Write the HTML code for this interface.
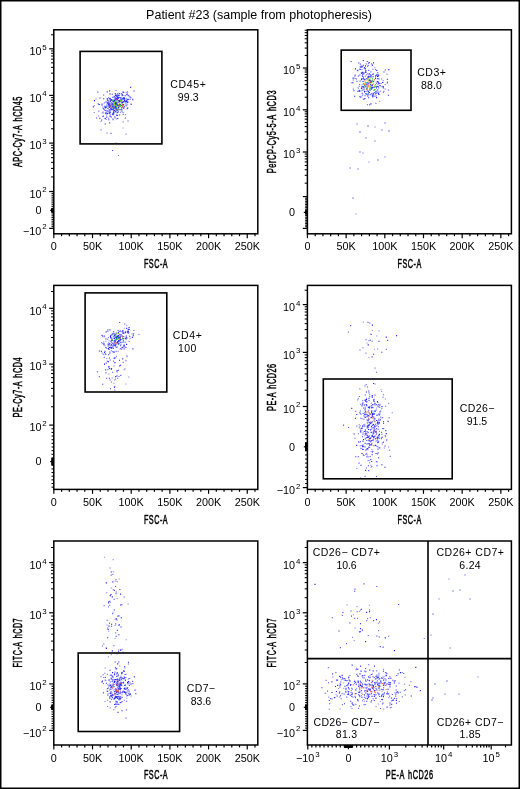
<!DOCTYPE html>
<html><head><meta charset="utf-8"><title>Patient #23</title>
<style>html,body{margin:0;padding:0;background:#fff;width:520px;height:789px;overflow:hidden}svg{display:block;-webkit-font-smoothing:antialiased;will-change:transform}</style>
</head><body>
<svg width="520" height="789" viewBox="0 0 520 789" font-family='"Liberation Sans", sans-serif'><rect x="0" y="0" width="520" height="789" fill="#fff"/><rect x="0.75" y="0.75" width="518.5" height="787.5" fill="none" stroke="#000" stroke-width="1.5"/><text x="259" y="19.4" font-size="12.5" text-anchor="middle" >Patient #23 (sample from photopheresis)</text><path fill="#1a1aff" fill-opacity="0.6" d="M116.46 102.95h1.1v1.1h-1.1zM110.22 99.35h1.1v1.1h-1.1zM109.94 97.79h1.1v1.1h-1.1zM116.25 108.48h1.1v1.1h-1.1zM107.04 107.99h1.1v1.1h-1.1zM116.22 118.28h1.1v1.1h-1.1zM122.47 104.04h1.1v1.1h-1.1zM111.96 102.48h1.1v1.1h-1.1zM120.49 101.03h1.1v1.1h-1.1zM121.23 95.27h1.1v1.1h-1.1zM113.21 99.43h1.1v1.1h-1.1zM102.5 111.52h1.1v1.1h-1.1zM114.32 98.51h1.1v1.1h-1.1zM116.28 99.46h1.1v1.1h-1.1zM116.41 106.39h1.1v1.1h-1.1zM120.53 97.27h1.1v1.1h-1.1zM102.2 106.42h1.1v1.1h-1.1zM112.08 99.42h1.1v1.1h-1.1zM119.9 97.23h1.1v1.1h-1.1zM110.44 99.71h1.1v1.1h-1.1zM115.99 114.58h1.1v1.1h-1.1zM112.65 100.92h1.1v1.1h-1.1zM111.59 104.07h1.1v1.1h-1.1zM116.51 103.91h1.1v1.1h-1.1zM113.82 97.08h1.1v1.1h-1.1zM109.07 106.68h1.1v1.1h-1.1zM111.18 106.85h1.1v1.1h-1.1zM112.67 104.29h1.1v1.1h-1.1zM107.94 97.15h1.1v1.1h-1.1zM116.61 95.39h1.1v1.1h-1.1zM127.05 98.68h1.1v1.1h-1.1zM107.72 108.09h1.1v1.1h-1.1zM101.68 112.49h1.1v1.1h-1.1zM116.02 94.54h1.1v1.1h-1.1zM110.24 103.93h1.1v1.1h-1.1zM130.63 103.95h1.1v1.1h-1.1zM114.41 101.53h1.1v1.1h-1.1zM93.69 111.89h1.1v1.1h-1.1zM108.24 100.98h1.1v1.1h-1.1zM109.87 104.88h1.1v1.1h-1.1zM117.55 108.04h1.1v1.1h-1.1zM116.72 98.73h1.1v1.1h-1.1zM109.15 111.98h1.1v1.1h-1.1zM124.11 98.98h1.1v1.1h-1.1zM116.4 110.13h1.1v1.1h-1.1zM98.16 104.25h1.1v1.1h-1.1zM108.91 102.66h1.1v1.1h-1.1zM115.2 111.13h1.1v1.1h-1.1zM103.73 102.28h1.1v1.1h-1.1zM127.43 101.31h1.1v1.1h-1.1zM114.9 102.29h1.1v1.1h-1.1zM117.79 100.69h1.1v1.1h-1.1zM114.64 93.1h1.1v1.1h-1.1zM107.72 110.4h1.1v1.1h-1.1zM124.02 97.51h1.1v1.1h-1.1zM126.8 100.97h1.1v1.1h-1.1zM116.17 103.42h1.1v1.1h-1.1zM117.9 101.75h1.1v1.1h-1.1zM119.17 114.27h1.1v1.1h-1.1zM106.59 110.88h1.1v1.1h-1.1zM125.44 133.6h1.1v1.1h-1.1zM112.19 106.27h1.1v1.1h-1.1zM106.69 110.18h1.1v1.1h-1.1zM116.91 101.83h1.1v1.1h-1.1zM97.97 115.45h1.1v1.1h-1.1zM105.61 109.74h1.1v1.1h-1.1zM105.64 118.89h1.1v1.1h-1.1zM93.65 105.04h1.1v1.1h-1.1zM114.66 117.35h1.1v1.1h-1.1zM111.79 113.39h1.1v1.1h-1.1zM113.32 113.3h1.1v1.1h-1.1zM100.55 129.32h1.1v1.1h-1.1zM117.95 154.95h1.1v1.1h-1.1zM115.45 142.45h1.1v1.1h-1.1zM95.45 98.45h1.1v1.1h-1.1zM382.85 91.78h1.1v1.1h-1.1zM367.37 77.34h1.1v1.1h-1.1zM369.29 80.3h1.1v1.1h-1.1zM374.44 95.77h1.1v1.1h-1.1zM361.43 69.13h1.1v1.1h-1.1zM384.62 84.02h1.1v1.1h-1.1zM381.06 78.46h1.1v1.1h-1.1zM380.01 90.73h1.1v1.1h-1.1zM371.53 92.67h1.1v1.1h-1.1zM378.9 82.72h1.1v1.1h-1.1zM374.81 93.59h1.1v1.1h-1.1zM364.62 86.04h1.1v1.1h-1.1zM372.11 73.81h1.1v1.1h-1.1zM365.43 93.27h1.1v1.1h-1.1zM365.21 86.44h1.1v1.1h-1.1zM377.8 92.73h1.1v1.1h-1.1zM371.05 92.94h1.1v1.1h-1.1zM383.37 90.83h1.1v1.1h-1.1zM374.97 90.94h1.1v1.1h-1.1zM374.35 67.25h1.1v1.1h-1.1zM372.14 80.25h1.1v1.1h-1.1zM376.64 91.87h1.1v1.1h-1.1zM364.48 95.07h1.1v1.1h-1.1zM352.81 88.55h1.1v1.1h-1.1zM362.2 72.54h1.1v1.1h-1.1zM370.38 85.73h1.1v1.1h-1.1zM362.15 66.35h1.1v1.1h-1.1zM375.69 95.33h1.1v1.1h-1.1zM367.46 73.12h1.1v1.1h-1.1zM364.72 75.59h1.1v1.1h-1.1zM378.25 75.02h1.1v1.1h-1.1zM360.82 73h1.1v1.1h-1.1zM375.97 85.73h1.1v1.1h-1.1zM368.63 79.69h1.1v1.1h-1.1zM380.48 82.93h1.1v1.1h-1.1zM367.43 82.08h1.1v1.1h-1.1zM377.98 74.85h1.1v1.1h-1.1zM362.74 89.41h1.1v1.1h-1.1zM370.65 93.53h1.1v1.1h-1.1zM361.51 90.06h1.1v1.1h-1.1zM370.17 80.39h1.1v1.1h-1.1zM363.07 72.4h1.1v1.1h-1.1zM368.22 74.49h1.1v1.1h-1.1zM359.66 66h1.1v1.1h-1.1zM364.96 71.08h1.1v1.1h-1.1zM360.38 66.29h1.1v1.1h-1.1zM359.73 65.68h1.1v1.1h-1.1zM371.09 63.34h1.1v1.1h-1.1zM367.71 64.8h1.1v1.1h-1.1zM374.45 126.45h1.1v1.1h-1.1zM368.45 161.45h1.1v1.1h-1.1zM355.45 213.45h1.1v1.1h-1.1zM138.37 333.95h1.1v1.1h-1.1zM124.59 338.04h1.1v1.1h-1.1zM116.65 336.01h1.1v1.1h-1.1zM127.96 328.78h1.1v1.1h-1.1zM118.28 339.8h1.1v1.1h-1.1zM118.28 336.48h1.1v1.1h-1.1zM131.35 333.27h1.1v1.1h-1.1zM112.64 337.59h1.1v1.1h-1.1zM117.6 350.73h1.1v1.1h-1.1zM122.72 330.15h1.1v1.1h-1.1zM108.7 344.69h1.1v1.1h-1.1zM115.84 338.01h1.1v1.1h-1.1zM115.31 339.54h1.1v1.1h-1.1zM101.6 352.47h1.1v1.1h-1.1zM112.88 345.46h1.1v1.1h-1.1zM110.88 350.25h1.1v1.1h-1.1zM118.79 330.97h1.1v1.1h-1.1zM113.79 351.56h1.1v1.1h-1.1zM132.68 334.36h1.1v1.1h-1.1zM122.04 346.78h1.1v1.1h-1.1zM118.95 339.6h1.1v1.1h-1.1zM119.39 337.68h1.1v1.1h-1.1zM115.75 336.62h1.1v1.1h-1.1zM123.61 344.47h1.1v1.1h-1.1zM114.38 345.09h1.1v1.1h-1.1zM123.36 336.14h1.1v1.1h-1.1zM107.19 338.61h1.1v1.1h-1.1zM113.84 351.73h1.1v1.1h-1.1zM112.82 347.79h1.1v1.1h-1.1zM107.85 336.89h1.1v1.1h-1.1zM111.91 345.43h1.1v1.1h-1.1zM119.83 335.72h1.1v1.1h-1.1zM118.39 341.04h1.1v1.1h-1.1zM108.26 342.15h1.1v1.1h-1.1zM122.3 332.73h1.1v1.1h-1.1zM123.1 333.01h1.1v1.1h-1.1zM125.78 335.2h1.1v1.1h-1.1zM125.65 335.88h1.1v1.1h-1.1zM107.76 345.7h1.1v1.1h-1.1zM107.38 369.04h1.1v1.1h-1.1zM122.62 361.85h1.1v1.1h-1.1zM115.1 378.44h1.1v1.1h-1.1zM101.16 342.05h1.1v1.1h-1.1zM109.2 368.07h1.1v1.1h-1.1zM112.12 371.85h1.1v1.1h-1.1zM113.46 365.47h1.1v1.1h-1.1zM128.24 376.38h1.1v1.1h-1.1zM106.17 357.94h1.1v1.1h-1.1zM119.47 348.41h1.1v1.1h-1.1zM116.84 371.43h1.1v1.1h-1.1zM111.66 377.51h1.1v1.1h-1.1zM103.8 343.36h1.1v1.1h-1.1zM117.08 369.99h1.1v1.1h-1.1zM113.49 382.71h1.1v1.1h-1.1zM108.28 373.45h1.1v1.1h-1.1zM103.76 335.29h1.1v1.1h-1.1zM126.55 356.1h1.1v1.1h-1.1zM124.35 368.37h1.1v1.1h-1.1zM372.49 427.11h1.1v1.1h-1.1zM359.84 403.63h1.1v1.1h-1.1zM368.1 409.84h1.1v1.1h-1.1zM377.01 453.55h1.1v1.1h-1.1zM359.89 429.61h1.1v1.1h-1.1zM377.59 436.06h1.1v1.1h-1.1zM368.7 440.61h1.1v1.1h-1.1zM384.93 436.14h1.1v1.1h-1.1zM373.31 416.6h1.1v1.1h-1.1zM373.58 435.98h1.1v1.1h-1.1zM355.21 410.78h1.1v1.1h-1.1zM364.42 416.33h1.1v1.1h-1.1zM369.26 422.48h1.1v1.1h-1.1zM384.6 435.07h1.1v1.1h-1.1zM372.94 399.08h1.1v1.1h-1.1zM367.24 449.16h1.1v1.1h-1.1zM379.31 406.72h1.1v1.1h-1.1zM368.84 435.25h1.1v1.1h-1.1zM363.04 407.59h1.1v1.1h-1.1zM363.38 415.34h1.1v1.1h-1.1zM363.03 448.95h1.1v1.1h-1.1zM371.18 411.3h1.1v1.1h-1.1zM369.16 394.26h1.1v1.1h-1.1zM376.32 414.9h1.1v1.1h-1.1zM366.28 405.35h1.1v1.1h-1.1zM371.15 428.65h1.1v1.1h-1.1zM356.23 413.99h1.1v1.1h-1.1zM372.5 407.07h1.1v1.1h-1.1zM366.07 452.63h1.1v1.1h-1.1zM363.52 454.92h1.1v1.1h-1.1zM379.36 410.82h1.1v1.1h-1.1zM370.33 464.74h1.1v1.1h-1.1zM368.27 447.24h1.1v1.1h-1.1zM378.61 447h1.1v1.1h-1.1zM359.84 412.87h1.1v1.1h-1.1zM361.66 445.24h1.1v1.1h-1.1zM359.64 445.2h1.1v1.1h-1.1zM359.53 425.35h1.1v1.1h-1.1zM377.19 446.03h1.1v1.1h-1.1zM391.67 412.21h1.1v1.1h-1.1zM377.04 442.19h1.1v1.1h-1.1zM366 456.13h1.1v1.1h-1.1zM363.91 404.56h1.1v1.1h-1.1zM377.71 423.83h1.1v1.1h-1.1zM380.18 410.58h1.1v1.1h-1.1zM361.46 418.12h1.1v1.1h-1.1zM369.61 422.36h1.1v1.1h-1.1zM359.31 388.29h1.1v1.1h-1.1zM373.6 430.37h1.1v1.1h-1.1zM368.65 422h1.1v1.1h-1.1zM368.51 406.12h1.1v1.1h-1.1zM365.15 431.51h1.1v1.1h-1.1zM364.62 433.26h1.1v1.1h-1.1zM370.96 443.86h1.1v1.1h-1.1zM357.88 433.24h1.1v1.1h-1.1zM365.06 432.92h1.1v1.1h-1.1zM366.01 397.65h1.1v1.1h-1.1zM373.32 445.1h1.1v1.1h-1.1zM370.01 444.27h1.1v1.1h-1.1zM370.58 466.71h1.1v1.1h-1.1zM370.55 450.97h1.1v1.1h-1.1zM379.84 419.09h1.1v1.1h-1.1zM371.26 442.87h1.1v1.1h-1.1zM386.2 440.26h1.1v1.1h-1.1zM384.83 398.4h1.1v1.1h-1.1zM373.65 429.15h1.1v1.1h-1.1zM388.07 446.49h1.1v1.1h-1.1zM378.74 435.31h1.1v1.1h-1.1zM357.04 399.52h1.1v1.1h-1.1zM367.83 419.57h1.1v1.1h-1.1zM370.99 431.86h1.1v1.1h-1.1zM378.87 437.87h1.1v1.1h-1.1zM374.96 410.72h1.1v1.1h-1.1zM363.38 424.12h1.1v1.1h-1.1zM371.32 406.41h1.1v1.1h-1.1zM379.17 404.89h1.1v1.1h-1.1zM367.14 426.02h1.1v1.1h-1.1zM381.93 428h1.1v1.1h-1.1zM382.53 396.54h1.1v1.1h-1.1zM377.96 426.09h1.1v1.1h-1.1zM360.45 413.71h1.1v1.1h-1.1zM368.04 415.52h1.1v1.1h-1.1zM361.72 427.7h1.1v1.1h-1.1zM373.23 400.41h1.1v1.1h-1.1zM371.27 465.95h1.1v1.1h-1.1zM376.99 348.48h1.1v1.1h-1.1zM365.36 352.57h1.1v1.1h-1.1zM362.8 321.45h1.1v1.1h-1.1zM374.42 367.59h1.1v1.1h-1.1zM347.85 331.57h1.1v1.1h-1.1zM385.83 348.81h1.1v1.1h-1.1zM359.41 349.31h1.1v1.1h-1.1zM368.44 340.12h1.1v1.1h-1.1zM111.66 686.55h1.1v1.1h-1.1zM115.99 673.42h1.1v1.1h-1.1zM126.21 687.47h1.1v1.1h-1.1zM116.32 691.9h1.1v1.1h-1.1zM122.8 690.7h1.1v1.1h-1.1zM112.1 676.37h1.1v1.1h-1.1zM120.31 684.98h1.1v1.1h-1.1zM121.27 694.25h1.1v1.1h-1.1zM120.54 675.49h1.1v1.1h-1.1zM117.72 686.2h1.1v1.1h-1.1zM125.85 694.15h1.1v1.1h-1.1zM115.71 696.99h1.1v1.1h-1.1zM104.54 667.48h1.1v1.1h-1.1zM120.18 676.67h1.1v1.1h-1.1zM106.77 699.7h1.1v1.1h-1.1zM112.5 685.93h1.1v1.1h-1.1zM124.17 688.4h1.1v1.1h-1.1zM113.76 683.91h1.1v1.1h-1.1zM113.79 691.07h1.1v1.1h-1.1zM116.41 684.73h1.1v1.1h-1.1zM121.24 679.3h1.1v1.1h-1.1zM124.16 688.76h1.1v1.1h-1.1zM107.08 705.88h1.1v1.1h-1.1zM112.7 698.16h1.1v1.1h-1.1zM120.38 692h1.1v1.1h-1.1zM111.34 692.36h1.1v1.1h-1.1zM110.52 684.85h1.1v1.1h-1.1zM129.08 693.71h1.1v1.1h-1.1zM104.49 700.92h1.1v1.1h-1.1zM117.7 673.82h1.1v1.1h-1.1zM116.89 701.57h1.1v1.1h-1.1zM109.93 692.22h1.1v1.1h-1.1zM120.63 684.65h1.1v1.1h-1.1zM104.62 679.56h1.1v1.1h-1.1zM116.24 701.09h1.1v1.1h-1.1zM110.7 686.88h1.1v1.1h-1.1zM117.7 688.35h1.1v1.1h-1.1zM124.04 676.8h1.1v1.1h-1.1zM117.63 693.99h1.1v1.1h-1.1zM119.99 690.4h1.1v1.1h-1.1zM109.95 686.86h1.1v1.1h-1.1zM121.68 677.5h1.1v1.1h-1.1zM115.38 683.27h1.1v1.1h-1.1zM117.45 679.8h1.1v1.1h-1.1zM119.21 665.51h1.1v1.1h-1.1zM103.14 676.93h1.1v1.1h-1.1zM105.23 679.89h1.1v1.1h-1.1zM128.42 677.92h1.1v1.1h-1.1zM115.66 668.65h1.1v1.1h-1.1zM110.56 674.3h1.1v1.1h-1.1zM130.64 695.51h1.1v1.1h-1.1zM123.76 699.71h1.1v1.1h-1.1zM114.38 671.53h1.1v1.1h-1.1zM107.43 693.37h1.1v1.1h-1.1zM113.59 698.88h1.1v1.1h-1.1zM119.56 684.42h1.1v1.1h-1.1zM126.36 692.51h1.1v1.1h-1.1zM106.55 624.38h1.1v1.1h-1.1zM116.5 653.35h1.1v1.1h-1.1zM114.58 624.99h1.1v1.1h-1.1zM109.13 604.78h1.1v1.1h-1.1zM112.35 573.79h1.1v1.1h-1.1zM122.54 651.68h1.1v1.1h-1.1zM112.66 588.99h1.1v1.1h-1.1zM118.02 624.66h1.1v1.1h-1.1zM107.9 606.32h1.1v1.1h-1.1zM127.58 603.41h1.1v1.1h-1.1zM110.82 654.22h1.1v1.1h-1.1zM110.69 587.4h1.1v1.1h-1.1zM109.7 601.59h1.1v1.1h-1.1zM106.17 592.19h1.1v1.1h-1.1zM115.06 632.3h1.1v1.1h-1.1zM351.35 702.74h1.1v1.1h-1.1zM341.99 678.44h1.1v1.1h-1.1zM379.17 689.54h1.1v1.1h-1.1zM347.79 692.23h1.1v1.1h-1.1zM383.46 683.64h1.1v1.1h-1.1zM389.84 707.07h1.1v1.1h-1.1zM362.16 677.26h1.1v1.1h-1.1zM368.53 688.37h1.1v1.1h-1.1zM369.3 693.55h1.1v1.1h-1.1zM372.27 676.27h1.1v1.1h-1.1zM374.62 678.52h1.1v1.1h-1.1zM376.78 692.17h1.1v1.1h-1.1zM364.05 696.83h1.1v1.1h-1.1zM360.14 665.99h1.1v1.1h-1.1zM351.48 707.98h1.1v1.1h-1.1zM348.71 688.62h1.1v1.1h-1.1zM327.8 667.07h1.1v1.1h-1.1zM356.1 687.77h1.1v1.1h-1.1zM389.12 695.6h1.1v1.1h-1.1zM380.4 681.48h1.1v1.1h-1.1zM368.18 664.1h1.1v1.1h-1.1zM345.6 679.99h1.1v1.1h-1.1zM360.95 695.17h1.1v1.1h-1.1zM355.35 703.79h1.1v1.1h-1.1zM392.73 698.45h1.1v1.1h-1.1zM351.94 692.41h1.1v1.1h-1.1zM351.74 688.62h1.1v1.1h-1.1zM386.92 691.62h1.1v1.1h-1.1zM376.21 670.3h1.1v1.1h-1.1zM387.87 681.77h1.1v1.1h-1.1zM403.77 690.12h1.1v1.1h-1.1zM385.87 684.36h1.1v1.1h-1.1zM368.62 689.52h1.1v1.1h-1.1zM354.12 682.89h1.1v1.1h-1.1zM357.34 668.67h1.1v1.1h-1.1zM364.92 703.94h1.1v1.1h-1.1zM390.54 677.79h1.1v1.1h-1.1zM403.98 683.72h1.1v1.1h-1.1zM370.24 684.8h1.1v1.1h-1.1zM398.74 700.88h1.1v1.1h-1.1zM346.98 693.96h1.1v1.1h-1.1zM361.26 692.64h1.1v1.1h-1.1zM364.96 689.98h1.1v1.1h-1.1zM379.02 686.36h1.1v1.1h-1.1zM337.26 724h1.1v1.1h-1.1zM325.6 679.79h1.1v1.1h-1.1zM360.53 681.98h1.1v1.1h-1.1zM390.93 700.34h1.1v1.1h-1.1zM363.09 698.98h1.1v1.1h-1.1zM348.01 682.85h1.1v1.1h-1.1zM383.14 708.5h1.1v1.1h-1.1zM349.42 674.95h1.1v1.1h-1.1zM372.36 680.21h1.1v1.1h-1.1zM373.93 676.93h1.1v1.1h-1.1zM404.68 694.31h1.1v1.1h-1.1zM332.37 676.49h1.1v1.1h-1.1zM355.97 667.66h1.1v1.1h-1.1zM377.22 675.68h1.1v1.1h-1.1zM381.8 694.26h1.1v1.1h-1.1zM369.68 688.82h1.1v1.1h-1.1zM379.33 685.98h1.1v1.1h-1.1zM341.88 704.07h1.1v1.1h-1.1zM365.03 678.72h1.1v1.1h-1.1zM389.63 684.06h1.1v1.1h-1.1zM397.26 691.03h1.1v1.1h-1.1zM372.87 685.74h1.1v1.1h-1.1zM368.67 696.18h1.1v1.1h-1.1zM371.91 673.39h1.1v1.1h-1.1zM363.83 700.67h1.1v1.1h-1.1zM374.72 692.22h1.1v1.1h-1.1zM355.54 669.04h1.1v1.1h-1.1zM352.39 696.71h1.1v1.1h-1.1zM340.72 679.21h1.1v1.1h-1.1zM387.35 688.44h1.1v1.1h-1.1zM374.34 689.68h1.1v1.1h-1.1zM372.97 676.41h1.1v1.1h-1.1zM391.03 706.7h1.1v1.1h-1.1zM397.9 692.32h1.1v1.1h-1.1zM343.14 687.77h1.1v1.1h-1.1zM378.27 694.35h1.1v1.1h-1.1zM373.44 686.89h1.1v1.1h-1.1zM377.79 687.53h1.1v1.1h-1.1zM398.39 682.59h1.1v1.1h-1.1zM365.35 692.67h1.1v1.1h-1.1zM423.69 638.01h1.1v1.1h-1.1zM346.55 604.47h1.1v1.1h-1.1zM358.84 610.71h1.1v1.1h-1.1zM354.38 627.45h1.1v1.1h-1.1zM377.83 622.68h1.1v1.1h-1.1zM378.02 630.08h1.1v1.1h-1.1zM356.66 611.09h1.1v1.1h-1.1zM359.96 609.48h1.1v1.1h-1.1zM366.15 620.11h1.1v1.1h-1.1zM356.48 606.24h1.1v1.1h-1.1zM448.45 578.45h1.1v1.1h-1.1zM477.45 676.45h1.1v1.1h-1.1z"/><path fill="#1a1aff" fill-opacity="0.9" d="M118.54 96.85h1.1v1.1h-1.1zM125.83 98.47h1.1v1.1h-1.1zM103.14 98.2h1.1v1.1h-1.1zM107.42 102.25h1.1v1.1h-1.1zM118.35 109.16h1.1v1.1h-1.1zM98.83 104h1.1v1.1h-1.1zM110.8 99.31h1.1v1.1h-1.1zM105.62 113.23h1.1v1.1h-1.1zM116.97 99.14h1.1v1.1h-1.1zM115.98 103.82h1.1v1.1h-1.1zM121.12 107.51h1.1v1.1h-1.1zM122.74 104.23h1.1v1.1h-1.1zM125.25 100.74h1.1v1.1h-1.1zM114.16 110.02h1.1v1.1h-1.1zM107.41 99.85h1.1v1.1h-1.1zM114.32 105.96h1.1v1.1h-1.1zM117.6 104.5h1.1v1.1h-1.1zM121.37 107.09h1.1v1.1h-1.1zM116.7 111.69h1.1v1.1h-1.1zM109.07 90.32h1.1v1.1h-1.1zM102.47 115.93h1.1v1.1h-1.1zM101.55 103.53h1.1v1.1h-1.1zM122.38 91.53h1.1v1.1h-1.1zM117.37 97.37h1.1v1.1h-1.1zM105.69 106.8h1.1v1.1h-1.1zM125.19 101.11h1.1v1.1h-1.1zM109.62 105.63h1.1v1.1h-1.1zM106.8 99.3h1.1v1.1h-1.1zM118.81 104.09h1.1v1.1h-1.1zM126.3 100.11h1.1v1.1h-1.1zM114.34 107h1.1v1.1h-1.1zM121.21 109.09h1.1v1.1h-1.1zM108.43 102.45h1.1v1.1h-1.1zM104.63 109.89h1.1v1.1h-1.1zM122.17 104.46h1.1v1.1h-1.1zM109.34 106.7h1.1v1.1h-1.1zM122.33 97.85h1.1v1.1h-1.1zM104.94 107.09h1.1v1.1h-1.1zM118.27 106.69h1.1v1.1h-1.1zM109.65 109.25h1.1v1.1h-1.1zM119.3 101.04h1.1v1.1h-1.1zM111.84 100.47h1.1v1.1h-1.1zM109.46 93.37h1.1v1.1h-1.1zM118.94 99.82h1.1v1.1h-1.1zM106.7 91.36h1.1v1.1h-1.1zM106.3 116.55h1.1v1.1h-1.1zM125.78 100.98h1.1v1.1h-1.1zM124.36 100.46h1.1v1.1h-1.1zM112.01 103.25h1.1v1.1h-1.1zM113.7 95.81h1.1v1.1h-1.1zM122.64 113.66h1.1v1.1h-1.1zM118.68 105.72h1.1v1.1h-1.1zM130.12 86.87h1.1v1.1h-1.1zM106.98 113.04h1.1v1.1h-1.1zM116.74 114.99h1.1v1.1h-1.1zM109.86 100.9h1.1v1.1h-1.1zM110.46 98.96h1.1v1.1h-1.1zM118.53 94.84h1.1v1.1h-1.1zM114.36 106.25h1.1v1.1h-1.1zM129.55 96.58h1.1v1.1h-1.1zM122.43 98.35h1.1v1.1h-1.1zM132.25 98.74h1.1v1.1h-1.1zM124.86 117.51h1.1v1.1h-1.1zM105.42 106.09h1.1v1.1h-1.1zM124.01 106.17h1.1v1.1h-1.1zM103.17 94.48h1.1v1.1h-1.1zM92.76 106.28h1.1v1.1h-1.1zM114.26 116.13h1.1v1.1h-1.1zM115.37 106.14h1.1v1.1h-1.1zM117.72 109.03h1.1v1.1h-1.1zM114.98 94.78h1.1v1.1h-1.1zM115.14 107.93h1.1v1.1h-1.1zM108.92 112.73h1.1v1.1h-1.1zM375.03 77.97h1.1v1.1h-1.1zM366.17 88.21h1.1v1.1h-1.1zM376.03 82.7h1.1v1.1h-1.1zM362.2 71.72h1.1v1.1h-1.1zM361.5 85.98h1.1v1.1h-1.1zM370.56 80.74h1.1v1.1h-1.1zM369.96 81.87h1.1v1.1h-1.1zM377.22 72.26h1.1v1.1h-1.1zM378.37 91.38h1.1v1.1h-1.1zM364.66 78.64h1.1v1.1h-1.1zM361.19 87.27h1.1v1.1h-1.1zM359.7 96.71h1.1v1.1h-1.1zM376.43 73.97h1.1v1.1h-1.1zM376.09 92.75h1.1v1.1h-1.1zM378.46 93.98h1.1v1.1h-1.1zM375.37 85.98h1.1v1.1h-1.1zM368.92 91.89h1.1v1.1h-1.1zM368.87 79.72h1.1v1.1h-1.1zM377.31 85.7h1.1v1.1h-1.1zM373.75 86.76h1.1v1.1h-1.1zM366.45 90.71h1.1v1.1h-1.1zM363.26 86.75h1.1v1.1h-1.1zM382.78 87.38h1.1v1.1h-1.1zM366.58 85.6h1.1v1.1h-1.1zM372.24 96.46h1.1v1.1h-1.1zM364 91.47h1.1v1.1h-1.1zM382.51 86.25h1.1v1.1h-1.1zM359.1 90.63h1.1v1.1h-1.1zM375.93 87.36h1.1v1.1h-1.1zM366.65 87.16h1.1v1.1h-1.1zM361.07 79.12h1.1v1.1h-1.1zM357.83 75.42h1.1v1.1h-1.1zM375.07 75.3h1.1v1.1h-1.1zM357.44 90.84h1.1v1.1h-1.1zM351.41 82.16h1.1v1.1h-1.1zM367.75 76.36h1.1v1.1h-1.1zM364.64 71.97h1.1v1.1h-1.1zM369.08 104.25h1.1v1.1h-1.1zM368.09 97.18h1.1v1.1h-1.1zM361.32 72.54h1.1v1.1h-1.1zM363.97 90.82h1.1v1.1h-1.1zM387.85 94.63h1.1v1.1h-1.1zM368.18 62.59h1.1v1.1h-1.1zM372.98 62.37h1.1v1.1h-1.1zM368.71 61.93h1.1v1.1h-1.1zM350.55 60.97h1.1v1.1h-1.1zM359.29 74.5h1.1v1.1h-1.1zM365.3 70.04h1.1v1.1h-1.1zM363.38 73.15h1.1v1.1h-1.1zM358.18 62.45h1.1v1.1h-1.1zM364.14 67.12h1.1v1.1h-1.1zM362.01 71.78h1.1v1.1h-1.1zM365.45 137.45h1.1v1.1h-1.1zM384.45 122.45h1.1v1.1h-1.1zM352.45 197.45h1.1v1.1h-1.1zM349.45 167.45h1.1v1.1h-1.1zM108.95 346.95h1.1v1.1h-1.1zM98.86 350.49h1.1v1.1h-1.1zM114.25 344.66h1.1v1.1h-1.1zM109.41 329.33h1.1v1.1h-1.1zM117.8 331.83h1.1v1.1h-1.1zM109.31 351.38h1.1v1.1h-1.1zM122.68 338.02h1.1v1.1h-1.1zM116.46 346.55h1.1v1.1h-1.1zM122.13 337.45h1.1v1.1h-1.1zM132.77 335.19h1.1v1.1h-1.1zM111.29 347.19h1.1v1.1h-1.1zM117.98 335.12h1.1v1.1h-1.1zM103.3 344.27h1.1v1.1h-1.1zM105.61 331.28h1.1v1.1h-1.1zM109.28 342.94h1.1v1.1h-1.1zM126.84 331.65h1.1v1.1h-1.1zM125.17 337.78h1.1v1.1h-1.1zM110.21 334.97h1.1v1.1h-1.1zM109.65 346.74h1.1v1.1h-1.1zM118.39 340.32h1.1v1.1h-1.1zM116.98 335.79h1.1v1.1h-1.1zM119.39 337.2h1.1v1.1h-1.1zM115.95 337.61h1.1v1.1h-1.1zM113.89 337.97h1.1v1.1h-1.1zM118.78 334.17h1.1v1.1h-1.1zM116.56 342.05h1.1v1.1h-1.1zM116.97 341.59h1.1v1.1h-1.1zM114.81 345.48h1.1v1.1h-1.1zM110.04 336.07h1.1v1.1h-1.1zM126.12 327.81h1.1v1.1h-1.1zM111.97 339.77h1.1v1.1h-1.1zM124.68 332.21h1.1v1.1h-1.1zM124.82 331.82h1.1v1.1h-1.1zM116.73 341.97h1.1v1.1h-1.1zM118.08 343.65h1.1v1.1h-1.1zM100.8 350.86h1.1v1.1h-1.1zM110.29 337.15h1.1v1.1h-1.1zM132.37 348.37h1.1v1.1h-1.1zM98.8 376.17h1.1v1.1h-1.1zM103.79 356.71h1.1v1.1h-1.1zM115.53 350.73h1.1v1.1h-1.1zM122.18 358.28h1.1v1.1h-1.1zM105.41 372.14h1.1v1.1h-1.1zM108.87 377.71h1.1v1.1h-1.1zM108.12 366.36h1.1v1.1h-1.1zM116.15 370.47h1.1v1.1h-1.1zM106.79 360.73h1.1v1.1h-1.1zM105.12 369.34h1.1v1.1h-1.1zM113.6 357.8h1.1v1.1h-1.1zM108.85 357.52h1.1v1.1h-1.1zM361.97 425.43h1.1v1.1h-1.1zM371.13 460.88h1.1v1.1h-1.1zM367.89 406.93h1.1v1.1h-1.1zM362.76 454.47h1.1v1.1h-1.1zM361.95 436.15h1.1v1.1h-1.1zM360.04 430.75h1.1v1.1h-1.1zM389.72 455.68h1.1v1.1h-1.1zM362.98 438.97h1.1v1.1h-1.1zM368.37 436.05h1.1v1.1h-1.1zM372.94 424h1.1v1.1h-1.1zM375.65 403.96h1.1v1.1h-1.1zM387.54 420.83h1.1v1.1h-1.1zM365.16 399.49h1.1v1.1h-1.1zM361.38 427.59h1.1v1.1h-1.1zM364.69 416.99h1.1v1.1h-1.1zM371.22 410.35h1.1v1.1h-1.1zM378.11 457.2h1.1v1.1h-1.1zM368.2 418.36h1.1v1.1h-1.1zM367.44 436.8h1.1v1.1h-1.1zM367.5 420.17h1.1v1.1h-1.1zM367.34 415.35h1.1v1.1h-1.1zM367.06 435.23h1.1v1.1h-1.1zM376.68 436.93h1.1v1.1h-1.1zM368.82 407.31h1.1v1.1h-1.1zM364.43 385.51h1.1v1.1h-1.1zM371.76 421.23h1.1v1.1h-1.1zM367.53 427.22h1.1v1.1h-1.1zM366.33 448.61h1.1v1.1h-1.1zM377.62 428.66h1.1v1.1h-1.1zM368.65 442.95h1.1v1.1h-1.1zM375.04 438.15h1.1v1.1h-1.1zM374.35 418.34h1.1v1.1h-1.1zM367.49 411.43h1.1v1.1h-1.1zM376.86 400.98h1.1v1.1h-1.1zM367.15 448h1.1v1.1h-1.1zM362.51 440.54h1.1v1.1h-1.1zM366.59 419.39h1.1v1.1h-1.1zM364.29 413.85h1.1v1.1h-1.1zM364.82 410.64h1.1v1.1h-1.1zM370.25 459.05h1.1v1.1h-1.1zM362.3 445.91h1.1v1.1h-1.1zM373.04 436.63h1.1v1.1h-1.1zM368.18 390.38h1.1v1.1h-1.1zM351.2 407.85h1.1v1.1h-1.1zM385.22 430.08h1.1v1.1h-1.1zM379.33 412.38h1.1v1.1h-1.1zM371.79 413.28h1.1v1.1h-1.1zM375.61 409.4h1.1v1.1h-1.1zM371.17 405.17h1.1v1.1h-1.1zM384.49 445.38h1.1v1.1h-1.1zM377.46 448.57h1.1v1.1h-1.1zM364.25 425.56h1.1v1.1h-1.1zM366.28 416.16h1.1v1.1h-1.1zM370.76 444.38h1.1v1.1h-1.1zM373.27 432.3h1.1v1.1h-1.1zM377.03 422.05h1.1v1.1h-1.1zM367.46 424.79h1.1v1.1h-1.1zM370.94 426.12h1.1v1.1h-1.1zM367.84 465.27h1.1v1.1h-1.1zM356.13 444.8h1.1v1.1h-1.1zM379.23 447.38h1.1v1.1h-1.1zM365.88 391.43h1.1v1.1h-1.1zM372.99 382.94h1.1v1.1h-1.1zM368.13 424.38h1.1v1.1h-1.1zM371.38 440.02h1.1v1.1h-1.1zM370.13 441.19h1.1v1.1h-1.1zM367.36 443.24h1.1v1.1h-1.1zM368.17 470.06h1.1v1.1h-1.1zM376.44 461.2h1.1v1.1h-1.1zM370.1 422.91h1.1v1.1h-1.1zM369.08 423.76h1.1v1.1h-1.1zM376.73 436.63h1.1v1.1h-1.1zM361.08 427.9h1.1v1.1h-1.1zM369.26 438.52h1.1v1.1h-1.1zM362.13 448.86h1.1v1.1h-1.1zM381.27 351.76h1.1v1.1h-1.1zM396 335.07h1.1v1.1h-1.1zM110.31 695.08h1.1v1.1h-1.1zM116.29 682.38h1.1v1.1h-1.1zM120.81 678.74h1.1v1.1h-1.1zM120.1 688.03h1.1v1.1h-1.1zM114.68 696.13h1.1v1.1h-1.1zM115.66 695.95h1.1v1.1h-1.1zM118.41 697.61h1.1v1.1h-1.1zM115.16 679.11h1.1v1.1h-1.1zM134.51 689.62h1.1v1.1h-1.1zM114.56 689.26h1.1v1.1h-1.1zM109.62 701.32h1.1v1.1h-1.1zM108.37 685.5h1.1v1.1h-1.1zM125.13 692.12h1.1v1.1h-1.1zM110.68 678.51h1.1v1.1h-1.1zM125.38 717.38h1.1v1.1h-1.1zM127.54 682.35h1.1v1.1h-1.1zM118.76 692.5h1.1v1.1h-1.1zM114.08 673.36h1.1v1.1h-1.1zM114.15 681.08h1.1v1.1h-1.1zM114.23 693.47h1.1v1.1h-1.1zM127.92 661.74h1.1v1.1h-1.1zM112.06 684.75h1.1v1.1h-1.1zM113.95 674.23h1.1v1.1h-1.1zM120.67 682.33h1.1v1.1h-1.1zM116.82 681.53h1.1v1.1h-1.1zM111.14 696.25h1.1v1.1h-1.1zM118.62 682.5h1.1v1.1h-1.1zM117.44 711.83h1.1v1.1h-1.1zM122.88 681.72h1.1v1.1h-1.1zM133.76 676.28h1.1v1.1h-1.1zM116.62 696.47h1.1v1.1h-1.1zM108.53 679.3h1.1v1.1h-1.1zM120.07 696.19h1.1v1.1h-1.1zM119.8 698.32h1.1v1.1h-1.1zM119.12 678.61h1.1v1.1h-1.1zM118.49 695.82h1.1v1.1h-1.1zM119.75 702.03h1.1v1.1h-1.1zM120.69 677.27h1.1v1.1h-1.1zM124.61 673.97h1.1v1.1h-1.1zM121.22 672.35h1.1v1.1h-1.1zM123.54 670.99h1.1v1.1h-1.1zM118.31 661.52h1.1v1.1h-1.1zM114.6 661.44h1.1v1.1h-1.1zM124.82 684.59h1.1v1.1h-1.1zM113.79 693.77h1.1v1.1h-1.1zM101.99 680.4h1.1v1.1h-1.1zM110.4 692.74h1.1v1.1h-1.1zM129.39 682.39h1.1v1.1h-1.1zM116.27 691h1.1v1.1h-1.1zM114.78 697.37h1.1v1.1h-1.1zM111.26 675.19h1.1v1.1h-1.1zM114.92 703.38h1.1v1.1h-1.1zM115.94 691.65h1.1v1.1h-1.1zM119.79 688.33h1.1v1.1h-1.1zM129.51 693.57h1.1v1.1h-1.1zM123.13 682.42h1.1v1.1h-1.1zM120.57 683.01h1.1v1.1h-1.1zM120.01 593.6h1.1v1.1h-1.1zM120.03 604.41h1.1v1.1h-1.1zM105.9 647.86h1.1v1.1h-1.1zM115.57 635.63h1.1v1.1h-1.1zM115.88 618.3h1.1v1.1h-1.1zM111.76 596.3h1.1v1.1h-1.1zM120.22 649.99h1.1v1.1h-1.1zM107.09 637.25h1.1v1.1h-1.1zM118.05 651.16h1.1v1.1h-1.1zM118.85 624.35h1.1v1.1h-1.1zM111.03 625.72h1.1v1.1h-1.1zM112.28 581.31h1.1v1.1h-1.1zM113.77 589.85h1.1v1.1h-1.1zM109.73 595.06h1.1v1.1h-1.1zM113.54 598.75h1.1v1.1h-1.1zM108.99 622.77h1.1v1.1h-1.1zM115.49 579.21h1.1v1.1h-1.1zM117.39 615.55h1.1v1.1h-1.1zM115.45 618.26h1.1v1.1h-1.1zM119.31 589h1.1v1.1h-1.1zM344.29 678.11h1.1v1.1h-1.1zM358.96 705.4h1.1v1.1h-1.1zM389.76 681.95h1.1v1.1h-1.1zM369.53 689.81h1.1v1.1h-1.1zM348.65 679.54h1.1v1.1h-1.1zM364.44 683.57h1.1v1.1h-1.1zM359.45 673.37h1.1v1.1h-1.1zM368.05 676.29h1.1v1.1h-1.1zM349.53 680.56h1.1v1.1h-1.1zM373.8 696.01h1.1v1.1h-1.1zM372.62 670.31h1.1v1.1h-1.1zM357.52 675.82h1.1v1.1h-1.1zM378.27 683.43h1.1v1.1h-1.1zM373.76 699.94h1.1v1.1h-1.1zM370.79 674h1.1v1.1h-1.1zM387.13 693.32h1.1v1.1h-1.1zM365.33 671.17h1.1v1.1h-1.1zM370.49 701.48h1.1v1.1h-1.1zM386.56 706.59h1.1v1.1h-1.1zM375.06 685.95h1.1v1.1h-1.1zM362.1 683.55h1.1v1.1h-1.1zM382.96 670.67h1.1v1.1h-1.1zM344.95 679.68h1.1v1.1h-1.1zM383.08 679.58h1.1v1.1h-1.1zM419.83 690.1h1.1v1.1h-1.1zM382.57 702.44h1.1v1.1h-1.1zM377.05 677.4h1.1v1.1h-1.1zM405.04 689.13h1.1v1.1h-1.1zM363.61 704.18h1.1v1.1h-1.1zM331.38 681.31h1.1v1.1h-1.1zM369.33 684.09h1.1v1.1h-1.1zM381.81 699.07h1.1v1.1h-1.1zM369.43 677.07h1.1v1.1h-1.1zM374.56 683.28h1.1v1.1h-1.1zM343.57 693.45h1.1v1.1h-1.1zM397.61 673.14h1.1v1.1h-1.1zM351.86 702.44h1.1v1.1h-1.1zM396.26 674.93h1.1v1.1h-1.1zM336.59 695.52h1.1v1.1h-1.1zM388.12 677.89h1.1v1.1h-1.1zM367.77 696.9h1.1v1.1h-1.1zM371.07 681.9h1.1v1.1h-1.1zM395.63 689.43h1.1v1.1h-1.1zM356.31 673.74h1.1v1.1h-1.1zM329.11 703.18h1.1v1.1h-1.1zM382.62 689.15h1.1v1.1h-1.1zM335.92 690.92h1.1v1.1h-1.1zM341.78 677.26h1.1v1.1h-1.1zM342.66 678.19h1.1v1.1h-1.1zM358.37 691.81h1.1v1.1h-1.1zM356.69 668.75h1.1v1.1h-1.1zM369.18 669.59h1.1v1.1h-1.1zM351.29 695.85h1.1v1.1h-1.1zM346.34 685.1h1.1v1.1h-1.1zM378.47 682.44h1.1v1.1h-1.1zM393.59 680.7h1.1v1.1h-1.1zM340.05 676.53h1.1v1.1h-1.1zM367.86 694.67h1.1v1.1h-1.1zM348.27 676.6h1.1v1.1h-1.1zM358.49 683.52h1.1v1.1h-1.1zM333.94 697.1h1.1v1.1h-1.1zM371.45 695.84h1.1v1.1h-1.1zM382.93 696.05h1.1v1.1h-1.1zM366.27 689.64h1.1v1.1h-1.1zM361.72 685.81h1.1v1.1h-1.1zM359.25 691.37h1.1v1.1h-1.1zM389.7 683.45h1.1v1.1h-1.1zM359.89 680.7h1.1v1.1h-1.1zM348.17 682.61h1.1v1.1h-1.1zM366.49 690.59h1.1v1.1h-1.1zM355.23 689.31h1.1v1.1h-1.1zM380.59 682.51h1.1v1.1h-1.1zM391.12 703.85h1.1v1.1h-1.1zM373.96 665.53h1.1v1.1h-1.1zM345.18 690.63h1.1v1.1h-1.1zM350.21 700.67h1.1v1.1h-1.1zM348.02 693.6h1.1v1.1h-1.1zM328.74 699.94h1.1v1.1h-1.1zM351.61 664.59h1.1v1.1h-1.1zM371.75 680.95h1.1v1.1h-1.1zM382.38 693.44h1.1v1.1h-1.1zM360.64 685.3h1.1v1.1h-1.1zM343.96 703.16h1.1v1.1h-1.1zM366.22 700.63h1.1v1.1h-1.1zM367.68 688.47h1.1v1.1h-1.1zM383.25 694.43h1.1v1.1h-1.1zM350.5 610.38h1.1v1.1h-1.1zM354.12 590.75h1.1v1.1h-1.1zM368.95 611.05h1.1v1.1h-1.1zM342.38 611.98h1.1v1.1h-1.1zM379.72 646.07h1.1v1.1h-1.1zM398.15 603.97h1.1v1.1h-1.1zM382.57 646.53h1.1v1.1h-1.1zM361.76 629.57h1.1v1.1h-1.1zM349.35 622.45h1.1v1.1h-1.1zM360 631.21h1.1v1.1h-1.1zM358.92 631.31h1.1v1.1h-1.1zM359.95 628.11h1.1v1.1h-1.1zM459.45 589.45h1.1v1.1h-1.1zM452.45 590.45h1.1v1.1h-1.1zM432.45 613.45h1.1v1.1h-1.1zM434.45 683.45h1.1v1.1h-1.1zM432.45 697.45h1.1v1.1h-1.1z"/><path fill="#ff8000" fill-opacity="0.85" d="M114.53 105.18h1.1v1.1h-1.1zM117.55 104.8h1.1v1.1h-1.1zM115.13 98.57h1.1v1.1h-1.1zM113.36 101.2h1.1v1.1h-1.1zM121.65 104.15h1.1v1.1h-1.1zM119.1 104.62h1.1v1.1h-1.1zM120.49 100.68h1.1v1.1h-1.1zM112.3 106.62h1.1v1.1h-1.1zM120.91 100.17h1.1v1.1h-1.1zM370.82 82.09h1.1v1.1h-1.1zM369.08 88.94h1.1v1.1h-1.1zM369.67 82.09h1.1v1.1h-1.1zM367.6 85.99h1.1v1.1h-1.1zM369.12 86.46h1.1v1.1h-1.1zM370.44 79.95h1.1v1.1h-1.1zM364.85 82.11h1.1v1.1h-1.1zM368.54 81.36h1.1v1.1h-1.1zM116.97 336.63h1.1v1.1h-1.1zM121.69 335.55h1.1v1.1h-1.1zM122 336h1.1v1.1h-1.1z"/><path fill="#1a1aff" fill-opacity="0.7" d="M113.27 111.16h1.1v1.1h-1.1zM112.11 104.51h1.1v1.1h-1.1zM117.19 96.42h1.1v1.1h-1.1zM114.8 106.65h1.1v1.1h-1.1zM115.14 97.52h1.1v1.1h-1.1zM117.24 93.04h1.1v1.1h-1.1zM109.6 113.56h1.1v1.1h-1.1zM117.22 104.64h1.1v1.1h-1.1zM116.9 94.42h1.1v1.1h-1.1zM125.96 94.06h1.1v1.1h-1.1zM130.45 97.17h1.1v1.1h-1.1zM108.05 103.46h1.1v1.1h-1.1zM126.52 92.33h1.1v1.1h-1.1zM115.77 98.05h1.1v1.1h-1.1zM113.45 108.51h1.1v1.1h-1.1zM118.92 93.06h1.1v1.1h-1.1zM108.65 97.72h1.1v1.1h-1.1zM118.88 92.91h1.1v1.1h-1.1zM115.22 96.82h1.1v1.1h-1.1zM117.8 97.49h1.1v1.1h-1.1zM108.53 110.94h1.1v1.1h-1.1zM126.54 108.18h1.1v1.1h-1.1zM116.09 103.73h1.1v1.1h-1.1zM110.9 99.75h1.1v1.1h-1.1zM128.03 98.82h1.1v1.1h-1.1zM106.27 104.62h1.1v1.1h-1.1zM104.12 106.13h1.1v1.1h-1.1zM121.59 99.3h1.1v1.1h-1.1zM108.69 109.38h1.1v1.1h-1.1zM115.47 90.01h1.1v1.1h-1.1zM120.24 104.93h1.1v1.1h-1.1zM121.92 93.92h1.1v1.1h-1.1zM122.48 111.96h1.1v1.1h-1.1zM129.6 98.65h1.1v1.1h-1.1zM115.82 107.19h1.1v1.1h-1.1zM113.23 111.3h1.1v1.1h-1.1zM124.53 101.3h1.1v1.1h-1.1zM101.05 119.57h1.1v1.1h-1.1zM107.18 101.61h1.1v1.1h-1.1zM128.5 95.53h1.1v1.1h-1.1zM113.2 100.98h1.1v1.1h-1.1zM116.02 102.1h1.1v1.1h-1.1zM127.15 101.97h1.1v1.1h-1.1zM112.56 113.73h1.1v1.1h-1.1zM123.2 104.46h1.1v1.1h-1.1zM114.69 100.22h1.1v1.1h-1.1zM116.83 105.03h1.1v1.1h-1.1zM116.04 106.88h1.1v1.1h-1.1zM120 109.25h1.1v1.1h-1.1zM108.69 104.3h1.1v1.1h-1.1zM112.24 108.99h1.1v1.1h-1.1zM109.14 105.05h1.1v1.1h-1.1zM115.07 111.2h1.1v1.1h-1.1zM104.65 117.86h1.1v1.1h-1.1zM117.82 111.28h1.1v1.1h-1.1zM101.43 104.68h1.1v1.1h-1.1zM106.77 102.89h1.1v1.1h-1.1zM97.28 91.55h1.1v1.1h-1.1zM118.2 97.44h1.1v1.1h-1.1zM108.12 117.64h1.1v1.1h-1.1zM114.79 102.46h1.1v1.1h-1.1zM109.65 99.93h1.1v1.1h-1.1zM110.45 132.83h1.1v1.1h-1.1zM98.34 110.59h1.1v1.1h-1.1zM109.97 111.44h1.1v1.1h-1.1zM112.39 118.26h1.1v1.1h-1.1zM106.45 132.45h1.1v1.1h-1.1zM371.75 84.77h1.1v1.1h-1.1zM377.96 81.83h1.1v1.1h-1.1zM370.36 71.31h1.1v1.1h-1.1zM364.4 90.92h1.1v1.1h-1.1zM359.05 83.89h1.1v1.1h-1.1zM369.21 89.03h1.1v1.1h-1.1zM369.95 79.72h1.1v1.1h-1.1zM386.48 73.73h1.1v1.1h-1.1zM362.18 94.56h1.1v1.1h-1.1zM361.69 92.8h1.1v1.1h-1.1zM376.64 81.06h1.1v1.1h-1.1zM367.73 76.51h1.1v1.1h-1.1zM369.58 89.85h1.1v1.1h-1.1zM384.61 88.52h1.1v1.1h-1.1zM372.23 94.24h1.1v1.1h-1.1zM367.76 93.07h1.1v1.1h-1.1zM367.81 83.05h1.1v1.1h-1.1zM358.71 85.68h1.1v1.1h-1.1zM381.38 86.26h1.1v1.1h-1.1zM361.53 78.1h1.1v1.1h-1.1zM382.62 80.23h1.1v1.1h-1.1zM361.13 88.24h1.1v1.1h-1.1zM378.13 87.31h1.1v1.1h-1.1zM361.15 96.41h1.1v1.1h-1.1zM353.4 77.55h1.1v1.1h-1.1zM364.09 88.49h1.1v1.1h-1.1zM362.61 88.45h1.1v1.1h-1.1zM371.71 95.51h1.1v1.1h-1.1zM365.32 85.5h1.1v1.1h-1.1zM375.04 76.32h1.1v1.1h-1.1zM373.24 95.58h1.1v1.1h-1.1zM367.14 83.21h1.1v1.1h-1.1zM375.14 69.03h1.1v1.1h-1.1zM352.41 82.09h1.1v1.1h-1.1zM354.39 75.76h1.1v1.1h-1.1zM377.39 75.2h1.1v1.1h-1.1zM363.73 79.19h1.1v1.1h-1.1zM370.5 87.83h1.1v1.1h-1.1zM368.99 88.7h1.1v1.1h-1.1zM387.01 81.62h1.1v1.1h-1.1zM366.72 78.4h1.1v1.1h-1.1zM356.88 69.8h1.1v1.1h-1.1zM361.17 65.56h1.1v1.1h-1.1zM372.34 68.73h1.1v1.1h-1.1zM357.03 69.68h1.1v1.1h-1.1zM360.87 72.21h1.1v1.1h-1.1zM367.1 65.79h1.1v1.1h-1.1zM384.45 156.45h1.1v1.1h-1.1zM362.45 152.45h1.1v1.1h-1.1zM120.1 345.11h1.1v1.1h-1.1zM116.04 336.85h1.1v1.1h-1.1zM128.57 340.96h1.1v1.1h-1.1zM122.26 341.73h1.1v1.1h-1.1zM116.7 341.22h1.1v1.1h-1.1zM119.78 330.36h1.1v1.1h-1.1zM111.1 334.27h1.1v1.1h-1.1zM126.3 337.45h1.1v1.1h-1.1zM117.46 342.58h1.1v1.1h-1.1zM120.15 347.95h1.1v1.1h-1.1zM122.26 332.31h1.1v1.1h-1.1zM111.49 338.86h1.1v1.1h-1.1zM111.42 346.7h1.1v1.1h-1.1zM119.61 337.77h1.1v1.1h-1.1zM120.33 341.4h1.1v1.1h-1.1zM111.59 338.71h1.1v1.1h-1.1zM113.51 341.74h1.1v1.1h-1.1zM107.34 329.13h1.1v1.1h-1.1zM105.33 353.63h1.1v1.1h-1.1zM114.58 341.91h1.1v1.1h-1.1zM118.15 339.99h1.1v1.1h-1.1zM107.51 343.54h1.1v1.1h-1.1zM111.01 347.56h1.1v1.1h-1.1zM103.19 341.44h1.1v1.1h-1.1zM119.85 335.51h1.1v1.1h-1.1zM127.52 332.7h1.1v1.1h-1.1zM122.89 340.42h1.1v1.1h-1.1zM102 335.2h1.1v1.1h-1.1zM115.79 332.53h1.1v1.1h-1.1zM111.64 333.4h1.1v1.1h-1.1zM112.51 333.49h1.1v1.1h-1.1zM129.53 337.77h1.1v1.1h-1.1zM111.38 334.47h1.1v1.1h-1.1zM107.52 344.49h1.1v1.1h-1.1zM133.41 330.01h1.1v1.1h-1.1zM104.48 345.25h1.1v1.1h-1.1zM108.75 366.15h1.1v1.1h-1.1zM114.24 389.45h1.1v1.1h-1.1zM110.89 343.94h1.1v1.1h-1.1zM112.95 360.56h1.1v1.1h-1.1zM118.47 376h1.1v1.1h-1.1zM110.81 368.7h1.1v1.1h-1.1zM106.13 377.85h1.1v1.1h-1.1zM122.71 339.49h1.1v1.1h-1.1zM115.9 355.63h1.1v1.1h-1.1zM114.16 362.49h1.1v1.1h-1.1zM117.15 377.67h1.1v1.1h-1.1zM111.04 367.98h1.1v1.1h-1.1zM101.33 334.85h1.1v1.1h-1.1zM114.22 379.4h1.1v1.1h-1.1zM106.37 347.88h1.1v1.1h-1.1zM117.65 340.84h1.1v1.1h-1.1zM110.9 381.49h1.1v1.1h-1.1zM365.13 433.97h1.1v1.1h-1.1zM366.37 434.65h1.1v1.1h-1.1zM371.65 435.1h1.1v1.1h-1.1zM357.8 398.22h1.1v1.1h-1.1zM380.96 431.85h1.1v1.1h-1.1zM373.98 413.37h1.1v1.1h-1.1zM371.6 395.72h1.1v1.1h-1.1zM377.81 441.83h1.1v1.1h-1.1zM364.36 409.43h1.1v1.1h-1.1zM366.05 414.23h1.1v1.1h-1.1zM369.47 405.71h1.1v1.1h-1.1zM371.13 407.44h1.1v1.1h-1.1zM386.21 439.18h1.1v1.1h-1.1zM381.35 433.67h1.1v1.1h-1.1zM376.07 427.88h1.1v1.1h-1.1zM382.11 417.12h1.1v1.1h-1.1zM385.17 405.66h1.1v1.1h-1.1zM362.34 402.24h1.1v1.1h-1.1zM362.47 433.67h1.1v1.1h-1.1zM373.35 437.75h1.1v1.1h-1.1zM368.48 392.29h1.1v1.1h-1.1zM370.41 437.12h1.1v1.1h-1.1zM365.44 400.58h1.1v1.1h-1.1zM366.6 427.29h1.1v1.1h-1.1zM377.93 422.28h1.1v1.1h-1.1zM364.94 430.69h1.1v1.1h-1.1zM378.89 430.64h1.1v1.1h-1.1zM369.1 462.22h1.1v1.1h-1.1zM369.17 437.88h1.1v1.1h-1.1zM382.89 441.52h1.1v1.1h-1.1zM388.1 402.73h1.1v1.1h-1.1zM375.41 429.36h1.1v1.1h-1.1zM371.06 412.42h1.1v1.1h-1.1zM367.51 426.36h1.1v1.1h-1.1zM363.36 418.7h1.1v1.1h-1.1zM361.58 444.97h1.1v1.1h-1.1zM372.74 432.59h1.1v1.1h-1.1zM374.81 431.33h1.1v1.1h-1.1zM374.52 383.5h1.1v1.1h-1.1zM389.06 449.64h1.1v1.1h-1.1zM380.84 438.08h1.1v1.1h-1.1zM378.09 440.65h1.1v1.1h-1.1zM382.93 394.22h1.1v1.1h-1.1zM378.57 414.7h1.1v1.1h-1.1zM372.72 439.52h1.1v1.1h-1.1zM364.58 475.81h1.1v1.1h-1.1zM355.25 456.04h1.1v1.1h-1.1zM378.23 419.53h1.1v1.1h-1.1zM373.59 400.96h1.1v1.1h-1.1zM364.79 411.72h1.1v1.1h-1.1zM356.28 425.62h1.1v1.1h-1.1zM366.05 404.55h1.1v1.1h-1.1zM377.45 437.43h1.1v1.1h-1.1zM373.9 425.92h1.1v1.1h-1.1zM378.07 413.39h1.1v1.1h-1.1zM358.68 426.74h1.1v1.1h-1.1zM374.55 394.54h1.1v1.1h-1.1zM367.33 436.48h1.1v1.1h-1.1zM354.39 437.77h1.1v1.1h-1.1zM383 422.79h1.1v1.1h-1.1zM366.18 401.73h1.1v1.1h-1.1zM358.75 396h1.1v1.1h-1.1zM374.15 420.73h1.1v1.1h-1.1zM362.32 403.02h1.1v1.1h-1.1zM364.36 435.27h1.1v1.1h-1.1zM377.39 405.18h1.1v1.1h-1.1zM375.86 445.41h1.1v1.1h-1.1zM364.81 438.3h1.1v1.1h-1.1zM369.25 444.18h1.1v1.1h-1.1zM381.7 443.47h1.1v1.1h-1.1zM377.08 420.72h1.1v1.1h-1.1zM372.64 424.59h1.1v1.1h-1.1zM348.01 426.9h1.1v1.1h-1.1zM377.79 403.88h1.1v1.1h-1.1zM373.71 404.17h1.1v1.1h-1.1zM362.12 400.16h1.1v1.1h-1.1zM383.72 447.38h1.1v1.1h-1.1zM359.09 412.23h1.1v1.1h-1.1zM372.12 436.11h1.1v1.1h-1.1zM375.03 426.13h1.1v1.1h-1.1zM365.61 383.94h1.1v1.1h-1.1zM365.88 467.47h1.1v1.1h-1.1zM362.43 347.21h1.1v1.1h-1.1zM367.44 321.8h1.1v1.1h-1.1zM375.91 371.64h1.1v1.1h-1.1zM123.97 691.14h1.1v1.1h-1.1zM115.18 667.76h1.1v1.1h-1.1zM123.39 670.33h1.1v1.1h-1.1zM109.94 681.42h1.1v1.1h-1.1zM120.08 683.74h1.1v1.1h-1.1zM117.34 690.45h1.1v1.1h-1.1zM123.91 687.98h1.1v1.1h-1.1zM114.91 666.92h1.1v1.1h-1.1zM115.28 693.06h1.1v1.1h-1.1zM128.58 694.69h1.1v1.1h-1.1zM116.74 687.14h1.1v1.1h-1.1zM128.61 691.31h1.1v1.1h-1.1zM118.56 699.28h1.1v1.1h-1.1zM116.32 694.13h1.1v1.1h-1.1zM106.81 688.18h1.1v1.1h-1.1zM119.05 688.8h1.1v1.1h-1.1zM110.73 677.58h1.1v1.1h-1.1zM124.33 667.38h1.1v1.1h-1.1zM119.26 689.01h1.1v1.1h-1.1zM110.97 698.86h1.1v1.1h-1.1zM118.77 684.5h1.1v1.1h-1.1zM116.87 693.83h1.1v1.1h-1.1zM117.74 685.38h1.1v1.1h-1.1zM125.06 693.28h1.1v1.1h-1.1zM113.98 680.55h1.1v1.1h-1.1zM126.9 687.93h1.1v1.1h-1.1zM117.07 696.07h1.1v1.1h-1.1zM127.83 663.43h1.1v1.1h-1.1zM107.38 684.19h1.1v1.1h-1.1zM121.7 671.67h1.1v1.1h-1.1zM112.56 683.35h1.1v1.1h-1.1zM126.21 695.49h1.1v1.1h-1.1zM112.42 679.42h1.1v1.1h-1.1zM125.35 676.99h1.1v1.1h-1.1zM118.86 685.6h1.1v1.1h-1.1zM119.54 698.18h1.1v1.1h-1.1zM117.63 696.11h1.1v1.1h-1.1zM115.35 688.35h1.1v1.1h-1.1zM115.75 702.26h1.1v1.1h-1.1zM123.94 684.78h1.1v1.1h-1.1zM118.17 683.84h1.1v1.1h-1.1zM118.3 703.82h1.1v1.1h-1.1zM111.96 694.05h1.1v1.1h-1.1zM124.42 687.18h1.1v1.1h-1.1zM119.66 693.09h1.1v1.1h-1.1zM117.52 691.08h1.1v1.1h-1.1zM132.01 680.85h1.1v1.1h-1.1zM124.11 677.68h1.1v1.1h-1.1zM123.5 688.09h1.1v1.1h-1.1zM102.81 682.9h1.1v1.1h-1.1zM109.92 692.9h1.1v1.1h-1.1zM107.93 687.52h1.1v1.1h-1.1zM117.75 680.98h1.1v1.1h-1.1zM113.2 709.23h1.1v1.1h-1.1zM104.35 672.68h1.1v1.1h-1.1zM121.59 696.84h1.1v1.1h-1.1zM117 682.88h1.1v1.1h-1.1zM114.26 691.09h1.1v1.1h-1.1zM119.35 698.27h1.1v1.1h-1.1zM111.66 678.63h1.1v1.1h-1.1zM100.39 676.2h1.1v1.1h-1.1zM121.94 682.25h1.1v1.1h-1.1zM112.44 676.77h1.1v1.1h-1.1zM127.62 689.23h1.1v1.1h-1.1zM127.11 686.91h1.1v1.1h-1.1zM116.65 685.07h1.1v1.1h-1.1zM116.98 680.79h1.1v1.1h-1.1zM118.51 615.32h1.1v1.1h-1.1zM103.24 643.5h1.1v1.1h-1.1zM117.96 649.45h1.1v1.1h-1.1zM109.42 567.41h1.1v1.1h-1.1zM113.74 609.31h1.1v1.1h-1.1zM110.67 574.6h1.1v1.1h-1.1zM115.44 593.1h1.1v1.1h-1.1zM116.54 581.26h1.1v1.1h-1.1zM101.88 645.48h1.1v1.1h-1.1zM112.11 613.06h1.1v1.1h-1.1zM107.17 627.61h1.1v1.1h-1.1zM378.42 684.83h1.1v1.1h-1.1zM361.93 700.21h1.1v1.1h-1.1zM388.85 683.8h1.1v1.1h-1.1zM354.9 697.05h1.1v1.1h-1.1zM358.96 687.32h1.1v1.1h-1.1zM347.94 677.41h1.1v1.1h-1.1zM339.2 696.42h1.1v1.1h-1.1zM368.54 679.86h1.1v1.1h-1.1zM379.17 678.09h1.1v1.1h-1.1zM366.58 686.7h1.1v1.1h-1.1zM375.65 681.67h1.1v1.1h-1.1zM394.47 692.14h1.1v1.1h-1.1zM347.82 684.24h1.1v1.1h-1.1zM359.11 689.27h1.1v1.1h-1.1zM372.86 689.16h1.1v1.1h-1.1zM374.41 690.22h1.1v1.1h-1.1zM381.94 703.4h1.1v1.1h-1.1zM395.15 695.53h1.1v1.1h-1.1zM357.94 700.43h1.1v1.1h-1.1zM354.48 695.83h1.1v1.1h-1.1zM408.81 684.76h1.1v1.1h-1.1zM379.37 682.74h1.1v1.1h-1.1zM376.96 684.39h1.1v1.1h-1.1zM399.69 691.68h1.1v1.1h-1.1zM398.86 669.3h1.1v1.1h-1.1zM347.12 684.33h1.1v1.1h-1.1zM351.11 687.67h1.1v1.1h-1.1zM365.55 680.8h1.1v1.1h-1.1zM339.32 686.72h1.1v1.1h-1.1zM365 680.24h1.1v1.1h-1.1zM375.25 675.72h1.1v1.1h-1.1zM338.76 692.69h1.1v1.1h-1.1zM375.38 678.34h1.1v1.1h-1.1zM401.59 671.91h1.1v1.1h-1.1zM359.99 665.5h1.1v1.1h-1.1zM377.59 676.78h1.1v1.1h-1.1zM388.75 681.9h1.1v1.1h-1.1zM360.5 682.35h1.1v1.1h-1.1zM340.04 695.09h1.1v1.1h-1.1zM326.98 690.55h1.1v1.1h-1.1zM340.69 698.13h1.1v1.1h-1.1zM358.75 685.26h1.1v1.1h-1.1zM321.41 687.05h1.1v1.1h-1.1zM368.49 683.21h1.1v1.1h-1.1zM385.73 672.59h1.1v1.1h-1.1zM392.61 699.6h1.1v1.1h-1.1zM350.46 691.93h1.1v1.1h-1.1zM339.46 682.68h1.1v1.1h-1.1zM376.37 677.12h1.1v1.1h-1.1zM382.16 677.96h1.1v1.1h-1.1zM373.05 687.56h1.1v1.1h-1.1zM357.75 681.24h1.1v1.1h-1.1zM378.19 676.56h1.1v1.1h-1.1zM359.29 696.17h1.1v1.1h-1.1zM335.36 672.08h1.1v1.1h-1.1zM350.91 690.26h1.1v1.1h-1.1zM376.37 674.39h1.1v1.1h-1.1zM371.25 691.03h1.1v1.1h-1.1zM384.35 683.18h1.1v1.1h-1.1zM377.64 692.84h1.1v1.1h-1.1zM344.36 685.82h1.1v1.1h-1.1zM346.22 696.58h1.1v1.1h-1.1zM382.41 676.55h1.1v1.1h-1.1zM363.52 677.28h1.1v1.1h-1.1zM346.5 680.06h1.1v1.1h-1.1zM376.65 682.16h1.1v1.1h-1.1zM371.26 686.51h1.1v1.1h-1.1zM364.15 674.8h1.1v1.1h-1.1zM378.37 672.71h1.1v1.1h-1.1zM366.43 695.61h1.1v1.1h-1.1zM363.36 687.2h1.1v1.1h-1.1zM357.99 707.79h1.1v1.1h-1.1zM401.74 696.37h1.1v1.1h-1.1zM357.16 698.95h1.1v1.1h-1.1zM348.14 687.63h1.1v1.1h-1.1zM378.66 693.54h1.1v1.1h-1.1zM339.43 685.08h1.1v1.1h-1.1zM350.35 706.25h1.1v1.1h-1.1zM375.52 687.8h1.1v1.1h-1.1zM410.37 681.21h1.1v1.1h-1.1zM364.75 684h1.1v1.1h-1.1zM389.64 677.48h1.1v1.1h-1.1zM384.91 671.92h1.1v1.1h-1.1zM353.95 681.27h1.1v1.1h-1.1zM351.13 693.97h1.1v1.1h-1.1zM328.78 708.65h1.1v1.1h-1.1zM381.04 698.94h1.1v1.1h-1.1zM378.41 678.57h1.1v1.1h-1.1zM331.6 698.41h1.1v1.1h-1.1zM376.83 680.3h1.1v1.1h-1.1zM378.71 636.36h1.1v1.1h-1.1zM345.97 643.09h1.1v1.1h-1.1zM367.7 634.96h1.1v1.1h-1.1zM369.78 617.24h1.1v1.1h-1.1zM379.07 621.37h1.1v1.1h-1.1zM369.03 609.42h1.1v1.1h-1.1zM331.75 617.04h1.1v1.1h-1.1zM388.07 635.77h1.1v1.1h-1.1zM354.18 617.81h1.1v1.1h-1.1zM360.88 608.83h1.1v1.1h-1.1zM341.74 614.82h1.1v1.1h-1.1zM438.45 598.45h1.1v1.1h-1.1zM430.45 634.45h1.1v1.1h-1.1z"/><path fill="#1a1aff" fill-opacity="0.8" d="M109.51 112.01h1.1v1.1h-1.1zM113.25 110.54h1.1v1.1h-1.1zM103.56 108.8h1.1v1.1h-1.1zM107.58 104.49h1.1v1.1h-1.1zM112.68 109.61h1.1v1.1h-1.1zM117.29 97.83h1.1v1.1h-1.1zM108.14 103.53h1.1v1.1h-1.1zM110.89 108.92h1.1v1.1h-1.1zM120.98 101.72h1.1v1.1h-1.1zM115.6 103.87h1.1v1.1h-1.1zM113.34 100.7h1.1v1.1h-1.1zM121.02 104.71h1.1v1.1h-1.1zM121.13 98.49h1.1v1.1h-1.1zM104.63 117.96h1.1v1.1h-1.1zM117.89 94.76h1.1v1.1h-1.1zM115.9 102.12h1.1v1.1h-1.1zM115.62 98.71h1.1v1.1h-1.1zM112.07 108.67h1.1v1.1h-1.1zM107.51 106.05h1.1v1.1h-1.1zM123.21 97.83h1.1v1.1h-1.1zM110.8 102.18h1.1v1.1h-1.1zM111.75 93.7h1.1v1.1h-1.1zM116.95 97.03h1.1v1.1h-1.1zM118.49 104.93h1.1v1.1h-1.1zM112.89 103.56h1.1v1.1h-1.1zM115.39 105.43h1.1v1.1h-1.1zM106.78 98.1h1.1v1.1h-1.1zM123.1 107.25h1.1v1.1h-1.1zM123.22 101.09h1.1v1.1h-1.1zM122.9 98.45h1.1v1.1h-1.1zM126.84 93.75h1.1v1.1h-1.1zM104.95 107.09h1.1v1.1h-1.1zM109.52 102.66h1.1v1.1h-1.1zM110.97 107.74h1.1v1.1h-1.1zM116.35 107.81h1.1v1.1h-1.1zM111.61 104.51h1.1v1.1h-1.1zM102.67 107.81h1.1v1.1h-1.1zM112.74 112.61h1.1v1.1h-1.1zM116.78 112.11h1.1v1.1h-1.1zM120.32 99.09h1.1v1.1h-1.1zM117.96 94.94h1.1v1.1h-1.1zM107.55 112.4h1.1v1.1h-1.1zM126.67 102.03h1.1v1.1h-1.1zM122.87 97.36h1.1v1.1h-1.1zM121.13 93.29h1.1v1.1h-1.1zM117.22 95.64h1.1v1.1h-1.1zM112.39 100.16h1.1v1.1h-1.1zM127.67 94.83h1.1v1.1h-1.1zM114.86 98.6h1.1v1.1h-1.1zM114.8 103.82h1.1v1.1h-1.1zM119.68 106.16h1.1v1.1h-1.1zM130.56 103.56h1.1v1.1h-1.1zM110.11 107.92h1.1v1.1h-1.1zM127.12 98.89h1.1v1.1h-1.1zM123.17 91.8h1.1v1.1h-1.1zM115.01 93.13h1.1v1.1h-1.1zM120.59 93.25h1.1v1.1h-1.1zM102.82 115.47h1.1v1.1h-1.1zM121.39 110.58h1.1v1.1h-1.1zM104.48 107.15h1.1v1.1h-1.1zM111.7 105.89h1.1v1.1h-1.1zM108.26 119.23h1.1v1.1h-1.1zM109.3 109.64h1.1v1.1h-1.1zM119.71 103.93h1.1v1.1h-1.1zM112.55 119.26h1.1v1.1h-1.1zM105.35 101.38h1.1v1.1h-1.1zM105.46 111.78h1.1v1.1h-1.1zM125.73 105.24h1.1v1.1h-1.1zM97.65 103.23h1.1v1.1h-1.1zM117.13 109.69h1.1v1.1h-1.1zM109.12 122.3h1.1v1.1h-1.1zM96.07 117.41h1.1v1.1h-1.1zM111.95 149.95h1.1v1.1h-1.1zM127.45 120.45h1.1v1.1h-1.1zM360.89 87.98h1.1v1.1h-1.1zM367.64 76.39h1.1v1.1h-1.1zM386.8 78.79h1.1v1.1h-1.1zM359.56 80.62h1.1v1.1h-1.1zM374.97 92.41h1.1v1.1h-1.1zM369.72 94.18h1.1v1.1h-1.1zM365.54 83.23h1.1v1.1h-1.1zM376.2 74.88h1.1v1.1h-1.1zM366.02 78.22h1.1v1.1h-1.1zM364.15 84.31h1.1v1.1h-1.1zM366.76 84.22h1.1v1.1h-1.1zM378.39 78.42h1.1v1.1h-1.1zM366.25 74.24h1.1v1.1h-1.1zM372.5 76.07h1.1v1.1h-1.1zM352.5 77.56h1.1v1.1h-1.1zM362.78 98.65h1.1v1.1h-1.1zM357.7 87.43h1.1v1.1h-1.1zM377.12 81.04h1.1v1.1h-1.1zM366.89 104.22h1.1v1.1h-1.1zM370.07 84.08h1.1v1.1h-1.1zM372.39 80.69h1.1v1.1h-1.1zM369.91 76.2h1.1v1.1h-1.1zM369.82 74.39h1.1v1.1h-1.1zM367.3 95.59h1.1v1.1h-1.1zM355.89 78.52h1.1v1.1h-1.1zM356.34 80.73h1.1v1.1h-1.1zM369 73.32h1.1v1.1h-1.1zM354.58 74.56h1.1v1.1h-1.1zM387.75 89.47h1.1v1.1h-1.1zM378.04 93.3h1.1v1.1h-1.1zM366.41 93.81h1.1v1.1h-1.1zM376.09 90.63h1.1v1.1h-1.1zM352.72 79.48h1.1v1.1h-1.1zM373.06 81.02h1.1v1.1h-1.1zM363.85 98.5h1.1v1.1h-1.1zM362.3 73.97h1.1v1.1h-1.1zM370.7 75.23h1.1v1.1h-1.1zM371.11 88.81h1.1v1.1h-1.1zM384.75 69.48h1.1v1.1h-1.1zM386.77 82.47h1.1v1.1h-1.1zM358.48 89.71h1.1v1.1h-1.1zM375.33 102.74h1.1v1.1h-1.1zM365.39 93.09h1.1v1.1h-1.1zM367.86 91.33h1.1v1.1h-1.1zM360.43 66.79h1.1v1.1h-1.1zM372.12 95.33h1.1v1.1h-1.1zM368.5 76.03h1.1v1.1h-1.1zM365.78 83.69h1.1v1.1h-1.1zM369.15 82.5h1.1v1.1h-1.1zM359.42 95.88h1.1v1.1h-1.1zM382.79 86.03h1.1v1.1h-1.1zM369.48 76.4h1.1v1.1h-1.1zM363.73 67.72h1.1v1.1h-1.1zM357.35 70.24h1.1v1.1h-1.1zM371.78 64.53h1.1v1.1h-1.1zM361.04 78.62h1.1v1.1h-1.1zM366.79 60.94h1.1v1.1h-1.1zM365.56 71.74h1.1v1.1h-1.1zM365.75 63.43h1.1v1.1h-1.1zM359.74 63.61h1.1v1.1h-1.1zM359.23 68.53h1.1v1.1h-1.1zM368.22 69.8h1.1v1.1h-1.1zM359.91 68.98h1.1v1.1h-1.1zM356.45 123.45h1.1v1.1h-1.1zM374.45 140.45h1.1v1.1h-1.1zM359.45 151.45h1.1v1.1h-1.1zM357.45 168.45h1.1v1.1h-1.1zM381.45 129.45h1.1v1.1h-1.1zM110.93 344.59h1.1v1.1h-1.1zM117.41 335.44h1.1v1.1h-1.1zM109.77 335.85h1.1v1.1h-1.1zM109.82 346.7h1.1v1.1h-1.1zM127.82 330.91h1.1v1.1h-1.1zM124.22 323.49h1.1v1.1h-1.1zM113.29 343.6h1.1v1.1h-1.1zM117.5 329.98h1.1v1.1h-1.1zM114.02 334.89h1.1v1.1h-1.1zM123.2 332.28h1.1v1.1h-1.1zM114 337.64h1.1v1.1h-1.1zM120.39 343.65h1.1v1.1h-1.1zM116.26 335.4h1.1v1.1h-1.1zM115.41 333.77h1.1v1.1h-1.1zM114.9 336.94h1.1v1.1h-1.1zM117.16 336.33h1.1v1.1h-1.1zM118.18 336.7h1.1v1.1h-1.1zM122 330.14h1.1v1.1h-1.1zM112.47 332.64h1.1v1.1h-1.1zM113.77 333.2h1.1v1.1h-1.1zM114.69 334.1h1.1v1.1h-1.1zM111.31 342.26h1.1v1.1h-1.1zM111.07 347.21h1.1v1.1h-1.1zM112.21 343.01h1.1v1.1h-1.1zM125.41 346.9h1.1v1.1h-1.1zM110.13 337.03h1.1v1.1h-1.1zM127.58 329.36h1.1v1.1h-1.1zM102.38 336.26h1.1v1.1h-1.1zM114.74 340.84h1.1v1.1h-1.1zM120.3 341.94h1.1v1.1h-1.1zM113.43 340.51h1.1v1.1h-1.1zM128.11 332.03h1.1v1.1h-1.1zM114.28 336.43h1.1v1.1h-1.1zM102.5 343.1h1.1v1.1h-1.1zM109.36 352.77h1.1v1.1h-1.1zM110.41 344.68h1.1v1.1h-1.1zM117.37 332.97h1.1v1.1h-1.1zM121.58 347.03h1.1v1.1h-1.1zM121.4 335.28h1.1v1.1h-1.1zM120.6 331.26h1.1v1.1h-1.1zM114.06 340.37h1.1v1.1h-1.1zM119.89 339.65h1.1v1.1h-1.1zM119.39 336.43h1.1v1.1h-1.1zM122.15 330.83h1.1v1.1h-1.1zM112.81 335.74h1.1v1.1h-1.1zM104.55 350.68h1.1v1.1h-1.1zM133.15 333.24h1.1v1.1h-1.1zM115.51 344.15h1.1v1.1h-1.1zM112.52 344.61h1.1v1.1h-1.1zM125.21 331.25h1.1v1.1h-1.1zM116.27 338.88h1.1v1.1h-1.1zM117.97 337.78h1.1v1.1h-1.1zM114.13 357.27h1.1v1.1h-1.1zM107.23 330.54h1.1v1.1h-1.1zM109.67 359.5h1.1v1.1h-1.1zM109.95 388.27h1.1v1.1h-1.1zM118.01 369.76h1.1v1.1h-1.1zM102.13 383.66h1.1v1.1h-1.1zM105.63 362.54h1.1v1.1h-1.1zM121.16 348.63h1.1v1.1h-1.1zM120.29 374.81h1.1v1.1h-1.1zM125.44 360.15h1.1v1.1h-1.1zM116.41 375.34h1.1v1.1h-1.1zM102.75 353.65h1.1v1.1h-1.1zM96.85 371.13h1.1v1.1h-1.1zM119.11 322.02h1.1v1.1h-1.1zM114.54 362.01h1.1v1.1h-1.1zM109.57 379.47h1.1v1.1h-1.1zM119.07 365.33h1.1v1.1h-1.1zM123.65 348.31h1.1v1.1h-1.1zM113.31 351.62h1.1v1.1h-1.1zM108.81 367.98h1.1v1.1h-1.1zM110.94 368.28h1.1v1.1h-1.1zM364.55 399.49h1.1v1.1h-1.1zM370.5 431.85h1.1v1.1h-1.1zM368.46 397.8h1.1v1.1h-1.1zM358.26 441.76h1.1v1.1h-1.1zM359.84 410.38h1.1v1.1h-1.1zM375.89 476.02h1.1v1.1h-1.1zM365.31 449.59h1.1v1.1h-1.1zM364.4 400h1.1v1.1h-1.1zM377.03 438.31h1.1v1.1h-1.1zM359.89 441.22h1.1v1.1h-1.1zM369.56 440.18h1.1v1.1h-1.1zM377.7 406.24h1.1v1.1h-1.1zM365.05 400.58h1.1v1.1h-1.1zM362.57 445.94h1.1v1.1h-1.1zM364.38 446.29h1.1v1.1h-1.1zM362.56 444.51h1.1v1.1h-1.1zM367.64 431.86h1.1v1.1h-1.1zM358.47 462.59h1.1v1.1h-1.1zM379.34 403.66h1.1v1.1h-1.1zM369.87 429.48h1.1v1.1h-1.1zM372.57 439.32h1.1v1.1h-1.1zM357.75 456.17h1.1v1.1h-1.1zM371.79 396.95h1.1v1.1h-1.1zM361.7 404.21h1.1v1.1h-1.1zM364.71 408.32h1.1v1.1h-1.1zM342.99 424.54h1.1v1.1h-1.1zM372.28 435.92h1.1v1.1h-1.1zM368.57 421.63h1.1v1.1h-1.1zM370.99 422.07h1.1v1.1h-1.1zM373.92 427.42h1.1v1.1h-1.1zM376.65 423.09h1.1v1.1h-1.1zM372.25 450.84h1.1v1.1h-1.1zM364.6 406.63h1.1v1.1h-1.1zM368.35 439.82h1.1v1.1h-1.1zM374.45 435.61h1.1v1.1h-1.1zM373.4 430.6h1.1v1.1h-1.1zM369.17 396.24h1.1v1.1h-1.1zM360.44 447.86h1.1v1.1h-1.1zM373.39 412.72h1.1v1.1h-1.1zM379.09 413.99h1.1v1.1h-1.1zM374.86 423.67h1.1v1.1h-1.1zM381.31 408.17h1.1v1.1h-1.1zM362.46 425.56h1.1v1.1h-1.1zM367.02 414.26h1.1v1.1h-1.1zM360.04 477.38h1.1v1.1h-1.1zM382.59 441.97h1.1v1.1h-1.1zM368.69 412.57h1.1v1.1h-1.1zM368.25 425.19h1.1v1.1h-1.1zM368.41 446.57h1.1v1.1h-1.1zM377.25 401.94h1.1v1.1h-1.1zM371.71 424.78h1.1v1.1h-1.1zM368.81 443.19h1.1v1.1h-1.1zM371.7 415.08h1.1v1.1h-1.1zM366.25 440.01h1.1v1.1h-1.1zM360.29 417.65h1.1v1.1h-1.1zM368.76 424.63h1.1v1.1h-1.1zM376.27 425.27h1.1v1.1h-1.1zM369.57 455.95h1.1v1.1h-1.1zM370.48 422.24h1.1v1.1h-1.1zM361.41 405.28h1.1v1.1h-1.1zM369.71 413.96h1.1v1.1h-1.1zM362.61 412.97h1.1v1.1h-1.1zM366.91 422.44h1.1v1.1h-1.1zM373.72 436.21h1.1v1.1h-1.1zM369.04 444.7h1.1v1.1h-1.1zM366.01 404.16h1.1v1.1h-1.1zM366.62 431.25h1.1v1.1h-1.1zM360.3 431.61h1.1v1.1h-1.1zM366.7 425.54h1.1v1.1h-1.1zM366.89 386.5h1.1v1.1h-1.1zM372.16 416.05h1.1v1.1h-1.1zM370.57 417.27h1.1v1.1h-1.1zM364.7 394.4h1.1v1.1h-1.1zM375.74 431.68h1.1v1.1h-1.1zM368.21 414.89h1.1v1.1h-1.1zM368.51 399.78h1.1v1.1h-1.1zM388.56 417.18h1.1v1.1h-1.1zM383.13 428.12h1.1v1.1h-1.1zM377.48 437.08h1.1v1.1h-1.1zM378.38 418.44h1.1v1.1h-1.1zM373.16 413.83h1.1v1.1h-1.1zM367.42 456.28h1.1v1.1h-1.1zM375.24 431.21h1.1v1.1h-1.1zM376.45 465.08h1.1v1.1h-1.1zM377.97 434.71h1.1v1.1h-1.1zM373.5 419.39h1.1v1.1h-1.1zM371.61 340.64h1.1v1.1h-1.1zM365.47 339.17h1.1v1.1h-1.1zM378.41 340.78h1.1v1.1h-1.1zM387.05 339.86h1.1v1.1h-1.1zM369.84 339.77h1.1v1.1h-1.1zM369.21 322.52h1.1v1.1h-1.1zM350.13 325.05h1.1v1.1h-1.1zM371.56 356.37h1.1v1.1h-1.1zM115.23 690.76h1.1v1.1h-1.1zM107.24 694.77h1.1v1.1h-1.1zM107.07 690.84h1.1v1.1h-1.1zM122.31 690.74h1.1v1.1h-1.1zM128.08 693.24h1.1v1.1h-1.1zM123 678.06h1.1v1.1h-1.1zM112.69 684.53h1.1v1.1h-1.1zM120.27 684.12h1.1v1.1h-1.1zM124.12 666.09h1.1v1.1h-1.1zM113.58 686.23h1.1v1.1h-1.1zM119.88 683.91h1.1v1.1h-1.1zM121.2 673.03h1.1v1.1h-1.1zM115.4 705.99h1.1v1.1h-1.1zM111 686.06h1.1v1.1h-1.1zM122.1 677.73h1.1v1.1h-1.1zM121.52 672.41h1.1v1.1h-1.1zM123.41 678.18h1.1v1.1h-1.1zM125.27 688.41h1.1v1.1h-1.1zM129.86 693.57h1.1v1.1h-1.1zM119.75 689.01h1.1v1.1h-1.1zM116.8 683.38h1.1v1.1h-1.1zM125.7 688.62h1.1v1.1h-1.1zM123.24 678.22h1.1v1.1h-1.1zM102.61 674.22h1.1v1.1h-1.1zM121.51 701.08h1.1v1.1h-1.1zM123.85 691.8h1.1v1.1h-1.1zM118.43 688.91h1.1v1.1h-1.1zM122.52 691.34h1.1v1.1h-1.1zM111.53 694.78h1.1v1.1h-1.1zM110.4 688.79h1.1v1.1h-1.1zM116.58 684.51h1.1v1.1h-1.1zM127.02 682h1.1v1.1h-1.1zM104.77 676.81h1.1v1.1h-1.1zM116.42 681.46h1.1v1.1h-1.1zM127.13 694.79h1.1v1.1h-1.1zM102.87 692.33h1.1v1.1h-1.1zM111.55 680.75h1.1v1.1h-1.1zM109.13 696.52h1.1v1.1h-1.1zM114.57 707.15h1.1v1.1h-1.1zM123.98 687.93h1.1v1.1h-1.1zM113.69 679.06h1.1v1.1h-1.1zM109.52 685.19h1.1v1.1h-1.1zM128.78 684.84h1.1v1.1h-1.1zM112.72 694.66h1.1v1.1h-1.1zM132.31 682.89h1.1v1.1h-1.1zM121.56 692.15h1.1v1.1h-1.1zM115.31 700.67h1.1v1.1h-1.1zM125.79 709.46h1.1v1.1h-1.1zM115.38 697.01h1.1v1.1h-1.1zM111.95 696.87h1.1v1.1h-1.1zM117.86 692.32h1.1v1.1h-1.1zM118.31 698.64h1.1v1.1h-1.1zM106.49 690.38h1.1v1.1h-1.1zM125.4 691.56h1.1v1.1h-1.1zM114.42 692.79h1.1v1.1h-1.1zM119.49 677.34h1.1v1.1h-1.1zM127.2 690.43h1.1v1.1h-1.1zM116.27 703.83h1.1v1.1h-1.1zM113.97 697.74h1.1v1.1h-1.1zM110.51 690.92h1.1v1.1h-1.1zM105.9 682.64h1.1v1.1h-1.1zM115.56 696.62h1.1v1.1h-1.1zM114.32 681.15h1.1v1.1h-1.1zM127.26 683.2h1.1v1.1h-1.1zM116.19 690.84h1.1v1.1h-1.1zM126.09 700.7h1.1v1.1h-1.1zM116.18 667.98h1.1v1.1h-1.1zM124.56 688.72h1.1v1.1h-1.1zM116.41 619.46h1.1v1.1h-1.1zM106.6 619.77h1.1v1.1h-1.1zM108.04 602.49h1.1v1.1h-1.1zM119.82 649.13h1.1v1.1h-1.1zM109.13 600.76h1.1v1.1h-1.1zM116.8 629.86h1.1v1.1h-1.1zM123.55 596.38h1.1v1.1h-1.1zM115 585.88h1.1v1.1h-1.1zM108.11 601.36h1.1v1.1h-1.1zM115.68 591.48h1.1v1.1h-1.1zM103.62 605.21h1.1v1.1h-1.1zM115.19 623.32h1.1v1.1h-1.1zM121.45 648.71h1.1v1.1h-1.1zM113.35 645.27h1.1v1.1h-1.1zM415.25 686.08h1.1v1.1h-1.1zM352.21 704.1h1.1v1.1h-1.1zM389.35 704.43h1.1v1.1h-1.1zM365.04 667.94h1.1v1.1h-1.1zM351.43 693.64h1.1v1.1h-1.1zM386.31 673.23h1.1v1.1h-1.1zM378.38 674.47h1.1v1.1h-1.1zM365.4 687.13h1.1v1.1h-1.1zM381.06 694.64h1.1v1.1h-1.1zM347.83 686.96h1.1v1.1h-1.1zM353.27 704.54h1.1v1.1h-1.1zM345.37 687.84h1.1v1.1h-1.1zM380.3 680.34h1.1v1.1h-1.1zM387.62 689.27h1.1v1.1h-1.1zM327.97 682.19h1.1v1.1h-1.1zM392.31 679.63h1.1v1.1h-1.1zM374 689.91h1.1v1.1h-1.1zM395.69 685.48h1.1v1.1h-1.1zM374.31 695.27h1.1v1.1h-1.1zM340.25 681.48h1.1v1.1h-1.1zM379.15 696.01h1.1v1.1h-1.1zM376.13 689.33h1.1v1.1h-1.1zM341.55 693.24h1.1v1.1h-1.1zM403.25 672.94h1.1v1.1h-1.1zM380.79 688.77h1.1v1.1h-1.1zM375.43 694.27h1.1v1.1h-1.1zM372.78 685.03h1.1v1.1h-1.1zM370.94 693.12h1.1v1.1h-1.1zM380.04 707.9h1.1v1.1h-1.1zM395.98 702.57h1.1v1.1h-1.1zM365.77 687.73h1.1v1.1h-1.1zM391.77 693.91h1.1v1.1h-1.1zM390.86 697.54h1.1v1.1h-1.1zM367.11 690.85h1.1v1.1h-1.1zM382.92 684.8h1.1v1.1h-1.1zM373.5 694h1.1v1.1h-1.1zM361.58 685.65h1.1v1.1h-1.1zM416.47 686.81h1.1v1.1h-1.1zM361.39 696.8h1.1v1.1h-1.1zM388.16 693.37h1.1v1.1h-1.1zM371.86 687.82h1.1v1.1h-1.1zM389.29 676.15h1.1v1.1h-1.1zM383.67 682.02h1.1v1.1h-1.1zM324.71 692.66h1.1v1.1h-1.1zM330.11 698.04h1.1v1.1h-1.1zM386.02 693.18h1.1v1.1h-1.1zM345.42 689h1.1v1.1h-1.1zM361.66 675.35h1.1v1.1h-1.1zM395.32 693.62h1.1v1.1h-1.1zM376.16 675.65h1.1v1.1h-1.1zM368.98 680.12h1.1v1.1h-1.1zM355.06 681.97h1.1v1.1h-1.1zM345.37 691.74h1.1v1.1h-1.1zM384.39 678.26h1.1v1.1h-1.1zM375.32 697.99h1.1v1.1h-1.1zM382.21 689.01h1.1v1.1h-1.1zM364.34 670.6h1.1v1.1h-1.1zM380.08 680.75h1.1v1.1h-1.1zM378.66 687.54h1.1v1.1h-1.1zM396.01 698.24h1.1v1.1h-1.1zM335.89 679.61h1.1v1.1h-1.1zM393.98 697.83h1.1v1.1h-1.1zM363.84 694.17h1.1v1.1h-1.1zM366.97 679.32h1.1v1.1h-1.1zM367.63 693.78h1.1v1.1h-1.1zM350.07 684.61h1.1v1.1h-1.1zM336.97 679.53h1.1v1.1h-1.1zM348.11 691.11h1.1v1.1h-1.1zM373.77 693.98h1.1v1.1h-1.1zM389.42 686.32h1.1v1.1h-1.1zM379.13 685.25h1.1v1.1h-1.1zM358.03 685.81h1.1v1.1h-1.1zM355.11 693.09h1.1v1.1h-1.1zM383.1 687.27h1.1v1.1h-1.1zM340.14 684.19h1.1v1.1h-1.1zM369.79 688.65h1.1v1.1h-1.1zM394.49 680.05h1.1v1.1h-1.1zM368.15 696h1.1v1.1h-1.1zM372.6 698.25h1.1v1.1h-1.1zM375.42 697.6h1.1v1.1h-1.1zM371.01 700.21h1.1v1.1h-1.1zM376.23 586.01h1.1v1.1h-1.1zM376.28 635.46h1.1v1.1h-1.1zM354.38 588.56h1.1v1.1h-1.1zM363.39 583.37h1.1v1.1h-1.1zM373.04 620.05h1.1v1.1h-1.1zM367.06 618.27h1.1v1.1h-1.1zM350.93 615.56h1.1v1.1h-1.1zM356.96 617.66h1.1v1.1h-1.1zM359.96 623.08h1.1v1.1h-1.1zM464.45 574.45h1.1v1.1h-1.1zM469.45 598.45h1.1v1.1h-1.1zM449.45 647.45h1.1v1.1h-1.1zM444.45 693.45h1.1v1.1h-1.1zM458.45 693.45h1.1v1.1h-1.1z"/><path fill="#00d000" fill-opacity="0.85" d="M116.87 109.92h1.1v1.1h-1.1zM113 107.88h1.1v1.1h-1.1zM116.98 109.32h1.1v1.1h-1.1zM121.79 102.07h1.1v1.1h-1.1zM117.34 108.48h1.1v1.1h-1.1zM114.53 103.76h1.1v1.1h-1.1zM115.37 103.25h1.1v1.1h-1.1zM119.13 108.82h1.1v1.1h-1.1zM116.76 109.88h1.1v1.1h-1.1zM115.87 105.82h1.1v1.1h-1.1zM122.57 106.05h1.1v1.1h-1.1zM116.84 103.67h1.1v1.1h-1.1zM113.85 103.09h1.1v1.1h-1.1zM368.62 78.7h1.1v1.1h-1.1zM373.11 83.43h1.1v1.1h-1.1zM372.86 86.84h1.1v1.1h-1.1zM369.25 79.51h1.1v1.1h-1.1zM364.08 83.73h1.1v1.1h-1.1zM369.45 88.19h1.1v1.1h-1.1zM116.21 338.95h1.1v1.1h-1.1zM115.85 336.13h1.1v1.1h-1.1zM118.47 338.09h1.1v1.1h-1.1zM120.92 338.93h1.1v1.1h-1.1zM116.75 338.05h1.1v1.1h-1.1z"/><path fill="#ff2000" fill-opacity="0.85" d="M119.88 100.74h1.1v1.1h-1.1zM110.79 103.49h1.1v1.1h-1.1zM110.15 105.67h1.1v1.1h-1.1zM115.01 108.58h1.1v1.1h-1.1zM110.53 105.25h1.1v1.1h-1.1zM116.54 98.59h1.1v1.1h-1.1zM115.45 101.78h1.1v1.1h-1.1zM114.73 106.7h1.1v1.1h-1.1zM122.67 101.39h1.1v1.1h-1.1zM116.3 109.09h1.1v1.1h-1.1zM122.09 104.15h1.1v1.1h-1.1zM121.85 106.13h1.1v1.1h-1.1zM120.34 100.9h1.1v1.1h-1.1zM118.27 100.01h1.1v1.1h-1.1zM115.86 103.72h1.1v1.1h-1.1zM115.4 103.95h1.1v1.1h-1.1zM370.35 81.84h1.1v1.1h-1.1zM368.46 84.67h1.1v1.1h-1.1zM367.81 84.42h1.1v1.1h-1.1zM370.85 80.98h1.1v1.1h-1.1zM366.26 88.93h1.1v1.1h-1.1zM368.75 80.01h1.1v1.1h-1.1zM371.69 84.05h1.1v1.1h-1.1zM373.83 79.16h1.1v1.1h-1.1zM364.35 80.44h1.1v1.1h-1.1zM366.46 88.84h1.1v1.1h-1.1zM364.07 84.14h1.1v1.1h-1.1zM114.3 342.66h1.1v1.1h-1.1zM116.29 342.54h1.1v1.1h-1.1zM110.93 340.34h1.1v1.1h-1.1zM119.48 337.28h1.1v1.1h-1.1z"/><path fill="#00c060" fill-opacity="0.85" d="M118.95 101.29h1.1v1.1h-1.1zM116.11 106.66h1.1v1.1h-1.1zM115.67 100.55h1.1v1.1h-1.1zM111.72 105.39h1.1v1.1h-1.1zM115.08 99.98h1.1v1.1h-1.1zM113.21 104.66h1.1v1.1h-1.1zM121.28 102.79h1.1v1.1h-1.1zM121.75 102.19h1.1v1.1h-1.1zM115.33 99.98h1.1v1.1h-1.1zM112.53 106.44h1.1v1.1h-1.1zM116.36 109.57h1.1v1.1h-1.1zM116.79 109.72h1.1v1.1h-1.1zM111.66 108.16h1.1v1.1h-1.1zM116.41 104.32h1.1v1.1h-1.1zM115.98 102.84h1.1v1.1h-1.1zM111.06 104.25h1.1v1.1h-1.1zM115.03 107.96h1.1v1.1h-1.1zM110.99 103.49h1.1v1.1h-1.1zM116.06 103.68h1.1v1.1h-1.1zM375 83.88h1.1v1.1h-1.1zM365.76 81.93h1.1v1.1h-1.1zM375.51 86.65h1.1v1.1h-1.1zM370.91 88.81h1.1v1.1h-1.1zM363.29 82.98h1.1v1.1h-1.1zM364.21 84.88h1.1v1.1h-1.1zM367.89 91.15h1.1v1.1h-1.1zM371.84 78.17h1.1v1.1h-1.1zM374.08 89.38h1.1v1.1h-1.1zM117.62 343.93h1.1v1.1h-1.1zM113.74 334.21h1.1v1.1h-1.1zM117.04 337.07h1.1v1.1h-1.1zM114.56 339.34h1.1v1.1h-1.1z"/><path fill="#ffd000" fill-opacity="0.85" d="M121.32 101.42h1.1v1.1h-1.1zM118.27 106.36h1.1v1.1h-1.1zM117.08 102.16h1.1v1.1h-1.1zM116.21 106.18h1.1v1.1h-1.1zM120.86 106.21h1.1v1.1h-1.1zM116.72 102.13h1.1v1.1h-1.1zM117.82 108.58h1.1v1.1h-1.1zM117.02 108.2h1.1v1.1h-1.1zM118.2 103.83h1.1v1.1h-1.1zM114.56 102.05h1.1v1.1h-1.1zM113.72 104.07h1.1v1.1h-1.1zM118.5 103.78h1.1v1.1h-1.1zM368.72 88.69h1.1v1.1h-1.1zM363.26 83.53h1.1v1.1h-1.1zM374.2 85.84h1.1v1.1h-1.1zM368.39 77.99h1.1v1.1h-1.1zM366.82 84.65h1.1v1.1h-1.1zM363.51 82.91h1.1v1.1h-1.1zM367.85 86.59h1.1v1.1h-1.1zM375.39 82.27h1.1v1.1h-1.1zM366.14 79.44h1.1v1.1h-1.1zM363.83 83.3h1.1v1.1h-1.1zM118.62 338.82h1.1v1.1h-1.1zM116.64 332.86h1.1v1.1h-1.1zM119.04 343.74h1.1v1.1h-1.1zM112.11 339.43h1.1v1.1h-1.1z"/><path fill="#1a1aff" fill-opacity="0.5" d="M105.74 114.74h1.1v1.1h-1.1zM113.11 108.31h1.1v1.1h-1.1zM122.64 101.11h1.1v1.1h-1.1zM107.87 104.37h1.1v1.1h-1.1zM117.87 99.87h1.1v1.1h-1.1zM124.47 100.27h1.1v1.1h-1.1zM107.19 102.49h1.1v1.1h-1.1zM127.11 91.07h1.1v1.1h-1.1zM115.07 110.58h1.1v1.1h-1.1zM114.07 107.94h1.1v1.1h-1.1zM132.16 99.52h1.1v1.1h-1.1zM104.23 105.4h1.1v1.1h-1.1zM125.25 102.72h1.1v1.1h-1.1zM114.35 104.96h1.1v1.1h-1.1zM125.8 103.73h1.1v1.1h-1.1zM112.9 106.38h1.1v1.1h-1.1zM124.69 104.5h1.1v1.1h-1.1zM119.91 111.87h1.1v1.1h-1.1zM122.57 101.53h1.1v1.1h-1.1zM110.43 107.79h1.1v1.1h-1.1zM105.86 101.49h1.1v1.1h-1.1zM115.28 95.09h1.1v1.1h-1.1zM124.77 114.04h1.1v1.1h-1.1zM118.79 114.48h1.1v1.1h-1.1zM127.03 104.26h1.1v1.1h-1.1zM116.92 103.66h1.1v1.1h-1.1zM110.47 109.75h1.1v1.1h-1.1zM114.25 107.39h1.1v1.1h-1.1zM125.41 91.76h1.1v1.1h-1.1zM117.95 105.42h1.1v1.1h-1.1zM117.97 97.4h1.1v1.1h-1.1zM113.88 110.1h1.1v1.1h-1.1zM117.42 101.64h1.1v1.1h-1.1zM116.31 108.78h1.1v1.1h-1.1zM103.18 112.43h1.1v1.1h-1.1zM100.49 120.88h1.1v1.1h-1.1zM122.58 121.34h1.1v1.1h-1.1zM115.27 106.05h1.1v1.1h-1.1zM126.16 100.54h1.1v1.1h-1.1zM122.45 127.45h1.1v1.1h-1.1zM372.9 72.97h1.1v1.1h-1.1zM367.06 81.77h1.1v1.1h-1.1zM354.79 77.97h1.1v1.1h-1.1zM374.43 89.11h1.1v1.1h-1.1zM362.61 75.82h1.1v1.1h-1.1zM377.39 83.8h1.1v1.1h-1.1zM368.24 94.14h1.1v1.1h-1.1zM362.7 83.56h1.1v1.1h-1.1zM372.72 74.05h1.1v1.1h-1.1zM361.45 84.22h1.1v1.1h-1.1zM367.23 94.47h1.1v1.1h-1.1zM371.11 76.56h1.1v1.1h-1.1zM372.19 94.72h1.1v1.1h-1.1zM369.89 84.3h1.1v1.1h-1.1zM378.02 92.91h1.1v1.1h-1.1zM379.17 100.99h1.1v1.1h-1.1zM362.35 86.41h1.1v1.1h-1.1zM371.95 64.65h1.1v1.1h-1.1zM377.7 73.85h1.1v1.1h-1.1zM370.45 74.09h1.1v1.1h-1.1zM361.56 66.04h1.1v1.1h-1.1zM122.76 346.53h1.1v1.1h-1.1zM104.2 336.3h1.1v1.1h-1.1zM123.73 327.7h1.1v1.1h-1.1zM126.22 337.19h1.1v1.1h-1.1zM114.9 343.36h1.1v1.1h-1.1zM125 341.54h1.1v1.1h-1.1zM123.63 341.75h1.1v1.1h-1.1zM115.66 346.82h1.1v1.1h-1.1zM108.55 340.17h1.1v1.1h-1.1zM122.93 335.92h1.1v1.1h-1.1zM110.49 340.52h1.1v1.1h-1.1zM126.17 324.84h1.1v1.1h-1.1zM118.6 340.76h1.1v1.1h-1.1zM111 339.86h1.1v1.1h-1.1zM121.99 338.48h1.1v1.1h-1.1zM110.97 337.93h1.1v1.1h-1.1zM105.37 340.74h1.1v1.1h-1.1zM123.2 346.09h1.1v1.1h-1.1zM125.55 339.25h1.1v1.1h-1.1zM112.75 347.61h1.1v1.1h-1.1zM114.51 385.67h1.1v1.1h-1.1zM115.13 357.3h1.1v1.1h-1.1zM110.11 341.08h1.1v1.1h-1.1zM110.29 347.63h1.1v1.1h-1.1zM125.13 383.45h1.1v1.1h-1.1zM126.44 354.98h1.1v1.1h-1.1zM123.61 369.27h1.1v1.1h-1.1zM369.12 446.9h1.1v1.1h-1.1zM370.92 440.03h1.1v1.1h-1.1zM372.33 433.6h1.1v1.1h-1.1zM362.18 446.36h1.1v1.1h-1.1zM365.27 404.24h1.1v1.1h-1.1zM356.15 468.01h1.1v1.1h-1.1zM366.1 443.4h1.1v1.1h-1.1zM356.14 413.92h1.1v1.1h-1.1zM379.44 419.98h1.1v1.1h-1.1zM378.44 422.36h1.1v1.1h-1.1zM363.62 404.35h1.1v1.1h-1.1zM381.07 390.92h1.1v1.1h-1.1zM375.3 440.68h1.1v1.1h-1.1zM366.57 400.97h1.1v1.1h-1.1zM375.3 404.95h1.1v1.1h-1.1zM380.1 416.44h1.1v1.1h-1.1zM371.74 452.11h1.1v1.1h-1.1zM380.46 417.32h1.1v1.1h-1.1zM370.72 402.82h1.1v1.1h-1.1zM369.45 413.63h1.1v1.1h-1.1zM365.4 412.72h1.1v1.1h-1.1zM367.45 459.94h1.1v1.1h-1.1zM373.5 417.54h1.1v1.1h-1.1zM376.09 407.51h1.1v1.1h-1.1zM372.66 431.34h1.1v1.1h-1.1zM358.03 440.94h1.1v1.1h-1.1zM376 432.96h1.1v1.1h-1.1zM367.02 454.52h1.1v1.1h-1.1zM373.28 410.67h1.1v1.1h-1.1zM368.55 460.11h1.1v1.1h-1.1zM370.06 429.36h1.1v1.1h-1.1zM375.75 434.08h1.1v1.1h-1.1zM371.95 395.09h1.1v1.1h-1.1zM376.95 441.83h1.1v1.1h-1.1zM373.76 429.57h1.1v1.1h-1.1zM359.56 427.91h1.1v1.1h-1.1zM371.34 448.99h1.1v1.1h-1.1zM370.25 421.13h1.1v1.1h-1.1zM380.48 389.18h1.1v1.1h-1.1zM361.67 403.48h1.1v1.1h-1.1zM363.82 412.32h1.1v1.1h-1.1zM362.55 432.29h1.1v1.1h-1.1zM375.78 461.12h1.1v1.1h-1.1zM378.43 421.39h1.1v1.1h-1.1zM373.86 398.81h1.1v1.1h-1.1zM373.3 400.04h1.1v1.1h-1.1zM364.31 423.75h1.1v1.1h-1.1zM358.67 423.88h1.1v1.1h-1.1zM361.26 429.7h1.1v1.1h-1.1zM371.51 427.23h1.1v1.1h-1.1zM378.74 406.46h1.1v1.1h-1.1zM372.07 434.73h1.1v1.1h-1.1zM368.36 357h1.1v1.1h-1.1zM373.84 348.69h1.1v1.1h-1.1zM378.46 330.36h1.1v1.1h-1.1zM366.46 342.42h1.1v1.1h-1.1zM371.88 330.02h1.1v1.1h-1.1zM376.24 335.48h1.1v1.1h-1.1zM123.13 670.04h1.1v1.1h-1.1zM117.86 703.72h1.1v1.1h-1.1zM110.05 683.96h1.1v1.1h-1.1zM130.76 683.31h1.1v1.1h-1.1zM111.99 680.48h1.1v1.1h-1.1zM117.09 678.27h1.1v1.1h-1.1zM107.05 687.94h1.1v1.1h-1.1zM123.61 676.29h1.1v1.1h-1.1zM120.4 697.63h1.1v1.1h-1.1zM121.32 684.99h1.1v1.1h-1.1zM120.19 681.56h1.1v1.1h-1.1zM129.26 677.9h1.1v1.1h-1.1zM110.29 694.41h1.1v1.1h-1.1zM109.4 688.58h1.1v1.1h-1.1zM108.61 680.14h1.1v1.1h-1.1zM110.39 687.28h1.1v1.1h-1.1zM114.68 688.13h1.1v1.1h-1.1zM106.8 673.85h1.1v1.1h-1.1zM125.67 673.64h1.1v1.1h-1.1zM112.75 681.52h1.1v1.1h-1.1zM109.18 696.13h1.1v1.1h-1.1zM109.78 674.83h1.1v1.1h-1.1zM126.32 697.71h1.1v1.1h-1.1zM112.15 675.53h1.1v1.1h-1.1zM110.23 695.38h1.1v1.1h-1.1zM116.36 701.24h1.1v1.1h-1.1zM116.06 696.8h1.1v1.1h-1.1zM116.95 703.54h1.1v1.1h-1.1zM116.59 672.47h1.1v1.1h-1.1zM109.6 707.36h1.1v1.1h-1.1zM109.43 692.81h1.1v1.1h-1.1zM119.81 681.4h1.1v1.1h-1.1zM111.17 694.82h1.1v1.1h-1.1zM127.69 678.73h1.1v1.1h-1.1zM110.49 695.46h1.1v1.1h-1.1zM130.24 683.91h1.1v1.1h-1.1zM112.62 689.39h1.1v1.1h-1.1zM109.16 689.65h1.1v1.1h-1.1zM109.11 683.51h1.1v1.1h-1.1zM119.98 691.58h1.1v1.1h-1.1zM128.36 689.63h1.1v1.1h-1.1zM120.7 702h1.1v1.1h-1.1zM112.63 559.03h1.1v1.1h-1.1zM104.02 556.66h1.1v1.1h-1.1zM112.57 611.73h1.1v1.1h-1.1zM107.88 656.31h1.1v1.1h-1.1zM112.75 571.15h1.1v1.1h-1.1zM108.14 630.72h1.1v1.1h-1.1zM114.49 619.21h1.1v1.1h-1.1zM108.95 652.43h1.1v1.1h-1.1zM114.55 637.94h1.1v1.1h-1.1zM105.49 647.15h1.1v1.1h-1.1zM125.59 639.24h1.1v1.1h-1.1zM118.74 578.41h1.1v1.1h-1.1zM114.66 580.74h1.1v1.1h-1.1zM116.64 597.89h1.1v1.1h-1.1zM381.52 690.67h1.1v1.1h-1.1zM339.64 708.5h1.1v1.1h-1.1zM335.52 693.87h1.1v1.1h-1.1zM368.53 688.69h1.1v1.1h-1.1zM364.1 694.73h1.1v1.1h-1.1zM404.4 676.79h1.1v1.1h-1.1zM338.02 687.88h1.1v1.1h-1.1zM383.01 668.78h1.1v1.1h-1.1zM396.45 692.13h1.1v1.1h-1.1zM359.01 687.4h1.1v1.1h-1.1zM343.18 682.46h1.1v1.1h-1.1zM378.12 684.91h1.1v1.1h-1.1zM383.66 676.25h1.1v1.1h-1.1zM386.51 682.92h1.1v1.1h-1.1zM357.04 675.01h1.1v1.1h-1.1zM369.44 675.12h1.1v1.1h-1.1zM389.23 684.52h1.1v1.1h-1.1zM328.2 696.59h1.1v1.1h-1.1zM379.77 700.93h1.1v1.1h-1.1zM339.66 684.01h1.1v1.1h-1.1zM369.15 694.24h1.1v1.1h-1.1zM349.77 684.89h1.1v1.1h-1.1zM365.19 692.17h1.1v1.1h-1.1zM385.44 674.44h1.1v1.1h-1.1zM358.79 692h1.1v1.1h-1.1zM347.34 690.85h1.1v1.1h-1.1zM367.27 683.73h1.1v1.1h-1.1zM334.41 696.91h1.1v1.1h-1.1zM351.66 693.19h1.1v1.1h-1.1zM375.5 706.07h1.1v1.1h-1.1zM374.29 684.17h1.1v1.1h-1.1zM365.48 685h1.1v1.1h-1.1zM343.8 679.65h1.1v1.1h-1.1zM377.71 703.52h1.1v1.1h-1.1zM388.18 697.08h1.1v1.1h-1.1zM368.83 604.72h1.1v1.1h-1.1zM352.81 614.21h1.1v1.1h-1.1zM353.64 640.04h1.1v1.1h-1.1zM351.98 636.81h1.1v1.1h-1.1z"/><path fill="#1a1aff" fill-opacity="1" d="M123.88 100.06h1.1v1.1h-1.1zM112.36 114.1h1.1v1.1h-1.1zM112.39 113.59h1.1v1.1h-1.1zM113.87 99.63h1.1v1.1h-1.1zM116.37 97.86h1.1v1.1h-1.1zM124.61 95.15h1.1v1.1h-1.1zM123.81 97.49h1.1v1.1h-1.1zM110.63 116.42h1.1v1.1h-1.1zM120.09 97.46h1.1v1.1h-1.1zM109.21 98.31h1.1v1.1h-1.1zM123.25 107.76h1.1v1.1h-1.1zM112.31 96.73h1.1v1.1h-1.1zM118.99 100.93h1.1v1.1h-1.1zM121.9 101.79h1.1v1.1h-1.1zM124.14 98.23h1.1v1.1h-1.1zM114.99 102.29h1.1v1.1h-1.1zM119.63 103.8h1.1v1.1h-1.1zM112.51 106.45h1.1v1.1h-1.1zM122.27 94.92h1.1v1.1h-1.1zM113.26 112.06h1.1v1.1h-1.1zM116.08 95.58h1.1v1.1h-1.1zM115.49 102.89h1.1v1.1h-1.1zM117.96 107.24h1.1v1.1h-1.1zM115.02 103.58h1.1v1.1h-1.1zM114.03 100.52h1.1v1.1h-1.1zM117.22 117.95h1.1v1.1h-1.1zM105.3 112.67h1.1v1.1h-1.1zM127.12 107.56h1.1v1.1h-1.1zM116.44 114.77h1.1v1.1h-1.1zM109.49 115.65h1.1v1.1h-1.1zM108.7 104.36h1.1v1.1h-1.1zM116.24 103.99h1.1v1.1h-1.1zM109.59 115.41h1.1v1.1h-1.1zM93.88 100.12h1.1v1.1h-1.1zM108.81 106.73h1.1v1.1h-1.1zM104.65 123.49h1.1v1.1h-1.1zM112.4 105.94h1.1v1.1h-1.1zM99.22 117.77h1.1v1.1h-1.1zM99.45 97.45h1.1v1.1h-1.1zM133.45 90.45h1.1v1.1h-1.1zM370.6 87.51h1.1v1.1h-1.1zM362.5 81.02h1.1v1.1h-1.1zM377.36 86.04h1.1v1.1h-1.1zM353.45 90.23h1.1v1.1h-1.1zM368.04 90.67h1.1v1.1h-1.1zM378.39 83.12h1.1v1.1h-1.1zM382.2 81.93h1.1v1.1h-1.1zM377.15 81.25h1.1v1.1h-1.1zM362.6 86.11h1.1v1.1h-1.1zM377.16 89.5h1.1v1.1h-1.1zM372.92 93.32h1.1v1.1h-1.1zM371.5 85.05h1.1v1.1h-1.1zM354.14 95.72h1.1v1.1h-1.1zM359.16 90.33h1.1v1.1h-1.1zM373.72 92.2h1.1v1.1h-1.1zM376.06 97.1h1.1v1.1h-1.1zM370.34 103.37h1.1v1.1h-1.1zM362.9 77.55h1.1v1.1h-1.1zM376.98 75.81h1.1v1.1h-1.1zM383.46 71.48h1.1v1.1h-1.1zM371.49 86.8h1.1v1.1h-1.1zM372.07 87.36h1.1v1.1h-1.1zM388.27 69.11h1.1v1.1h-1.1zM377.26 78.07h1.1v1.1h-1.1zM379.51 85.09h1.1v1.1h-1.1zM364.37 97.97h1.1v1.1h-1.1zM363.59 78.99h1.1v1.1h-1.1zM377.37 75.8h1.1v1.1h-1.1zM362.7 64.67h1.1v1.1h-1.1zM364.96 65.33h1.1v1.1h-1.1zM364.85 68.35h1.1v1.1h-1.1zM376.2 69.89h1.1v1.1h-1.1zM354.87 68.33h1.1v1.1h-1.1zM362.71 59.92h1.1v1.1h-1.1zM361.88 75.57h1.1v1.1h-1.1zM367.45 125.45h1.1v1.1h-1.1zM359.45 131.45h1.1v1.1h-1.1zM377.45 159.45h1.1v1.1h-1.1zM388.45 130.45h1.1v1.1h-1.1zM120.4 333.92h1.1v1.1h-1.1zM105.4 346.97h1.1v1.1h-1.1zM127.3 330.82h1.1v1.1h-1.1zM114.45 335.32h1.1v1.1h-1.1zM114.25 340.15h1.1v1.1h-1.1zM108.44 343.78h1.1v1.1h-1.1zM128.52 328.8h1.1v1.1h-1.1zM128.54 326.96h1.1v1.1h-1.1zM105.41 338.5h1.1v1.1h-1.1zM108.08 347.83h1.1v1.1h-1.1zM118.33 342.8h1.1v1.1h-1.1zM129.19 335.71h1.1v1.1h-1.1zM119.76 338.9h1.1v1.1h-1.1zM111.58 339.96h1.1v1.1h-1.1zM114.59 344.57h1.1v1.1h-1.1zM131.85 336.83h1.1v1.1h-1.1zM125.72 337.49h1.1v1.1h-1.1zM108.42 348.85h1.1v1.1h-1.1zM126.06 343.84h1.1v1.1h-1.1zM123.55 344.87h1.1v1.1h-1.1zM113.12 331.22h1.1v1.1h-1.1zM124.32 346.15h1.1v1.1h-1.1zM115.2 376.04h1.1v1.1h-1.1zM104.66 353.47h1.1v1.1h-1.1zM112.29 351.23h1.1v1.1h-1.1zM118.96 359.69h1.1v1.1h-1.1zM107.95 361.27h1.1v1.1h-1.1zM120.03 364.73h1.1v1.1h-1.1zM103.96 363.59h1.1v1.1h-1.1zM108.18 354.19h1.1v1.1h-1.1zM113.87 386.55h1.1v1.1h-1.1zM104.06 351.83h1.1v1.1h-1.1zM363.75 430.99h1.1v1.1h-1.1zM384.43 466.73h1.1v1.1h-1.1zM365.78 437.16h1.1v1.1h-1.1zM381.54 436.86h1.1v1.1h-1.1zM365.07 469.83h1.1v1.1h-1.1zM370.98 411.64h1.1v1.1h-1.1zM381.34 464.26h1.1v1.1h-1.1zM368.05 428.94h1.1v1.1h-1.1zM371.41 406.99h1.1v1.1h-1.1zM376.07 419.97h1.1v1.1h-1.1zM366.15 433.22h1.1v1.1h-1.1zM371.89 414.05h1.1v1.1h-1.1zM378.93 422.28h1.1v1.1h-1.1zM381.44 406.08h1.1v1.1h-1.1zM365.99 398.89h1.1v1.1h-1.1zM369.12 407.21h1.1v1.1h-1.1zM372.05 413.14h1.1v1.1h-1.1zM371.75 395.2h1.1v1.1h-1.1zM372.26 404.09h1.1v1.1h-1.1zM376.55 414.5h1.1v1.1h-1.1zM375.54 453.01h1.1v1.1h-1.1zM367.22 437.02h1.1v1.1h-1.1zM364.68 414.27h1.1v1.1h-1.1zM365.41 453.74h1.1v1.1h-1.1zM382.96 421.25h1.1v1.1h-1.1zM374.78 444.78h1.1v1.1h-1.1zM364.57 442.71h1.1v1.1h-1.1zM370.69 416.85h1.1v1.1h-1.1zM378.87 433.84h1.1v1.1h-1.1zM371.61 454.26h1.1v1.1h-1.1zM374.35 410.55h1.1v1.1h-1.1zM377.54 452.43h1.1v1.1h-1.1zM354.89 417.69h1.1v1.1h-1.1zM374.18 425.15h1.1v1.1h-1.1zM353.6 433.42h1.1v1.1h-1.1zM374.4 402.81h1.1v1.1h-1.1zM385.69 433.06h1.1v1.1h-1.1zM360.4 464.75h1.1v1.1h-1.1zM369.56 437.79h1.1v1.1h-1.1zM361.47 452.91h1.1v1.1h-1.1zM376.59 440.25h1.1v1.1h-1.1zM364.87 429.47h1.1v1.1h-1.1zM373.38 427.38h1.1v1.1h-1.1zM371.32 435.49h1.1v1.1h-1.1zM371.86 324.6h1.1v1.1h-1.1zM373.1 353.76h1.1v1.1h-1.1zM370.52 333.8h1.1v1.1h-1.1zM385.7 336.61h1.1v1.1h-1.1zM367.7 344.29h1.1v1.1h-1.1zM117.66 675.22h1.1v1.1h-1.1zM119.35 697.3h1.1v1.1h-1.1zM123.9 691.41h1.1v1.1h-1.1zM119.21 679.83h1.1v1.1h-1.1zM115.53 690.19h1.1v1.1h-1.1zM120.71 684.47h1.1v1.1h-1.1zM111.98 672.12h1.1v1.1h-1.1zM135.3 693.25h1.1v1.1h-1.1zM117.38 679.33h1.1v1.1h-1.1zM128.09 680.88h1.1v1.1h-1.1zM119.38 686.95h1.1v1.1h-1.1zM112.09 687.36h1.1v1.1h-1.1zM121.48 710.13h1.1v1.1h-1.1zM115.92 684.21h1.1v1.1h-1.1zM109.71 685h1.1v1.1h-1.1zM119.16 687.62h1.1v1.1h-1.1zM117.24 678.86h1.1v1.1h-1.1zM115.64 679.07h1.1v1.1h-1.1zM117.18 663.28h1.1v1.1h-1.1zM116.21 689.15h1.1v1.1h-1.1zM116.27 675.81h1.1v1.1h-1.1zM109.46 669.71h1.1v1.1h-1.1zM124.87 679.58h1.1v1.1h-1.1zM109.26 697.68h1.1v1.1h-1.1zM114.14 704.02h1.1v1.1h-1.1zM117.83 687.63h1.1v1.1h-1.1zM116.83 697.87h1.1v1.1h-1.1zM119.48 683.58h1.1v1.1h-1.1zM101.45 681.37h1.1v1.1h-1.1zM126.99 681.72h1.1v1.1h-1.1zM113.76 681.99h1.1v1.1h-1.1zM119.29 685.87h1.1v1.1h-1.1zM120.5 687.98h1.1v1.1h-1.1zM116.66 672.34h1.1v1.1h-1.1zM114.05 697.78h1.1v1.1h-1.1zM111.06 623.65h1.1v1.1h-1.1zM121.21 604.22h1.1v1.1h-1.1zM120.43 626.5h1.1v1.1h-1.1zM111.79 650.34h1.1v1.1h-1.1zM110.75 571.47h1.1v1.1h-1.1zM120.74 617.18h1.1v1.1h-1.1zM108.41 625.62h1.1v1.1h-1.1zM107.59 628.91h1.1v1.1h-1.1zM110.43 594.01h1.1v1.1h-1.1zM105.77 582.32h1.1v1.1h-1.1zM118.36 634.13h1.1v1.1h-1.1zM365.26 697.69h1.1v1.1h-1.1zM396.45 691.56h1.1v1.1h-1.1zM371.93 684.48h1.1v1.1h-1.1zM393.8 682.52h1.1v1.1h-1.1zM374.24 682.05h1.1v1.1h-1.1zM337.18 684.87h1.1v1.1h-1.1zM414.02 686.27h1.1v1.1h-1.1zM381.09 695.55h1.1v1.1h-1.1zM415.26 666.78h1.1v1.1h-1.1zM387.66 683.66h1.1v1.1h-1.1zM364.07 690.47h1.1v1.1h-1.1zM389.47 702.44h1.1v1.1h-1.1zM383.85 692.48h1.1v1.1h-1.1zM384.67 681.72h1.1v1.1h-1.1zM399.87 672.12h1.1v1.1h-1.1zM360.5 670.54h1.1v1.1h-1.1zM331.42 691.97h1.1v1.1h-1.1zM366.87 693.47h1.1v1.1h-1.1zM410.7 695.42h1.1v1.1h-1.1zM347.65 693.74h1.1v1.1h-1.1zM349.73 694.68h1.1v1.1h-1.1zM376.89 683.57h1.1v1.1h-1.1zM380.96 677.4h1.1v1.1h-1.1zM362.41 675.13h1.1v1.1h-1.1zM360.75 690.21h1.1v1.1h-1.1zM357 699.48h1.1v1.1h-1.1zM331.98 673.52h1.1v1.1h-1.1zM385.48 679.47h1.1v1.1h-1.1zM385.7 675.06h1.1v1.1h-1.1zM354.22 680.84h1.1v1.1h-1.1zM355.29 692.98h1.1v1.1h-1.1zM359.13 695.16h1.1v1.1h-1.1zM358.14 694.23h1.1v1.1h-1.1zM357.64 681.85h1.1v1.1h-1.1zM359.93 684.85h1.1v1.1h-1.1zM372.81 685.35h1.1v1.1h-1.1zM339.14 675.83h1.1v1.1h-1.1zM395.84 699.92h1.1v1.1h-1.1zM392.3 700.02h1.1v1.1h-1.1zM366.2 684.17h1.1v1.1h-1.1zM383.48 683.14h1.1v1.1h-1.1zM357.63 680.5h1.1v1.1h-1.1zM366.98 698.1h1.1v1.1h-1.1zM341.64 674.79h1.1v1.1h-1.1zM355.78 683.67h1.1v1.1h-1.1zM339.11 691.58h1.1v1.1h-1.1zM334.94 685.94h1.1v1.1h-1.1zM350.31 684.02h1.1v1.1h-1.1zM384.73 637.32h1.1v1.1h-1.1zM375.9 619.08h1.1v1.1h-1.1zM339.86 647.19h1.1v1.1h-1.1zM393.89 650.09h1.1v1.1h-1.1zM314.49 583.85h1.1v1.1h-1.1zM366.07 611.84h1.1v1.1h-1.1zM365.02 641.1h1.1v1.1h-1.1zM338.46 630.48h1.1v1.1h-1.1zM446.45 680.45h1.1v1.1h-1.1zM431.45 699.45h1.1v1.1h-1.1z"/><path fill="#30e000" fill-opacity="0.85" d="M114.7 104.25h1.1v1.1h-1.1zM114.16 101.55h1.1v1.1h-1.1zM112.03 99.79h1.1v1.1h-1.1zM116.29 104.51h1.1v1.1h-1.1zM119.99 104.62h1.1v1.1h-1.1zM118.83 103.15h1.1v1.1h-1.1zM120.03 105.65h1.1v1.1h-1.1zM117.03 108.92h1.1v1.1h-1.1zM120.32 100.87h1.1v1.1h-1.1zM112.92 102.19h1.1v1.1h-1.1zM119.97 99.86h1.1v1.1h-1.1zM370.22 83.42h1.1v1.1h-1.1zM374.69 85.92h1.1v1.1h-1.1zM373.87 89.08h1.1v1.1h-1.1zM372.25 81.29h1.1v1.1h-1.1zM373.18 89.98h1.1v1.1h-1.1zM367.62 79.49h1.1v1.1h-1.1zM366.29 88.02h1.1v1.1h-1.1zM374.34 85.76h1.1v1.1h-1.1zM367.05 89.86h1.1v1.1h-1.1zM364.27 86.4h1.1v1.1h-1.1zM369.71 77.51h1.1v1.1h-1.1zM374.31 85.27h1.1v1.1h-1.1zM372.11 79.44h1.1v1.1h-1.1zM369.84 86.49h1.1v1.1h-1.1zM122.07 337.97h1.1v1.1h-1.1zM111.61 339.61h1.1v1.1h-1.1zM115.17 338.94h1.1v1.1h-1.1zM118.06 333.01h1.1v1.1h-1.1zM115.43 333.43h1.1v1.1h-1.1z"/><path fill="#ff5a1a" fill-opacity="0.85" d="M368.59 418.65h1.1v1.1h-1.1zM375.14 438.17h1.1v1.1h-1.1zM374.55 421.18h1.1v1.1h-1.1zM369.04 443.24h1.1v1.1h-1.1zM372.49 416.78h1.1v1.1h-1.1zM117.14 681.83h1.1v1.1h-1.1zM116.34 684.32h1.1v1.1h-1.1zM117.1 681.98h1.1v1.1h-1.1zM116.12 690.62h1.1v1.1h-1.1zM116.01 689.76h1.1v1.1h-1.1zM370.69 684.5h1.1v1.1h-1.1zM362.1 693.63h1.1v1.1h-1.1zM385.58 688.99h1.1v1.1h-1.1zM352.78 684.32h1.1v1.1h-1.1zM373.8 690.82h1.1v1.1h-1.1zM375.16 686.01h1.1v1.1h-1.1z"/><path fill="#e03010" fill-opacity="0.85" d="M364.71 432.64h1.1v1.1h-1.1zM375.33 437.96h1.1v1.1h-1.1zM375.76 431.2h1.1v1.1h-1.1zM117.37 691.6h1.1v1.1h-1.1zM118.14 690.56h1.1v1.1h-1.1zM120.33 682.8h1.1v1.1h-1.1zM117.49 689.38h1.1v1.1h-1.1zM114.59 694.47h1.1v1.1h-1.1zM371.81 686.85h1.1v1.1h-1.1zM362.41 687.26h1.1v1.1h-1.1zM359.99 683.77h1.1v1.1h-1.1zM360.73 687.36h1.1v1.1h-1.1zM381.93 682.93h1.1v1.1h-1.1zM368.82 685.49h1.1v1.1h-1.1zM370.13 691.15h1.1v1.1h-1.1zM384.63 685h1.1v1.1h-1.1z"/><path fill="#ff8a2a" fill-opacity="0.85" d="M371.57 444.64h1.1v1.1h-1.1zM367.65 416.55h1.1v1.1h-1.1zM367.99 411.45h1.1v1.1h-1.1zM372.98 439.39h1.1v1.1h-1.1zM366.55 421.72h1.1v1.1h-1.1zM372.28 417.83h1.1v1.1h-1.1zM111.89 687.1h1.1v1.1h-1.1zM119.32 688.63h1.1v1.1h-1.1zM382.33 683.12h1.1v1.1h-1.1zM374.12 691.93h1.1v1.1h-1.1zM371.52 679.77h1.1v1.1h-1.1zM377.5 689.68h1.1v1.1h-1.1zM371.22 682.19h1.1v1.1h-1.1z"/><path fill="#ffa040" fill-opacity="0.85" d="M373.34 420.21h1.1v1.1h-1.1zM370.79 426.65h1.1v1.1h-1.1zM371.38 422.74h1.1v1.1h-1.1zM369.92 413.06h1.1v1.1h-1.1zM368.96 415.64h1.1v1.1h-1.1zM366 411.53h1.1v1.1h-1.1zM367.8 438.98h1.1v1.1h-1.1zM112.37 684.96h1.1v1.1h-1.1zM114.22 693.57h1.1v1.1h-1.1zM377.94 686.12h1.1v1.1h-1.1zM365.59 690.29h1.1v1.1h-1.1zM358.76 687.11h1.1v1.1h-1.1zM367.41 685.52h1.1v1.1h-1.1zM354.31 693.07h1.1v1.1h-1.1z"/><rect x="53.8" y="29.8" width="204" height="204" fill="none" stroke="#000" stroke-width="1.5"/><line x1="53.85" y1="233.8" x2="53.85" y2="238.2" stroke="#000" stroke-width="1.2"/><text x="53.85" y="250.4" font-size="10.8" text-anchor="middle" >0</text><line x1="61.59" y1="233.8" x2="61.59" y2="236.2" stroke="#000" stroke-width="1.2"/><line x1="69.32" y1="233.8" x2="69.32" y2="236.2" stroke="#000" stroke-width="1.2"/><line x1="77.06" y1="233.8" x2="77.06" y2="236.2" stroke="#000" stroke-width="1.2"/><line x1="84.79" y1="233.8" x2="84.79" y2="236.2" stroke="#000" stroke-width="1.2"/><line x1="92.53" y1="233.8" x2="92.53" y2="238.2" stroke="#000" stroke-width="1.2"/><text x="92.53" y="250.4" font-size="10.8" text-anchor="middle" >50K</text><line x1="100.27" y1="233.8" x2="100.27" y2="236.2" stroke="#000" stroke-width="1.2"/><line x1="108" y1="233.8" x2="108" y2="236.2" stroke="#000" stroke-width="1.2"/><line x1="115.74" y1="233.8" x2="115.74" y2="236.2" stroke="#000" stroke-width="1.2"/><line x1="123.47" y1="233.8" x2="123.47" y2="236.2" stroke="#000" stroke-width="1.2"/><line x1="131.21" y1="233.8" x2="131.21" y2="238.2" stroke="#000" stroke-width="1.2"/><text x="131.21" y="250.4" font-size="10.8" text-anchor="middle" >100K</text><line x1="138.95" y1="233.8" x2="138.95" y2="236.2" stroke="#000" stroke-width="1.2"/><line x1="146.68" y1="233.8" x2="146.68" y2="236.2" stroke="#000" stroke-width="1.2"/><line x1="154.42" y1="233.8" x2="154.42" y2="236.2" stroke="#000" stroke-width="1.2"/><line x1="162.15" y1="233.8" x2="162.15" y2="236.2" stroke="#000" stroke-width="1.2"/><line x1="169.89" y1="233.8" x2="169.89" y2="238.2" stroke="#000" stroke-width="1.2"/><text x="169.89" y="250.4" font-size="10.8" text-anchor="middle" >150K</text><line x1="177.63" y1="233.8" x2="177.63" y2="236.2" stroke="#000" stroke-width="1.2"/><line x1="185.36" y1="233.8" x2="185.36" y2="236.2" stroke="#000" stroke-width="1.2"/><line x1="193.1" y1="233.8" x2="193.1" y2="236.2" stroke="#000" stroke-width="1.2"/><line x1="200.83" y1="233.8" x2="200.83" y2="236.2" stroke="#000" stroke-width="1.2"/><line x1="208.57" y1="233.8" x2="208.57" y2="238.2" stroke="#000" stroke-width="1.2"/><text x="208.57" y="250.4" font-size="10.8" text-anchor="middle" >200K</text><line x1="216.31" y1="233.8" x2="216.31" y2="236.2" stroke="#000" stroke-width="1.2"/><line x1="224.04" y1="233.8" x2="224.04" y2="236.2" stroke="#000" stroke-width="1.2"/><line x1="231.78" y1="233.8" x2="231.78" y2="236.2" stroke="#000" stroke-width="1.2"/><line x1="239.51" y1="233.8" x2="239.51" y2="236.2" stroke="#000" stroke-width="1.2"/><line x1="247.25" y1="233.8" x2="247.25" y2="238.2" stroke="#000" stroke-width="1.2"/><text x="247.25" y="250.4" font-size="10.8" text-anchor="middle" >250K</text><line x1="254.99" y1="233.8" x2="254.99" y2="236.2" stroke="#000" stroke-width="1.2"/><line x1="50.2" y1="210.4" x2="53.8" y2="210.4" stroke="#000" stroke-width="1.2"/><line x1="51.5" y1="210.21" x2="53.8" y2="210.21" stroke="#000" stroke-width="1.05"/><line x1="51.5" y1="210.58" x2="53.8" y2="210.58" stroke="#000" stroke-width="1.05"/><line x1="51.5" y1="210.02" x2="53.8" y2="210.02" stroke="#000" stroke-width="1.05"/><line x1="51.5" y1="210.76" x2="53.8" y2="210.76" stroke="#000" stroke-width="1.05"/><line x1="51.5" y1="209.83" x2="53.8" y2="209.83" stroke="#000" stroke-width="1.05"/><line x1="51.5" y1="210.94" x2="53.8" y2="210.94" stroke="#000" stroke-width="1.05"/><line x1="51.5" y1="209.64" x2="53.8" y2="209.64" stroke="#000" stroke-width="1.05"/><line x1="51.5" y1="211.12" x2="53.8" y2="211.12" stroke="#000" stroke-width="1.05"/><line x1="51.5" y1="209.46" x2="53.8" y2="209.46" stroke="#000" stroke-width="1.05"/><line x1="51.5" y1="211.3" x2="53.8" y2="211.3" stroke="#000" stroke-width="1.05"/><line x1="51.5" y1="209.27" x2="53.8" y2="209.27" stroke="#000" stroke-width="1.05"/><line x1="51.5" y1="211.48" x2="53.8" y2="211.48" stroke="#000" stroke-width="1.05"/><line x1="51.5" y1="209.08" x2="53.8" y2="209.08" stroke="#000" stroke-width="1.05"/><line x1="51.5" y1="211.66" x2="53.8" y2="211.66" stroke="#000" stroke-width="1.05"/><line x1="51.5" y1="208.89" x2="53.8" y2="208.89" stroke="#000" stroke-width="1.05"/><line x1="51.5" y1="211.84" x2="53.8" y2="211.84" stroke="#000" stroke-width="1.05"/><line x1="51.5" y1="208.7" x2="53.8" y2="208.7" stroke="#000" stroke-width="1.05"/><line x1="51.5" y1="212.02" x2="53.8" y2="212.02" stroke="#000" stroke-width="1.05"/><line x1="51.5" y1="208.51" x2="53.8" y2="208.51" stroke="#000" stroke-width="1.05"/><line x1="51.5" y1="212.2" x2="53.8" y2="212.2" stroke="#000" stroke-width="1.05"/><line x1="51.5" y1="206.62" x2="53.8" y2="206.62" stroke="#000" stroke-width="1.05"/><line x1="51.5" y1="214" x2="53.8" y2="214" stroke="#000" stroke-width="1.05"/><line x1="51.5" y1="204.73" x2="53.8" y2="204.73" stroke="#000" stroke-width="1.05"/><line x1="51.5" y1="215.8" x2="53.8" y2="215.8" stroke="#000" stroke-width="1.05"/><line x1="51.5" y1="202.84" x2="53.8" y2="202.84" stroke="#000" stroke-width="1.05"/><line x1="51.5" y1="217.6" x2="53.8" y2="217.6" stroke="#000" stroke-width="1.05"/><line x1="51.5" y1="200.95" x2="53.8" y2="200.95" stroke="#000" stroke-width="1.05"/><line x1="51.5" y1="219.4" x2="53.8" y2="219.4" stroke="#000" stroke-width="1.05"/><line x1="51.5" y1="199.06" x2="53.8" y2="199.06" stroke="#000" stroke-width="1.05"/><line x1="51.5" y1="221.2" x2="53.8" y2="221.2" stroke="#000" stroke-width="1.05"/><line x1="51.5" y1="197.17" x2="53.8" y2="197.17" stroke="#000" stroke-width="1.05"/><line x1="51.5" y1="223" x2="53.8" y2="223" stroke="#000" stroke-width="1.05"/><line x1="51.5" y1="195.28" x2="53.8" y2="195.28" stroke="#000" stroke-width="1.05"/><line x1="51.5" y1="224.8" x2="53.8" y2="224.8" stroke="#000" stroke-width="1.05"/><line x1="51.5" y1="193.39" x2="53.8" y2="193.39" stroke="#000" stroke-width="1.05"/><line x1="51.5" y1="226.6" x2="53.8" y2="226.6" stroke="#000" stroke-width="1.05"/><line x1="49.2" y1="191.5" x2="53.8" y2="191.5" stroke="#000" stroke-width="1.2"/><line x1="49.2" y1="228.4" x2="53.8" y2="228.4" stroke="#000" stroke-width="1.2"/><line x1="51.1" y1="176.93" x2="53.8" y2="176.93" stroke="#000" stroke-width="1.05"/><line x1="51.1" y1="168.41" x2="53.8" y2="168.41" stroke="#000" stroke-width="1.05"/><line x1="51.1" y1="162.36" x2="53.8" y2="162.36" stroke="#000" stroke-width="1.05"/><line x1="51.1" y1="157.67" x2="53.8" y2="157.67" stroke="#000" stroke-width="1.05"/><line x1="51.1" y1="153.84" x2="53.8" y2="153.84" stroke="#000" stroke-width="1.05"/><line x1="51.1" y1="150.6" x2="53.8" y2="150.6" stroke="#000" stroke-width="1.05"/><line x1="51.1" y1="147.79" x2="53.8" y2="147.79" stroke="#000" stroke-width="1.05"/><line x1="51.1" y1="145.31" x2="53.8" y2="145.31" stroke="#000" stroke-width="1.05"/><line x1="49.2" y1="143.1" x2="53.8" y2="143.1" stroke="#000" stroke-width="1.2"/><line x1="51.1" y1="128.74" x2="53.8" y2="128.74" stroke="#000" stroke-width="1.05"/><line x1="51.1" y1="120.34" x2="53.8" y2="120.34" stroke="#000" stroke-width="1.05"/><line x1="51.1" y1="114.38" x2="53.8" y2="114.38" stroke="#000" stroke-width="1.05"/><line x1="51.1" y1="109.76" x2="53.8" y2="109.76" stroke="#000" stroke-width="1.05"/><line x1="51.1" y1="105.98" x2="53.8" y2="105.98" stroke="#000" stroke-width="1.05"/><line x1="51.1" y1="102.79" x2="53.8" y2="102.79" stroke="#000" stroke-width="1.05"/><line x1="51.1" y1="100.02" x2="53.8" y2="100.02" stroke="#000" stroke-width="1.05"/><line x1="51.1" y1="97.58" x2="53.8" y2="97.58" stroke="#000" stroke-width="1.05"/><line x1="49.2" y1="95.4" x2="53.8" y2="95.4" stroke="#000" stroke-width="1.2"/><line x1="51.1" y1="81.37" x2="53.8" y2="81.37" stroke="#000" stroke-width="1.05"/><line x1="51.1" y1="73.17" x2="53.8" y2="73.17" stroke="#000" stroke-width="1.05"/><line x1="51.1" y1="67.34" x2="53.8" y2="67.34" stroke="#000" stroke-width="1.05"/><line x1="51.1" y1="62.83" x2="53.8" y2="62.83" stroke="#000" stroke-width="1.05"/><line x1="51.1" y1="59.14" x2="53.8" y2="59.14" stroke="#000" stroke-width="1.05"/><line x1="51.1" y1="56.02" x2="53.8" y2="56.02" stroke="#000" stroke-width="1.05"/><line x1="51.1" y1="53.32" x2="53.8" y2="53.32" stroke="#000" stroke-width="1.05"/><line x1="51.1" y1="50.93" x2="53.8" y2="50.93" stroke="#000" stroke-width="1.05"/><line x1="49.2" y1="48.8" x2="53.8" y2="48.8" stroke="#000" stroke-width="1.2"/><line x1="51.1" y1="34.77" x2="53.8" y2="34.77" stroke="#000" stroke-width="1.05"/><text x="41.4" y="55.1" font-size="10.8" text-anchor="end">10</text><text x="42.3" y="49.7" font-size="7.9">5</text><text x="41.4" y="101.7" font-size="10.8" text-anchor="end">10</text><text x="42.3" y="96.3" font-size="7.9">4</text><text x="41.4" y="149.4" font-size="10.8" text-anchor="end">10</text><text x="42.3" y="144" font-size="7.9">3</text><text x="41.4" y="197.8" font-size="10.8" text-anchor="end">10</text><text x="42.3" y="192.4" font-size="7.9">2</text><text x="41.4" y="214.2" font-size="10.8" text-anchor="end" >0</text><text x="41.4" y="234.7" font-size="10.8" text-anchor="end">−10</text><text x="42.3" y="229.3" font-size="7.9">2</text><rect x="80.1" y="51.4" width="81.8" height="92.5" fill="none" stroke="#000" stroke-width="1.6"/><text x="170.36" y="87.5" font-size="10.5" textLength="35.55">CD45+</text><text x="177.81" y="100.6" font-size="10.5" textLength="20.66">99.3</text><text x="0" y="0" font-size="12.6" font-weight="normal" stroke="#000" stroke-width="0.5" word-spacing="1.6" letter-spacing="0.9" text-anchor="middle" transform="translate(156.06 268) scale(0.5749 1)">FSC-A</text><text x="0" y="0" font-size="12.6" font-weight="normal" stroke="#000" stroke-width="0.5" word-spacing="1.6" letter-spacing="0.9" text-anchor="middle" transform="translate(22 131.54) rotate(-90) scale(0.5810 1)">APC-Cy7-A hCD45</text><rect x="307.4" y="29.8" width="204" height="204" fill="none" stroke="#000" stroke-width="1.5"/><line x1="307.45" y1="233.8" x2="307.45" y2="238.2" stroke="#000" stroke-width="1.2"/><text x="307.45" y="250.4" font-size="10.8" text-anchor="middle" >0</text><line x1="315.19" y1="233.8" x2="315.19" y2="236.2" stroke="#000" stroke-width="1.2"/><line x1="322.92" y1="233.8" x2="322.92" y2="236.2" stroke="#000" stroke-width="1.2"/><line x1="330.66" y1="233.8" x2="330.66" y2="236.2" stroke="#000" stroke-width="1.2"/><line x1="338.39" y1="233.8" x2="338.39" y2="236.2" stroke="#000" stroke-width="1.2"/><line x1="346.13" y1="233.8" x2="346.13" y2="238.2" stroke="#000" stroke-width="1.2"/><text x="346.13" y="250.4" font-size="10.8" text-anchor="middle" >50K</text><line x1="353.87" y1="233.8" x2="353.87" y2="236.2" stroke="#000" stroke-width="1.2"/><line x1="361.6" y1="233.8" x2="361.6" y2="236.2" stroke="#000" stroke-width="1.2"/><line x1="369.34" y1="233.8" x2="369.34" y2="236.2" stroke="#000" stroke-width="1.2"/><line x1="377.07" y1="233.8" x2="377.07" y2="236.2" stroke="#000" stroke-width="1.2"/><line x1="384.81" y1="233.8" x2="384.81" y2="238.2" stroke="#000" stroke-width="1.2"/><text x="384.81" y="250.4" font-size="10.8" text-anchor="middle" >100K</text><line x1="392.55" y1="233.8" x2="392.55" y2="236.2" stroke="#000" stroke-width="1.2"/><line x1="400.28" y1="233.8" x2="400.28" y2="236.2" stroke="#000" stroke-width="1.2"/><line x1="408.02" y1="233.8" x2="408.02" y2="236.2" stroke="#000" stroke-width="1.2"/><line x1="415.75" y1="233.8" x2="415.75" y2="236.2" stroke="#000" stroke-width="1.2"/><line x1="423.49" y1="233.8" x2="423.49" y2="238.2" stroke="#000" stroke-width="1.2"/><text x="423.49" y="250.4" font-size="10.8" text-anchor="middle" >150K</text><line x1="431.23" y1="233.8" x2="431.23" y2="236.2" stroke="#000" stroke-width="1.2"/><line x1="438.96" y1="233.8" x2="438.96" y2="236.2" stroke="#000" stroke-width="1.2"/><line x1="446.7" y1="233.8" x2="446.7" y2="236.2" stroke="#000" stroke-width="1.2"/><line x1="454.43" y1="233.8" x2="454.43" y2="236.2" stroke="#000" stroke-width="1.2"/><line x1="462.17" y1="233.8" x2="462.17" y2="238.2" stroke="#000" stroke-width="1.2"/><text x="462.17" y="250.4" font-size="10.8" text-anchor="middle" >200K</text><line x1="469.91" y1="233.8" x2="469.91" y2="236.2" stroke="#000" stroke-width="1.2"/><line x1="477.64" y1="233.8" x2="477.64" y2="236.2" stroke="#000" stroke-width="1.2"/><line x1="485.38" y1="233.8" x2="485.38" y2="236.2" stroke="#000" stroke-width="1.2"/><line x1="493.11" y1="233.8" x2="493.11" y2="236.2" stroke="#000" stroke-width="1.2"/><line x1="500.85" y1="233.8" x2="500.85" y2="238.2" stroke="#000" stroke-width="1.2"/><text x="500.85" y="250.4" font-size="10.8" text-anchor="middle" >250K</text><line x1="508.59" y1="233.8" x2="508.59" y2="236.2" stroke="#000" stroke-width="1.2"/><line x1="303.8" y1="212.4" x2="307.4" y2="212.4" stroke="#000" stroke-width="1.2"/><line x1="305.1" y1="212.24" x2="307.4" y2="212.24" stroke="#000" stroke-width="1.05"/><line x1="305.1" y1="212.56" x2="307.4" y2="212.56" stroke="#000" stroke-width="1.05"/><line x1="305.1" y1="212.08" x2="307.4" y2="212.08" stroke="#000" stroke-width="1.05"/><line x1="305.1" y1="212.72" x2="307.4" y2="212.72" stroke="#000" stroke-width="1.05"/><line x1="305.1" y1="211.93" x2="307.4" y2="211.93" stroke="#000" stroke-width="1.05"/><line x1="305.1" y1="212.88" x2="307.4" y2="212.88" stroke="#000" stroke-width="1.05"/><line x1="305.1" y1="211.77" x2="307.4" y2="211.77" stroke="#000" stroke-width="1.05"/><line x1="305.1" y1="213.04" x2="307.4" y2="213.04" stroke="#000" stroke-width="1.05"/><line x1="305.1" y1="211.61" x2="307.4" y2="211.61" stroke="#000" stroke-width="1.05"/><line x1="305.1" y1="213.2" x2="307.4" y2="213.2" stroke="#000" stroke-width="1.05"/><line x1="305.1" y1="211.45" x2="307.4" y2="211.45" stroke="#000" stroke-width="1.05"/><line x1="305.1" y1="213.36" x2="307.4" y2="213.36" stroke="#000" stroke-width="1.05"/><line x1="305.1" y1="211.29" x2="307.4" y2="211.29" stroke="#000" stroke-width="1.05"/><line x1="305.1" y1="213.52" x2="307.4" y2="213.52" stroke="#000" stroke-width="1.05"/><line x1="305.1" y1="211.14" x2="307.4" y2="211.14" stroke="#000" stroke-width="1.05"/><line x1="305.1" y1="213.68" x2="307.4" y2="213.68" stroke="#000" stroke-width="1.05"/><line x1="305.1" y1="210.98" x2="307.4" y2="210.98" stroke="#000" stroke-width="1.05"/><line x1="305.1" y1="213.84" x2="307.4" y2="213.84" stroke="#000" stroke-width="1.05"/><line x1="305.1" y1="210.82" x2="307.4" y2="210.82" stroke="#000" stroke-width="1.05"/><line x1="305.1" y1="214" x2="307.4" y2="214" stroke="#000" stroke-width="1.05"/><line x1="305.1" y1="209.24" x2="307.4" y2="209.24" stroke="#000" stroke-width="1.05"/><line x1="305.1" y1="215.6" x2="307.4" y2="215.6" stroke="#000" stroke-width="1.05"/><line x1="305.1" y1="207.66" x2="307.4" y2="207.66" stroke="#000" stroke-width="1.05"/><line x1="305.1" y1="217.2" x2="307.4" y2="217.2" stroke="#000" stroke-width="1.05"/><line x1="305.1" y1="206.08" x2="307.4" y2="206.08" stroke="#000" stroke-width="1.05"/><line x1="305.1" y1="218.8" x2="307.4" y2="218.8" stroke="#000" stroke-width="1.05"/><line x1="305.1" y1="204.5" x2="307.4" y2="204.5" stroke="#000" stroke-width="1.05"/><line x1="305.1" y1="220.4" x2="307.4" y2="220.4" stroke="#000" stroke-width="1.05"/><line x1="305.1" y1="202.92" x2="307.4" y2="202.92" stroke="#000" stroke-width="1.05"/><line x1="305.1" y1="222" x2="307.4" y2="222" stroke="#000" stroke-width="1.05"/><line x1="305.1" y1="201.34" x2="307.4" y2="201.34" stroke="#000" stroke-width="1.05"/><line x1="305.1" y1="223.6" x2="307.4" y2="223.6" stroke="#000" stroke-width="1.05"/><line x1="305.1" y1="199.76" x2="307.4" y2="199.76" stroke="#000" stroke-width="1.05"/><line x1="305.1" y1="225.2" x2="307.4" y2="225.2" stroke="#000" stroke-width="1.05"/><line x1="305.1" y1="198.18" x2="307.4" y2="198.18" stroke="#000" stroke-width="1.05"/><line x1="305.1" y1="226.8" x2="307.4" y2="226.8" stroke="#000" stroke-width="1.05"/><line x1="302.8" y1="196.6" x2="307.4" y2="196.6" stroke="#000" stroke-width="1.2"/><line x1="302.8" y1="228.4" x2="307.4" y2="228.4" stroke="#000" stroke-width="1.2"/><line x1="304.7" y1="183.17" x2="307.4" y2="183.17" stroke="#000" stroke-width="1.05"/><line x1="304.7" y1="175.32" x2="307.4" y2="175.32" stroke="#000" stroke-width="1.05"/><line x1="304.7" y1="169.75" x2="307.4" y2="169.75" stroke="#000" stroke-width="1.05"/><line x1="304.7" y1="165.43" x2="307.4" y2="165.43" stroke="#000" stroke-width="1.05"/><line x1="304.7" y1="161.89" x2="307.4" y2="161.89" stroke="#000" stroke-width="1.05"/><line x1="304.7" y1="158.91" x2="307.4" y2="158.91" stroke="#000" stroke-width="1.05"/><line x1="304.7" y1="156.32" x2="307.4" y2="156.32" stroke="#000" stroke-width="1.05"/><line x1="304.7" y1="154.04" x2="307.4" y2="154.04" stroke="#000" stroke-width="1.05"/><line x1="302.8" y1="152" x2="307.4" y2="152" stroke="#000" stroke-width="1.2"/><line x1="304.7" y1="139.3" x2="307.4" y2="139.3" stroke="#000" stroke-width="1.05"/><line x1="304.7" y1="131.87" x2="307.4" y2="131.87" stroke="#000" stroke-width="1.05"/><line x1="304.7" y1="126.59" x2="307.4" y2="126.59" stroke="#000" stroke-width="1.05"/><line x1="304.7" y1="122.5" x2="307.4" y2="122.5" stroke="#000" stroke-width="1.05"/><line x1="304.7" y1="119.16" x2="307.4" y2="119.16" stroke="#000" stroke-width="1.05"/><line x1="304.7" y1="116.34" x2="307.4" y2="116.34" stroke="#000" stroke-width="1.05"/><line x1="304.7" y1="113.89" x2="307.4" y2="113.89" stroke="#000" stroke-width="1.05"/><line x1="304.7" y1="111.73" x2="307.4" y2="111.73" stroke="#000" stroke-width="1.05"/><line x1="302.8" y1="109.8" x2="307.4" y2="109.8" stroke="#000" stroke-width="1.2"/><line x1="304.7" y1="97.22" x2="307.4" y2="97.22" stroke="#000" stroke-width="1.05"/><line x1="304.7" y1="89.86" x2="307.4" y2="89.86" stroke="#000" stroke-width="1.05"/><line x1="304.7" y1="84.63" x2="307.4" y2="84.63" stroke="#000" stroke-width="1.05"/><line x1="304.7" y1="80.58" x2="307.4" y2="80.58" stroke="#000" stroke-width="1.05"/><line x1="304.7" y1="77.27" x2="307.4" y2="77.27" stroke="#000" stroke-width="1.05"/><line x1="304.7" y1="74.47" x2="307.4" y2="74.47" stroke="#000" stroke-width="1.05"/><line x1="304.7" y1="72.05" x2="307.4" y2="72.05" stroke="#000" stroke-width="1.05"/><line x1="304.7" y1="69.91" x2="307.4" y2="69.91" stroke="#000" stroke-width="1.05"/><line x1="302.8" y1="68" x2="307.4" y2="68" stroke="#000" stroke-width="1.2"/><line x1="304.7" y1="55.42" x2="307.4" y2="55.42" stroke="#000" stroke-width="1.05"/><line x1="304.7" y1="48.06" x2="307.4" y2="48.06" stroke="#000" stroke-width="1.05"/><line x1="304.7" y1="42.83" x2="307.4" y2="42.83" stroke="#000" stroke-width="1.05"/><line x1="304.7" y1="38.78" x2="307.4" y2="38.78" stroke="#000" stroke-width="1.05"/><line x1="304.7" y1="35.47" x2="307.4" y2="35.47" stroke="#000" stroke-width="1.05"/><line x1="304.7" y1="32.67" x2="307.4" y2="32.67" stroke="#000" stroke-width="1.05"/><line x1="304.7" y1="30.25" x2="307.4" y2="30.25" stroke="#000" stroke-width="1.05"/><text x="295" y="74.3" font-size="10.8" text-anchor="end">10</text><text x="295.9" y="68.9" font-size="7.9">5</text><text x="295" y="116.1" font-size="10.8" text-anchor="end">10</text><text x="295.9" y="110.7" font-size="7.9">4</text><text x="295" y="158.3" font-size="10.8" text-anchor="end">10</text><text x="295.9" y="152.9" font-size="7.9">3</text><text x="295" y="216.2" font-size="10.8" text-anchor="end" >0</text><rect x="341.2" y="50.1" width="69.8" height="60.2" fill="none" stroke="#000" stroke-width="1.6"/><text x="417.26" y="76.2" font-size="10.5" textLength="28.64">CD3+</text><text x="421.05" y="88.9" font-size="10.5" textLength="20.86">88.0</text><text x="0" y="0" font-size="12.6" font-weight="normal" stroke="#000" stroke-width="0.5" word-spacing="1.6" letter-spacing="0.9" text-anchor="middle" transform="translate(409.66 268) scale(0.5749 1)">FSC-A</text><text x="0" y="0" font-size="12.6" font-weight="normal" stroke="#000" stroke-width="0.5" word-spacing="1.6" letter-spacing="0.9" text-anchor="middle" transform="translate(276 131.53) rotate(-90) scale(0.5952 1)">PerCP-Cy5-5-A hCD3</text><rect x="53.8" y="285.4" width="204" height="204" fill="none" stroke="#000" stroke-width="1.5"/><line x1="53.85" y1="489.4" x2="53.85" y2="493.8" stroke="#000" stroke-width="1.2"/><text x="53.85" y="506" font-size="10.8" text-anchor="middle" >0</text><line x1="61.59" y1="489.4" x2="61.59" y2="491.8" stroke="#000" stroke-width="1.2"/><line x1="69.32" y1="489.4" x2="69.32" y2="491.8" stroke="#000" stroke-width="1.2"/><line x1="77.06" y1="489.4" x2="77.06" y2="491.8" stroke="#000" stroke-width="1.2"/><line x1="84.79" y1="489.4" x2="84.79" y2="491.8" stroke="#000" stroke-width="1.2"/><line x1="92.53" y1="489.4" x2="92.53" y2="493.8" stroke="#000" stroke-width="1.2"/><text x="92.53" y="506" font-size="10.8" text-anchor="middle" >50K</text><line x1="100.27" y1="489.4" x2="100.27" y2="491.8" stroke="#000" stroke-width="1.2"/><line x1="108" y1="489.4" x2="108" y2="491.8" stroke="#000" stroke-width="1.2"/><line x1="115.74" y1="489.4" x2="115.74" y2="491.8" stroke="#000" stroke-width="1.2"/><line x1="123.47" y1="489.4" x2="123.47" y2="491.8" stroke="#000" stroke-width="1.2"/><line x1="131.21" y1="489.4" x2="131.21" y2="493.8" stroke="#000" stroke-width="1.2"/><text x="131.21" y="506" font-size="10.8" text-anchor="middle" >100K</text><line x1="138.95" y1="489.4" x2="138.95" y2="491.8" stroke="#000" stroke-width="1.2"/><line x1="146.68" y1="489.4" x2="146.68" y2="491.8" stroke="#000" stroke-width="1.2"/><line x1="154.42" y1="489.4" x2="154.42" y2="491.8" stroke="#000" stroke-width="1.2"/><line x1="162.15" y1="489.4" x2="162.15" y2="491.8" stroke="#000" stroke-width="1.2"/><line x1="169.89" y1="489.4" x2="169.89" y2="493.8" stroke="#000" stroke-width="1.2"/><text x="169.89" y="506" font-size="10.8" text-anchor="middle" >150K</text><line x1="177.63" y1="489.4" x2="177.63" y2="491.8" stroke="#000" stroke-width="1.2"/><line x1="185.36" y1="489.4" x2="185.36" y2="491.8" stroke="#000" stroke-width="1.2"/><line x1="193.1" y1="489.4" x2="193.1" y2="491.8" stroke="#000" stroke-width="1.2"/><line x1="200.83" y1="489.4" x2="200.83" y2="491.8" stroke="#000" stroke-width="1.2"/><line x1="208.57" y1="489.4" x2="208.57" y2="493.8" stroke="#000" stroke-width="1.2"/><text x="208.57" y="506" font-size="10.8" text-anchor="middle" >200K</text><line x1="216.31" y1="489.4" x2="216.31" y2="491.8" stroke="#000" stroke-width="1.2"/><line x1="224.04" y1="489.4" x2="224.04" y2="491.8" stroke="#000" stroke-width="1.2"/><line x1="231.78" y1="489.4" x2="231.78" y2="491.8" stroke="#000" stroke-width="1.2"/><line x1="239.51" y1="489.4" x2="239.51" y2="491.8" stroke="#000" stroke-width="1.2"/><line x1="247.25" y1="489.4" x2="247.25" y2="493.8" stroke="#000" stroke-width="1.2"/><text x="247.25" y="506" font-size="10.8" text-anchor="middle" >250K</text><line x1="254.99" y1="489.4" x2="254.99" y2="491.8" stroke="#000" stroke-width="1.2"/><line x1="50.2" y1="461.6" x2="53.8" y2="461.6" stroke="#000" stroke-width="1.2"/><line x1="51.5" y1="461.24" x2="53.8" y2="461.24" stroke="#000" stroke-width="1.05"/><line x1="51.5" y1="461.97" x2="53.8" y2="461.97" stroke="#000" stroke-width="1.05"/><line x1="51.5" y1="460.87" x2="53.8" y2="460.87" stroke="#000" stroke-width="1.05"/><line x1="51.5" y1="462.33" x2="53.8" y2="462.33" stroke="#000" stroke-width="1.05"/><line x1="51.5" y1="460.5" x2="53.8" y2="460.5" stroke="#000" stroke-width="1.05"/><line x1="51.5" y1="462.7" x2="53.8" y2="462.7" stroke="#000" stroke-width="1.05"/><line x1="51.5" y1="460.14" x2="53.8" y2="460.14" stroke="#000" stroke-width="1.05"/><line x1="51.5" y1="463.06" x2="53.8" y2="463.06" stroke="#000" stroke-width="1.05"/><line x1="51.5" y1="459.78" x2="53.8" y2="459.78" stroke="#000" stroke-width="1.05"/><line x1="51.5" y1="463.43" x2="53.8" y2="463.43" stroke="#000" stroke-width="1.05"/><line x1="51.5" y1="459.41" x2="53.8" y2="459.41" stroke="#000" stroke-width="1.05"/><line x1="51.5" y1="463.79" x2="53.8" y2="463.79" stroke="#000" stroke-width="1.05"/><line x1="51.5" y1="459.05" x2="53.8" y2="459.05" stroke="#000" stroke-width="1.05"/><line x1="51.5" y1="464.16" x2="53.8" y2="464.16" stroke="#000" stroke-width="1.05"/><line x1="51.5" y1="458.68" x2="53.8" y2="458.68" stroke="#000" stroke-width="1.05"/><line x1="51.5" y1="464.52" x2="53.8" y2="464.52" stroke="#000" stroke-width="1.05"/><line x1="51.5" y1="458.31" x2="53.8" y2="458.31" stroke="#000" stroke-width="1.05"/><line x1="51.5" y1="464.89" x2="53.8" y2="464.89" stroke="#000" stroke-width="1.05"/><line x1="51.5" y1="457.95" x2="53.8" y2="457.95" stroke="#000" stroke-width="1.05"/><line x1="51.5" y1="465.25" x2="53.8" y2="465.25" stroke="#000" stroke-width="1.05"/><line x1="51.5" y1="454.3" x2="53.8" y2="454.3" stroke="#000" stroke-width="1.05"/><line x1="51.5" y1="468.9" x2="53.8" y2="468.9" stroke="#000" stroke-width="1.05"/><line x1="51.5" y1="450.65" x2="53.8" y2="450.65" stroke="#000" stroke-width="1.05"/><line x1="51.5" y1="472.55" x2="53.8" y2="472.55" stroke="#000" stroke-width="1.05"/><line x1="51.5" y1="447" x2="53.8" y2="447" stroke="#000" stroke-width="1.05"/><line x1="51.5" y1="476.2" x2="53.8" y2="476.2" stroke="#000" stroke-width="1.05"/><line x1="51.5" y1="443.35" x2="53.8" y2="443.35" stroke="#000" stroke-width="1.05"/><line x1="51.5" y1="479.85" x2="53.8" y2="479.85" stroke="#000" stroke-width="1.05"/><line x1="51.5" y1="439.7" x2="53.8" y2="439.7" stroke="#000" stroke-width="1.05"/><line x1="51.5" y1="483.5" x2="53.8" y2="483.5" stroke="#000" stroke-width="1.05"/><line x1="51.5" y1="436.05" x2="53.8" y2="436.05" stroke="#000" stroke-width="1.05"/><line x1="51.5" y1="487.15" x2="53.8" y2="487.15" stroke="#000" stroke-width="1.05"/><line x1="51.5" y1="432.4" x2="53.8" y2="432.4" stroke="#000" stroke-width="1.05"/><line x1="51.5" y1="428.75" x2="53.8" y2="428.75" stroke="#000" stroke-width="1.05"/><line x1="49.2" y1="425.1" x2="53.8" y2="425.1" stroke="#000" stroke-width="1.2"/><line x1="51.1" y1="406.74" x2="53.8" y2="406.74" stroke="#000" stroke-width="1.05"/><line x1="51.1" y1="396" x2="53.8" y2="396" stroke="#000" stroke-width="1.05"/><line x1="51.1" y1="388.37" x2="53.8" y2="388.37" stroke="#000" stroke-width="1.05"/><line x1="51.1" y1="382.46" x2="53.8" y2="382.46" stroke="#000" stroke-width="1.05"/><line x1="51.1" y1="377.63" x2="53.8" y2="377.63" stroke="#000" stroke-width="1.05"/><line x1="51.1" y1="373.55" x2="53.8" y2="373.55" stroke="#000" stroke-width="1.05"/><line x1="51.1" y1="370.01" x2="53.8" y2="370.01" stroke="#000" stroke-width="1.05"/><line x1="51.1" y1="366.89" x2="53.8" y2="366.89" stroke="#000" stroke-width="1.05"/><line x1="49.2" y1="364.1" x2="53.8" y2="364.1" stroke="#000" stroke-width="1.2"/><line x1="51.1" y1="347.3" x2="53.8" y2="347.3" stroke="#000" stroke-width="1.05"/><line x1="51.1" y1="337.48" x2="53.8" y2="337.48" stroke="#000" stroke-width="1.05"/><line x1="51.1" y1="330.51" x2="53.8" y2="330.51" stroke="#000" stroke-width="1.05"/><line x1="51.1" y1="325.1" x2="53.8" y2="325.1" stroke="#000" stroke-width="1.05"/><line x1="51.1" y1="320.68" x2="53.8" y2="320.68" stroke="#000" stroke-width="1.05"/><line x1="51.1" y1="316.94" x2="53.8" y2="316.94" stroke="#000" stroke-width="1.05"/><line x1="51.1" y1="313.71" x2="53.8" y2="313.71" stroke="#000" stroke-width="1.05"/><line x1="51.1" y1="310.85" x2="53.8" y2="310.85" stroke="#000" stroke-width="1.05"/><line x1="49.2" y1="308.3" x2="53.8" y2="308.3" stroke="#000" stroke-width="1.2"/><line x1="51.1" y1="291.5" x2="53.8" y2="291.5" stroke="#000" stroke-width="1.05"/><text x="41.4" y="314.6" font-size="10.8" text-anchor="end">10</text><text x="42.3" y="309.2" font-size="7.9">4</text><text x="41.4" y="370.4" font-size="10.8" text-anchor="end">10</text><text x="42.3" y="365" font-size="7.9">3</text><text x="41.4" y="431.4" font-size="10.8" text-anchor="end">10</text><text x="42.3" y="426" font-size="7.9">2</text><text x="41.4" y="465.4" font-size="10.8" text-anchor="end" >0</text><rect x="85.1" y="292.9" width="81.7" height="99.1" fill="none" stroke="#000" stroke-width="1.6"/><text x="172.66" y="339" font-size="10.5" textLength="29.24">CD4+</text><text x="178" y="351.7" font-size="10.5" textLength="18.41">100</text><text x="0" y="0" font-size="12.6" font-weight="normal" stroke="#000" stroke-width="0.5" word-spacing="1.6" letter-spacing="0.9" text-anchor="middle" transform="translate(156.06 523.6) scale(0.5749 1)">FSC-A</text><text x="0" y="0" font-size="12.6" font-weight="normal" stroke="#000" stroke-width="0.5" word-spacing="1.6" letter-spacing="0.9" text-anchor="middle" transform="translate(22 387.14) rotate(-90) scale(0.5820 1)">PE-Cy7-A hCD4</text><rect x="307.4" y="285.4" width="204" height="204" fill="none" stroke="#000" stroke-width="1.5"/><line x1="307.45" y1="489.4" x2="307.45" y2="493.8" stroke="#000" stroke-width="1.2"/><text x="307.45" y="506" font-size="10.8" text-anchor="middle" >0</text><line x1="315.19" y1="489.4" x2="315.19" y2="491.8" stroke="#000" stroke-width="1.2"/><line x1="322.92" y1="489.4" x2="322.92" y2="491.8" stroke="#000" stroke-width="1.2"/><line x1="330.66" y1="489.4" x2="330.66" y2="491.8" stroke="#000" stroke-width="1.2"/><line x1="338.39" y1="489.4" x2="338.39" y2="491.8" stroke="#000" stroke-width="1.2"/><line x1="346.13" y1="489.4" x2="346.13" y2="493.8" stroke="#000" stroke-width="1.2"/><text x="346.13" y="506" font-size="10.8" text-anchor="middle" >50K</text><line x1="353.87" y1="489.4" x2="353.87" y2="491.8" stroke="#000" stroke-width="1.2"/><line x1="361.6" y1="489.4" x2="361.6" y2="491.8" stroke="#000" stroke-width="1.2"/><line x1="369.34" y1="489.4" x2="369.34" y2="491.8" stroke="#000" stroke-width="1.2"/><line x1="377.07" y1="489.4" x2="377.07" y2="491.8" stroke="#000" stroke-width="1.2"/><line x1="384.81" y1="489.4" x2="384.81" y2="493.8" stroke="#000" stroke-width="1.2"/><text x="384.81" y="506" font-size="10.8" text-anchor="middle" >100K</text><line x1="392.55" y1="489.4" x2="392.55" y2="491.8" stroke="#000" stroke-width="1.2"/><line x1="400.28" y1="489.4" x2="400.28" y2="491.8" stroke="#000" stroke-width="1.2"/><line x1="408.02" y1="489.4" x2="408.02" y2="491.8" stroke="#000" stroke-width="1.2"/><line x1="415.75" y1="489.4" x2="415.75" y2="491.8" stroke="#000" stroke-width="1.2"/><line x1="423.49" y1="489.4" x2="423.49" y2="493.8" stroke="#000" stroke-width="1.2"/><text x="423.49" y="506" font-size="10.8" text-anchor="middle" >150K</text><line x1="431.23" y1="489.4" x2="431.23" y2="491.8" stroke="#000" stroke-width="1.2"/><line x1="438.96" y1="489.4" x2="438.96" y2="491.8" stroke="#000" stroke-width="1.2"/><line x1="446.7" y1="489.4" x2="446.7" y2="491.8" stroke="#000" stroke-width="1.2"/><line x1="454.43" y1="489.4" x2="454.43" y2="491.8" stroke="#000" stroke-width="1.2"/><line x1="462.17" y1="489.4" x2="462.17" y2="493.8" stroke="#000" stroke-width="1.2"/><text x="462.17" y="506" font-size="10.8" text-anchor="middle" >200K</text><line x1="469.91" y1="489.4" x2="469.91" y2="491.8" stroke="#000" stroke-width="1.2"/><line x1="477.64" y1="489.4" x2="477.64" y2="491.8" stroke="#000" stroke-width="1.2"/><line x1="485.38" y1="489.4" x2="485.38" y2="491.8" stroke="#000" stroke-width="1.2"/><line x1="493.11" y1="489.4" x2="493.11" y2="491.8" stroke="#000" stroke-width="1.2"/><line x1="500.85" y1="489.4" x2="500.85" y2="493.8" stroke="#000" stroke-width="1.2"/><text x="500.85" y="506" font-size="10.8" text-anchor="middle" >250K</text><line x1="508.59" y1="489.4" x2="508.59" y2="491.8" stroke="#000" stroke-width="1.2"/><line x1="303.8" y1="446.8" x2="307.4" y2="446.8" stroke="#000" stroke-width="1.2"/><line x1="305.1" y1="446.4" x2="307.4" y2="446.4" stroke="#000" stroke-width="1.05"/><line x1="305.1" y1="447.21" x2="307.4" y2="447.21" stroke="#000" stroke-width="1.05"/><line x1="305.1" y1="445.99" x2="307.4" y2="445.99" stroke="#000" stroke-width="1.05"/><line x1="305.1" y1="447.62" x2="307.4" y2="447.62" stroke="#000" stroke-width="1.05"/><line x1="305.1" y1="445.59" x2="307.4" y2="445.59" stroke="#000" stroke-width="1.05"/><line x1="305.1" y1="448.02" x2="307.4" y2="448.02" stroke="#000" stroke-width="1.05"/><line x1="305.1" y1="445.19" x2="307.4" y2="445.19" stroke="#000" stroke-width="1.05"/><line x1="305.1" y1="448.43" x2="307.4" y2="448.43" stroke="#000" stroke-width="1.05"/><line x1="305.1" y1="444.79" x2="307.4" y2="444.79" stroke="#000" stroke-width="1.05"/><line x1="305.1" y1="448.84" x2="307.4" y2="448.84" stroke="#000" stroke-width="1.05"/><line x1="305.1" y1="444.38" x2="307.4" y2="444.38" stroke="#000" stroke-width="1.05"/><line x1="305.1" y1="449.25" x2="307.4" y2="449.25" stroke="#000" stroke-width="1.05"/><line x1="305.1" y1="443.98" x2="307.4" y2="443.98" stroke="#000" stroke-width="1.05"/><line x1="305.1" y1="449.66" x2="307.4" y2="449.66" stroke="#000" stroke-width="1.05"/><line x1="305.1" y1="443.58" x2="307.4" y2="443.58" stroke="#000" stroke-width="1.05"/><line x1="305.1" y1="450.06" x2="307.4" y2="450.06" stroke="#000" stroke-width="1.05"/><line x1="305.1" y1="443.17" x2="307.4" y2="443.17" stroke="#000" stroke-width="1.05"/><line x1="305.1" y1="450.47" x2="307.4" y2="450.47" stroke="#000" stroke-width="1.05"/><line x1="305.1" y1="442.77" x2="307.4" y2="442.77" stroke="#000" stroke-width="1.05"/><line x1="305.1" y1="450.88" x2="307.4" y2="450.88" stroke="#000" stroke-width="1.05"/><line x1="305.1" y1="438.74" x2="307.4" y2="438.74" stroke="#000" stroke-width="1.05"/><line x1="305.1" y1="454.96" x2="307.4" y2="454.96" stroke="#000" stroke-width="1.05"/><line x1="305.1" y1="434.71" x2="307.4" y2="434.71" stroke="#000" stroke-width="1.05"/><line x1="305.1" y1="459.04" x2="307.4" y2="459.04" stroke="#000" stroke-width="1.05"/><line x1="305.1" y1="430.68" x2="307.4" y2="430.68" stroke="#000" stroke-width="1.05"/><line x1="305.1" y1="463.12" x2="307.4" y2="463.12" stroke="#000" stroke-width="1.05"/><line x1="305.1" y1="426.65" x2="307.4" y2="426.65" stroke="#000" stroke-width="1.05"/><line x1="305.1" y1="467.2" x2="307.4" y2="467.2" stroke="#000" stroke-width="1.05"/><line x1="305.1" y1="422.62" x2="307.4" y2="422.62" stroke="#000" stroke-width="1.05"/><line x1="305.1" y1="471.28" x2="307.4" y2="471.28" stroke="#000" stroke-width="1.05"/><line x1="305.1" y1="418.59" x2="307.4" y2="418.59" stroke="#000" stroke-width="1.05"/><line x1="305.1" y1="475.36" x2="307.4" y2="475.36" stroke="#000" stroke-width="1.05"/><line x1="305.1" y1="414.56" x2="307.4" y2="414.56" stroke="#000" stroke-width="1.05"/><line x1="305.1" y1="479.44" x2="307.4" y2="479.44" stroke="#000" stroke-width="1.05"/><line x1="305.1" y1="410.53" x2="307.4" y2="410.53" stroke="#000" stroke-width="1.05"/><line x1="305.1" y1="483.52" x2="307.4" y2="483.52" stroke="#000" stroke-width="1.05"/><line x1="302.8" y1="406.5" x2="307.4" y2="406.5" stroke="#000" stroke-width="1.2"/><line x1="302.8" y1="487.6" x2="307.4" y2="487.6" stroke="#000" stroke-width="1.2"/><line x1="304.7" y1="390.21" x2="307.4" y2="390.21" stroke="#000" stroke-width="1.05"/><line x1="304.7" y1="380.69" x2="307.4" y2="380.69" stroke="#000" stroke-width="1.05"/><line x1="304.7" y1="373.93" x2="307.4" y2="373.93" stroke="#000" stroke-width="1.05"/><line x1="304.7" y1="368.69" x2="307.4" y2="368.69" stroke="#000" stroke-width="1.05"/><line x1="304.7" y1="364.4" x2="307.4" y2="364.4" stroke="#000" stroke-width="1.05"/><line x1="304.7" y1="360.78" x2="307.4" y2="360.78" stroke="#000" stroke-width="1.05"/><line x1="304.7" y1="357.64" x2="307.4" y2="357.64" stroke="#000" stroke-width="1.05"/><line x1="304.7" y1="354.88" x2="307.4" y2="354.88" stroke="#000" stroke-width="1.05"/><line x1="302.8" y1="352.4" x2="307.4" y2="352.4" stroke="#000" stroke-width="1.2"/><line x1="304.7" y1="338.01" x2="307.4" y2="338.01" stroke="#000" stroke-width="1.05"/><line x1="304.7" y1="329.59" x2="307.4" y2="329.59" stroke="#000" stroke-width="1.05"/><line x1="304.7" y1="323.62" x2="307.4" y2="323.62" stroke="#000" stroke-width="1.05"/><line x1="304.7" y1="318.99" x2="307.4" y2="318.99" stroke="#000" stroke-width="1.05"/><line x1="304.7" y1="315.2" x2="307.4" y2="315.2" stroke="#000" stroke-width="1.05"/><line x1="304.7" y1="312" x2="307.4" y2="312" stroke="#000" stroke-width="1.05"/><line x1="304.7" y1="309.23" x2="307.4" y2="309.23" stroke="#000" stroke-width="1.05"/><line x1="304.7" y1="306.79" x2="307.4" y2="306.79" stroke="#000" stroke-width="1.05"/><line x1="302.8" y1="304.6" x2="307.4" y2="304.6" stroke="#000" stroke-width="1.2"/><line x1="304.7" y1="290.21" x2="307.4" y2="290.21" stroke="#000" stroke-width="1.05"/><text x="295" y="310.9" font-size="10.8" text-anchor="end">10</text><text x="295.9" y="305.5" font-size="7.9">4</text><text x="295" y="358.7" font-size="10.8" text-anchor="end">10</text><text x="295.9" y="353.3" font-size="7.9">3</text><text x="295" y="412.8" font-size="10.8" text-anchor="end">10</text><text x="295.9" y="407.4" font-size="7.9">2</text><text x="295" y="450.6" font-size="10.8" text-anchor="end" >0</text><text x="295" y="493.9" font-size="10.8" text-anchor="end">−10</text><text x="295.9" y="488.5" font-size="7.9">2</text><rect x="323.3" y="379" width="128.9" height="99.8" fill="none" stroke="#000" stroke-width="1.6"/><text x="459.86" y="412" font-size="10.5" textLength="34.65">CD26−</text><text x="466.81" y="424.7" font-size="10.5" textLength="20.34">91.5</text><text x="0" y="0" font-size="12.6" font-weight="normal" stroke="#000" stroke-width="0.5" word-spacing="1.6" letter-spacing="0.9" text-anchor="middle" transform="translate(409.66 523.6) scale(0.5749 1)">FSC-A</text><text x="0" y="0" font-size="12.6" font-weight="normal" stroke="#000" stroke-width="0.5" word-spacing="1.6" letter-spacing="0.9" text-anchor="middle" transform="translate(276 387.14) rotate(-90) scale(0.5817 1)">PE-A hCD26</text><rect x="53.8" y="541" width="204" height="204" fill="none" stroke="#000" stroke-width="1.5"/><line x1="53.85" y1="745" x2="53.85" y2="749.4" stroke="#000" stroke-width="1.2"/><text x="53.85" y="761.6" font-size="10.8" text-anchor="middle" >0</text><line x1="61.59" y1="745" x2="61.59" y2="747.4" stroke="#000" stroke-width="1.2"/><line x1="69.32" y1="745" x2="69.32" y2="747.4" stroke="#000" stroke-width="1.2"/><line x1="77.06" y1="745" x2="77.06" y2="747.4" stroke="#000" stroke-width="1.2"/><line x1="84.79" y1="745" x2="84.79" y2="747.4" stroke="#000" stroke-width="1.2"/><line x1="92.53" y1="745" x2="92.53" y2="749.4" stroke="#000" stroke-width="1.2"/><text x="92.53" y="761.6" font-size="10.8" text-anchor="middle" >50K</text><line x1="100.27" y1="745" x2="100.27" y2="747.4" stroke="#000" stroke-width="1.2"/><line x1="108" y1="745" x2="108" y2="747.4" stroke="#000" stroke-width="1.2"/><line x1="115.74" y1="745" x2="115.74" y2="747.4" stroke="#000" stroke-width="1.2"/><line x1="123.47" y1="745" x2="123.47" y2="747.4" stroke="#000" stroke-width="1.2"/><line x1="131.21" y1="745" x2="131.21" y2="749.4" stroke="#000" stroke-width="1.2"/><text x="131.21" y="761.6" font-size="10.8" text-anchor="middle" >100K</text><line x1="138.95" y1="745" x2="138.95" y2="747.4" stroke="#000" stroke-width="1.2"/><line x1="146.68" y1="745" x2="146.68" y2="747.4" stroke="#000" stroke-width="1.2"/><line x1="154.42" y1="745" x2="154.42" y2="747.4" stroke="#000" stroke-width="1.2"/><line x1="162.15" y1="745" x2="162.15" y2="747.4" stroke="#000" stroke-width="1.2"/><line x1="169.89" y1="745" x2="169.89" y2="749.4" stroke="#000" stroke-width="1.2"/><text x="169.89" y="761.6" font-size="10.8" text-anchor="middle" >150K</text><line x1="177.63" y1="745" x2="177.63" y2="747.4" stroke="#000" stroke-width="1.2"/><line x1="185.36" y1="745" x2="185.36" y2="747.4" stroke="#000" stroke-width="1.2"/><line x1="193.1" y1="745" x2="193.1" y2="747.4" stroke="#000" stroke-width="1.2"/><line x1="200.83" y1="745" x2="200.83" y2="747.4" stroke="#000" stroke-width="1.2"/><line x1="208.57" y1="745" x2="208.57" y2="749.4" stroke="#000" stroke-width="1.2"/><text x="208.57" y="761.6" font-size="10.8" text-anchor="middle" >200K</text><line x1="216.31" y1="745" x2="216.31" y2="747.4" stroke="#000" stroke-width="1.2"/><line x1="224.04" y1="745" x2="224.04" y2="747.4" stroke="#000" stroke-width="1.2"/><line x1="231.78" y1="745" x2="231.78" y2="747.4" stroke="#000" stroke-width="1.2"/><line x1="239.51" y1="745" x2="239.51" y2="747.4" stroke="#000" stroke-width="1.2"/><line x1="247.25" y1="745" x2="247.25" y2="749.4" stroke="#000" stroke-width="1.2"/><text x="247.25" y="761.6" font-size="10.8" text-anchor="middle" >250K</text><line x1="254.99" y1="745" x2="254.99" y2="747.4" stroke="#000" stroke-width="1.2"/><line x1="50.2" y1="707.3" x2="53.8" y2="707.3" stroke="#000" stroke-width="1.2"/><line x1="51.5" y1="707.07" x2="53.8" y2="707.07" stroke="#000" stroke-width="1.05"/><line x1="51.5" y1="707.53" x2="53.8" y2="707.53" stroke="#000" stroke-width="1.05"/><line x1="51.5" y1="706.83" x2="53.8" y2="706.83" stroke="#000" stroke-width="1.05"/><line x1="51.5" y1="707.76" x2="53.8" y2="707.76" stroke="#000" stroke-width="1.05"/><line x1="51.5" y1="706.6" x2="53.8" y2="706.6" stroke="#000" stroke-width="1.05"/><line x1="51.5" y1="707.99" x2="53.8" y2="707.99" stroke="#000" stroke-width="1.05"/><line x1="51.5" y1="706.36" x2="53.8" y2="706.36" stroke="#000" stroke-width="1.05"/><line x1="51.5" y1="708.22" x2="53.8" y2="708.22" stroke="#000" stroke-width="1.05"/><line x1="51.5" y1="706.13" x2="53.8" y2="706.13" stroke="#000" stroke-width="1.05"/><line x1="51.5" y1="708.45" x2="53.8" y2="708.45" stroke="#000" stroke-width="1.05"/><line x1="51.5" y1="705.9" x2="53.8" y2="705.9" stroke="#000" stroke-width="1.05"/><line x1="51.5" y1="708.69" x2="53.8" y2="708.69" stroke="#000" stroke-width="1.05"/><line x1="51.5" y1="705.66" x2="53.8" y2="705.66" stroke="#000" stroke-width="1.05"/><line x1="51.5" y1="708.92" x2="53.8" y2="708.92" stroke="#000" stroke-width="1.05"/><line x1="51.5" y1="705.43" x2="53.8" y2="705.43" stroke="#000" stroke-width="1.05"/><line x1="51.5" y1="709.15" x2="53.8" y2="709.15" stroke="#000" stroke-width="1.05"/><line x1="51.5" y1="705.19" x2="53.8" y2="705.19" stroke="#000" stroke-width="1.05"/><line x1="51.5" y1="709.38" x2="53.8" y2="709.38" stroke="#000" stroke-width="1.05"/><line x1="51.5" y1="704.96" x2="53.8" y2="704.96" stroke="#000" stroke-width="1.05"/><line x1="51.5" y1="709.61" x2="53.8" y2="709.61" stroke="#000" stroke-width="1.05"/><line x1="51.5" y1="702.62" x2="53.8" y2="702.62" stroke="#000" stroke-width="1.05"/><line x1="51.5" y1="711.92" x2="53.8" y2="711.92" stroke="#000" stroke-width="1.05"/><line x1="51.5" y1="700.28" x2="53.8" y2="700.28" stroke="#000" stroke-width="1.05"/><line x1="51.5" y1="714.23" x2="53.8" y2="714.23" stroke="#000" stroke-width="1.05"/><line x1="51.5" y1="697.94" x2="53.8" y2="697.94" stroke="#000" stroke-width="1.05"/><line x1="51.5" y1="716.54" x2="53.8" y2="716.54" stroke="#000" stroke-width="1.05"/><line x1="51.5" y1="695.6" x2="53.8" y2="695.6" stroke="#000" stroke-width="1.05"/><line x1="51.5" y1="718.85" x2="53.8" y2="718.85" stroke="#000" stroke-width="1.05"/><line x1="51.5" y1="693.26" x2="53.8" y2="693.26" stroke="#000" stroke-width="1.05"/><line x1="51.5" y1="721.16" x2="53.8" y2="721.16" stroke="#000" stroke-width="1.05"/><line x1="51.5" y1="690.92" x2="53.8" y2="690.92" stroke="#000" stroke-width="1.05"/><line x1="51.5" y1="723.47" x2="53.8" y2="723.47" stroke="#000" stroke-width="1.05"/><line x1="51.5" y1="688.58" x2="53.8" y2="688.58" stroke="#000" stroke-width="1.05"/><line x1="51.5" y1="725.78" x2="53.8" y2="725.78" stroke="#000" stroke-width="1.05"/><line x1="51.5" y1="686.24" x2="53.8" y2="686.24" stroke="#000" stroke-width="1.05"/><line x1="51.5" y1="728.09" x2="53.8" y2="728.09" stroke="#000" stroke-width="1.05"/><line x1="49.2" y1="683.9" x2="53.8" y2="683.9" stroke="#000" stroke-width="1.2"/><line x1="49.2" y1="730.4" x2="53.8" y2="730.4" stroke="#000" stroke-width="1.2"/><line x1="51.1" y1="662.5" x2="53.8" y2="662.5" stroke="#000" stroke-width="1.05"/><line x1="51.1" y1="649.98" x2="53.8" y2="649.98" stroke="#000" stroke-width="1.05"/><line x1="51.1" y1="641.09" x2="53.8" y2="641.09" stroke="#000" stroke-width="1.05"/><line x1="51.1" y1="634.2" x2="53.8" y2="634.2" stroke="#000" stroke-width="1.05"/><line x1="51.1" y1="628.57" x2="53.8" y2="628.57" stroke="#000" stroke-width="1.05"/><line x1="51.1" y1="623.81" x2="53.8" y2="623.81" stroke="#000" stroke-width="1.05"/><line x1="51.1" y1="619.69" x2="53.8" y2="619.69" stroke="#000" stroke-width="1.05"/><line x1="51.1" y1="616.05" x2="53.8" y2="616.05" stroke="#000" stroke-width="1.05"/><line x1="49.2" y1="612.8" x2="53.8" y2="612.8" stroke="#000" stroke-width="1.2"/><line x1="51.1" y1="597.69" x2="53.8" y2="597.69" stroke="#000" stroke-width="1.05"/><line x1="51.1" y1="588.85" x2="53.8" y2="588.85" stroke="#000" stroke-width="1.05"/><line x1="51.1" y1="582.58" x2="53.8" y2="582.58" stroke="#000" stroke-width="1.05"/><line x1="51.1" y1="577.71" x2="53.8" y2="577.71" stroke="#000" stroke-width="1.05"/><line x1="51.1" y1="573.74" x2="53.8" y2="573.74" stroke="#000" stroke-width="1.05"/><line x1="51.1" y1="570.38" x2="53.8" y2="570.38" stroke="#000" stroke-width="1.05"/><line x1="51.1" y1="567.46" x2="53.8" y2="567.46" stroke="#000" stroke-width="1.05"/><line x1="51.1" y1="564.9" x2="53.8" y2="564.9" stroke="#000" stroke-width="1.05"/><line x1="49.2" y1="562.6" x2="53.8" y2="562.6" stroke="#000" stroke-width="1.2"/><line x1="51.1" y1="547.49" x2="53.8" y2="547.49" stroke="#000" stroke-width="1.05"/><text x="41.4" y="568.9" font-size="10.8" text-anchor="end">10</text><text x="42.3" y="563.5" font-size="7.9">4</text><text x="41.4" y="619.1" font-size="10.8" text-anchor="end">10</text><text x="42.3" y="613.7" font-size="7.9">3</text><text x="41.4" y="690.2" font-size="10.8" text-anchor="end">10</text><text x="42.3" y="684.8" font-size="7.9">2</text><text x="41.4" y="711.1" font-size="10.8" text-anchor="end" >0</text><text x="41.4" y="736.7" font-size="10.8" text-anchor="end">−10</text><text x="42.3" y="731.3" font-size="7.9">2</text><rect x="78.2" y="653" width="101.4" height="78.5" fill="none" stroke="#000" stroke-width="1.6"/><text x="186.86" y="692.2" font-size="10.5" textLength="28.14">CD7−</text><text x="190.75" y="704.9" font-size="10.5" textLength="20.42">83.6</text><text x="0" y="0" font-size="12.6" font-weight="normal" stroke="#000" stroke-width="0.5" word-spacing="1.6" letter-spacing="0.9" text-anchor="middle" transform="translate(156.06 779.2) scale(0.5749 1)">FSC-A</text><text x="0" y="0" font-size="12.6" font-weight="normal" stroke="#000" stroke-width="0.5" word-spacing="1.6" letter-spacing="0.9" text-anchor="middle" transform="translate(22 642.74) rotate(-90) scale(0.5707 1)">FITC-A hCD7</text><rect x="307.4" y="541" width="204" height="204" fill="none" stroke="#000" stroke-width="1.5"/><line x1="348.4" y1="745" x2="348.4" y2="749.2" stroke="#000" stroke-width="1.2"/><line x1="348.44" y1="745" x2="348.44" y2="748" stroke="#000" stroke-width="1.0"/><line x1="348.36" y1="745" x2="348.36" y2="748" stroke="#000" stroke-width="1.0"/><line x1="348.48" y1="745" x2="348.48" y2="748" stroke="#000" stroke-width="1.0"/><line x1="348.32" y1="745" x2="348.32" y2="748" stroke="#000" stroke-width="1.0"/><line x1="348.52" y1="745" x2="348.52" y2="748" stroke="#000" stroke-width="1.0"/><line x1="348.28" y1="745" x2="348.28" y2="748" stroke="#000" stroke-width="1.0"/><line x1="348.56" y1="745" x2="348.56" y2="748" stroke="#000" stroke-width="1.0"/><line x1="348.24" y1="745" x2="348.24" y2="748" stroke="#000" stroke-width="1.0"/><line x1="348.6" y1="745" x2="348.6" y2="748" stroke="#000" stroke-width="1.0"/><line x1="348.2" y1="745" x2="348.2" y2="748" stroke="#000" stroke-width="1.0"/><line x1="348.65" y1="745" x2="348.65" y2="748" stroke="#000" stroke-width="1.0"/><line x1="348.16" y1="745" x2="348.16" y2="748" stroke="#000" stroke-width="1.0"/><line x1="348.69" y1="745" x2="348.69" y2="748" stroke="#000" stroke-width="1.0"/><line x1="348.12" y1="745" x2="348.12" y2="748" stroke="#000" stroke-width="1.0"/><line x1="348.73" y1="745" x2="348.73" y2="748" stroke="#000" stroke-width="1.0"/><line x1="348.08" y1="745" x2="348.08" y2="748" stroke="#000" stroke-width="1.0"/><line x1="348.77" y1="745" x2="348.77" y2="748" stroke="#000" stroke-width="1.0"/><line x1="348.03" y1="745" x2="348.03" y2="748" stroke="#000" stroke-width="1.0"/><line x1="348.81" y1="745" x2="348.81" y2="748" stroke="#000" stroke-width="1.0"/><line x1="347.99" y1="745" x2="347.99" y2="748" stroke="#000" stroke-width="1.0"/><line x1="349.22" y1="745" x2="349.22" y2="748" stroke="#000" stroke-width="1.0"/><line x1="347.59" y1="745" x2="347.59" y2="748" stroke="#000" stroke-width="1.0"/><line x1="349.63" y1="745" x2="349.63" y2="748" stroke="#000" stroke-width="1.0"/><line x1="347.18" y1="745" x2="347.18" y2="748" stroke="#000" stroke-width="1.0"/><line x1="350.04" y1="745" x2="350.04" y2="748" stroke="#000" stroke-width="1.0"/><line x1="346.78" y1="745" x2="346.78" y2="748" stroke="#000" stroke-width="1.0"/><line x1="350.45" y1="745" x2="350.45" y2="748" stroke="#000" stroke-width="1.0"/><line x1="346.37" y1="745" x2="346.37" y2="748" stroke="#000" stroke-width="1.0"/><line x1="350.86" y1="745" x2="350.86" y2="748" stroke="#000" stroke-width="1.0"/><line x1="345.96" y1="745" x2="345.96" y2="748" stroke="#000" stroke-width="1.0"/><line x1="351.27" y1="745" x2="351.27" y2="748" stroke="#000" stroke-width="1.0"/><line x1="345.56" y1="745" x2="345.56" y2="748" stroke="#000" stroke-width="1.0"/><line x1="351.68" y1="745" x2="351.68" y2="748" stroke="#000" stroke-width="1.0"/><line x1="345.15" y1="745" x2="345.15" y2="748" stroke="#000" stroke-width="1.0"/><line x1="352.09" y1="745" x2="352.09" y2="748" stroke="#000" stroke-width="1.0"/><line x1="344.75" y1="745" x2="344.75" y2="748" stroke="#000" stroke-width="1.0"/><line x1="352.5" y1="745" x2="352.5" y2="747.4" stroke="#000" stroke-width="1.2"/><line x1="344.34" y1="745" x2="344.34" y2="747.4" stroke="#000" stroke-width="1.2"/><line x1="356.6" y1="745" x2="356.6" y2="747.4" stroke="#000" stroke-width="1.2"/><line x1="340.28" y1="745" x2="340.28" y2="747.4" stroke="#000" stroke-width="1.2"/><line x1="360.7" y1="745" x2="360.7" y2="747.4" stroke="#000" stroke-width="1.2"/><line x1="336.22" y1="745" x2="336.22" y2="747.4" stroke="#000" stroke-width="1.2"/><line x1="364.8" y1="745" x2="364.8" y2="747.4" stroke="#000" stroke-width="1.2"/><line x1="332.16" y1="745" x2="332.16" y2="747.4" stroke="#000" stroke-width="1.2"/><line x1="368.9" y1="745" x2="368.9" y2="747.4" stroke="#000" stroke-width="1.2"/><line x1="328.1" y1="745" x2="328.1" y2="747.4" stroke="#000" stroke-width="1.2"/><line x1="373" y1="745" x2="373" y2="747.4" stroke="#000" stroke-width="1.2"/><line x1="324.04" y1="745" x2="324.04" y2="747.4" stroke="#000" stroke-width="1.2"/><line x1="377.1" y1="745" x2="377.1" y2="747.4" stroke="#000" stroke-width="1.2"/><line x1="319.98" y1="745" x2="319.98" y2="747.4" stroke="#000" stroke-width="1.2"/><line x1="381.2" y1="745" x2="381.2" y2="747.4" stroke="#000" stroke-width="1.2"/><line x1="315.92" y1="745" x2="315.92" y2="747.4" stroke="#000" stroke-width="1.2"/><line x1="385.3" y1="745" x2="385.3" y2="747.4" stroke="#000" stroke-width="1.2"/><line x1="311.86" y1="745" x2="311.86" y2="747.4" stroke="#000" stroke-width="1.2"/><line x1="389.4" y1="745" x2="389.4" y2="749.4" stroke="#000" stroke-width="1.2"/><line x1="307.8" y1="745" x2="307.8" y2="749.4" stroke="#000" stroke-width="1.2"/><line x1="405.75" y1="745" x2="405.75" y2="747.4" stroke="#000" stroke-width="1.2"/><line x1="415.31" y1="745" x2="415.31" y2="747.4" stroke="#000" stroke-width="1.2"/><line x1="422.09" y1="745" x2="422.09" y2="747.4" stroke="#000" stroke-width="1.2"/><line x1="427.35" y1="745" x2="427.35" y2="747.4" stroke="#000" stroke-width="1.2"/><line x1="431.65" y1="745" x2="431.65" y2="747.4" stroke="#000" stroke-width="1.2"/><line x1="435.29" y1="745" x2="435.29" y2="747.4" stroke="#000" stroke-width="1.2"/><line x1="438.44" y1="745" x2="438.44" y2="747.4" stroke="#000" stroke-width="1.2"/><line x1="441.22" y1="745" x2="441.22" y2="747.4" stroke="#000" stroke-width="1.2"/><line x1="443.7" y1="745" x2="443.7" y2="749.4" stroke="#000" stroke-width="1.2"/><line x1="458" y1="745" x2="458" y2="747.4" stroke="#000" stroke-width="1.2"/><line x1="466.36" y1="745" x2="466.36" y2="747.4" stroke="#000" stroke-width="1.2"/><line x1="472.3" y1="745" x2="472.3" y2="747.4" stroke="#000" stroke-width="1.2"/><line x1="476.9" y1="745" x2="476.9" y2="747.4" stroke="#000" stroke-width="1.2"/><line x1="480.66" y1="745" x2="480.66" y2="747.4" stroke="#000" stroke-width="1.2"/><line x1="483.84" y1="745" x2="483.84" y2="747.4" stroke="#000" stroke-width="1.2"/><line x1="486.6" y1="745" x2="486.6" y2="747.4" stroke="#000" stroke-width="1.2"/><line x1="489.03" y1="745" x2="489.03" y2="747.4" stroke="#000" stroke-width="1.2"/><line x1="491.2" y1="745" x2="491.2" y2="749.4" stroke="#000" stroke-width="1.2"/><line x1="505.5" y1="745" x2="505.5" y2="747.4" stroke="#000" stroke-width="1.2"/><text x="295.99" y="761.6" font-size="10.8">−10</text><text x="315.21" y="757" font-size="7.9">3</text><text x="348.4" y="761.6" font-size="10.8" text-anchor="middle" >0</text><text x="380.75" y="761.6" font-size="10.8">10</text><text x="393.66" y="757" font-size="7.9">3</text><text x="435.05" y="761.6" font-size="10.8">10</text><text x="447.96" y="757" font-size="7.9">4</text><text x="482.55" y="761.6" font-size="10.8">10</text><text x="495.46" y="757" font-size="7.9">5</text><line x1="303.8" y1="707.3" x2="307.4" y2="707.3" stroke="#000" stroke-width="1.2"/><line x1="305.1" y1="707.07" x2="307.4" y2="707.07" stroke="#000" stroke-width="1.05"/><line x1="305.1" y1="707.53" x2="307.4" y2="707.53" stroke="#000" stroke-width="1.05"/><line x1="305.1" y1="706.83" x2="307.4" y2="706.83" stroke="#000" stroke-width="1.05"/><line x1="305.1" y1="707.76" x2="307.4" y2="707.76" stroke="#000" stroke-width="1.05"/><line x1="305.1" y1="706.6" x2="307.4" y2="706.6" stroke="#000" stroke-width="1.05"/><line x1="305.1" y1="707.99" x2="307.4" y2="707.99" stroke="#000" stroke-width="1.05"/><line x1="305.1" y1="706.36" x2="307.4" y2="706.36" stroke="#000" stroke-width="1.05"/><line x1="305.1" y1="708.22" x2="307.4" y2="708.22" stroke="#000" stroke-width="1.05"/><line x1="305.1" y1="706.13" x2="307.4" y2="706.13" stroke="#000" stroke-width="1.05"/><line x1="305.1" y1="708.45" x2="307.4" y2="708.45" stroke="#000" stroke-width="1.05"/><line x1="305.1" y1="705.9" x2="307.4" y2="705.9" stroke="#000" stroke-width="1.05"/><line x1="305.1" y1="708.69" x2="307.4" y2="708.69" stroke="#000" stroke-width="1.05"/><line x1="305.1" y1="705.66" x2="307.4" y2="705.66" stroke="#000" stroke-width="1.05"/><line x1="305.1" y1="708.92" x2="307.4" y2="708.92" stroke="#000" stroke-width="1.05"/><line x1="305.1" y1="705.43" x2="307.4" y2="705.43" stroke="#000" stroke-width="1.05"/><line x1="305.1" y1="709.15" x2="307.4" y2="709.15" stroke="#000" stroke-width="1.05"/><line x1="305.1" y1="705.19" x2="307.4" y2="705.19" stroke="#000" stroke-width="1.05"/><line x1="305.1" y1="709.38" x2="307.4" y2="709.38" stroke="#000" stroke-width="1.05"/><line x1="305.1" y1="704.96" x2="307.4" y2="704.96" stroke="#000" stroke-width="1.05"/><line x1="305.1" y1="709.61" x2="307.4" y2="709.61" stroke="#000" stroke-width="1.05"/><line x1="305.1" y1="702.62" x2="307.4" y2="702.62" stroke="#000" stroke-width="1.05"/><line x1="305.1" y1="711.92" x2="307.4" y2="711.92" stroke="#000" stroke-width="1.05"/><line x1="305.1" y1="700.28" x2="307.4" y2="700.28" stroke="#000" stroke-width="1.05"/><line x1="305.1" y1="714.23" x2="307.4" y2="714.23" stroke="#000" stroke-width="1.05"/><line x1="305.1" y1="697.94" x2="307.4" y2="697.94" stroke="#000" stroke-width="1.05"/><line x1="305.1" y1="716.54" x2="307.4" y2="716.54" stroke="#000" stroke-width="1.05"/><line x1="305.1" y1="695.6" x2="307.4" y2="695.6" stroke="#000" stroke-width="1.05"/><line x1="305.1" y1="718.85" x2="307.4" y2="718.85" stroke="#000" stroke-width="1.05"/><line x1="305.1" y1="693.26" x2="307.4" y2="693.26" stroke="#000" stroke-width="1.05"/><line x1="305.1" y1="721.16" x2="307.4" y2="721.16" stroke="#000" stroke-width="1.05"/><line x1="305.1" y1="690.92" x2="307.4" y2="690.92" stroke="#000" stroke-width="1.05"/><line x1="305.1" y1="723.47" x2="307.4" y2="723.47" stroke="#000" stroke-width="1.05"/><line x1="305.1" y1="688.58" x2="307.4" y2="688.58" stroke="#000" stroke-width="1.05"/><line x1="305.1" y1="725.78" x2="307.4" y2="725.78" stroke="#000" stroke-width="1.05"/><line x1="305.1" y1="686.24" x2="307.4" y2="686.24" stroke="#000" stroke-width="1.05"/><line x1="305.1" y1="728.09" x2="307.4" y2="728.09" stroke="#000" stroke-width="1.05"/><line x1="302.8" y1="683.9" x2="307.4" y2="683.9" stroke="#000" stroke-width="1.2"/><line x1="302.8" y1="730.4" x2="307.4" y2="730.4" stroke="#000" stroke-width="1.2"/><line x1="304.7" y1="662.5" x2="307.4" y2="662.5" stroke="#000" stroke-width="1.05"/><line x1="304.7" y1="649.98" x2="307.4" y2="649.98" stroke="#000" stroke-width="1.05"/><line x1="304.7" y1="641.09" x2="307.4" y2="641.09" stroke="#000" stroke-width="1.05"/><line x1="304.7" y1="634.2" x2="307.4" y2="634.2" stroke="#000" stroke-width="1.05"/><line x1="304.7" y1="628.57" x2="307.4" y2="628.57" stroke="#000" stroke-width="1.05"/><line x1="304.7" y1="623.81" x2="307.4" y2="623.81" stroke="#000" stroke-width="1.05"/><line x1="304.7" y1="619.69" x2="307.4" y2="619.69" stroke="#000" stroke-width="1.05"/><line x1="304.7" y1="616.05" x2="307.4" y2="616.05" stroke="#000" stroke-width="1.05"/><line x1="302.8" y1="612.8" x2="307.4" y2="612.8" stroke="#000" stroke-width="1.2"/><line x1="304.7" y1="597.69" x2="307.4" y2="597.69" stroke="#000" stroke-width="1.05"/><line x1="304.7" y1="588.85" x2="307.4" y2="588.85" stroke="#000" stroke-width="1.05"/><line x1="304.7" y1="582.58" x2="307.4" y2="582.58" stroke="#000" stroke-width="1.05"/><line x1="304.7" y1="577.71" x2="307.4" y2="577.71" stroke="#000" stroke-width="1.05"/><line x1="304.7" y1="573.74" x2="307.4" y2="573.74" stroke="#000" stroke-width="1.05"/><line x1="304.7" y1="570.38" x2="307.4" y2="570.38" stroke="#000" stroke-width="1.05"/><line x1="304.7" y1="567.46" x2="307.4" y2="567.46" stroke="#000" stroke-width="1.05"/><line x1="304.7" y1="564.9" x2="307.4" y2="564.9" stroke="#000" stroke-width="1.05"/><line x1="302.8" y1="562.6" x2="307.4" y2="562.6" stroke="#000" stroke-width="1.2"/><line x1="304.7" y1="547.49" x2="307.4" y2="547.49" stroke="#000" stroke-width="1.05"/><text x="295" y="568.9" font-size="10.8" text-anchor="end">10</text><text x="295.9" y="563.5" font-size="7.9">4</text><text x="295" y="619.1" font-size="10.8" text-anchor="end">10</text><text x="295.9" y="613.7" font-size="7.9">3</text><text x="295" y="690.2" font-size="10.8" text-anchor="end">10</text><text x="295.9" y="684.8" font-size="7.9">2</text><text x="295" y="711.1" font-size="10.8" text-anchor="end" >0</text><text x="295" y="736.7" font-size="10.8" text-anchor="end">−10</text><text x="295.9" y="731.3" font-size="7.9">2</text><line x1="428" y1="541" x2="428" y2="745" stroke="#000" stroke-width="1.6"/><line x1="307.4" y1="658.6" x2="511.4" y2="658.6" stroke="#000" stroke-width="1.6"/><text x="312.76" y="556.3" font-size="10.5" textLength="67.05">CD26− CD7+</text><text x="336.5" y="568.9" font-size="10.5" textLength="20.16">10.6</text><text x="436.56" y="556.2" font-size="10.5" textLength="67.35">CD26+ CD7+</text><text x="459.36" y="568.9" font-size="10.5" textLength="21.34">6.24</text><text x="313.56" y="725.9" font-size="10.5" textLength="65.75">CD26− CD7−</text><text x="335.85" y="738.3" font-size="10.5" textLength="21.22">81.3</text><text x="436.66" y="725.7" font-size="10.5" textLength="66.65">CD26+ CD7−</text><text x="459.5" y="738" font-size="10.5" textLength="21.14">1.85</text><text x="0" y="0" font-size="12.6" font-weight="normal" stroke="#000" stroke-width="0.5" word-spacing="1.6" letter-spacing="0.9" text-anchor="middle" transform="translate(409.66 779.2) scale(0.5830 1)">PE-A hCD26</text><text x="0" y="0" font-size="12.6" font-weight="normal" stroke="#000" stroke-width="0.5" word-spacing="1.6" letter-spacing="0.9" text-anchor="middle" transform="translate(276 642.74) rotate(-90) scale(0.5707 1)">FITC-A hCD7</text></svg>
</body></html>
